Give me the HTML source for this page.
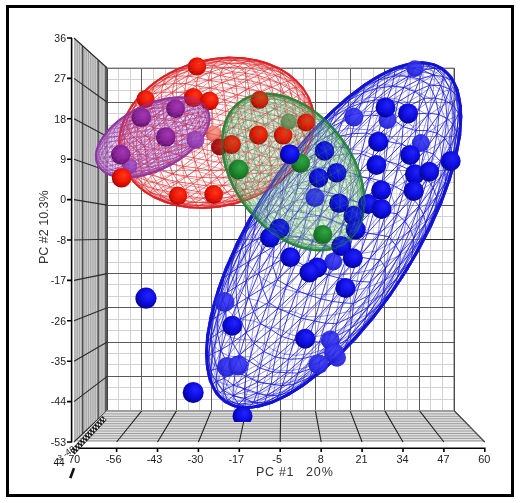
<!DOCTYPE html><html><head><meta charset="utf-8"><style>html,body{margin:0;padding:0;background:#fff}svg{display:block;filter:blur(0.35px)}text{font-family:"Liberation Sans",sans-serif}</style></head><body><svg width="520" height="503" viewBox="0 0 520 503"><defs><radialGradient id="sb" cx="0.56" cy="0.42" r="0.62" fx="0.62" fy="0.35"><stop offset="0" stop-color="#2424fa"/><stop offset="0.5" stop-color="#0e0ee8"/><stop offset="0.85" stop-color="#0505aa"/><stop offset="1" stop-color="#000070"/></radialGradient><radialGradient id="sr" cx="0.56" cy="0.42" r="0.62" fx="0.62" fy="0.35"><stop offset="0" stop-color="#ff3a1a"/><stop offset="0.5" stop-color="#f41800"/><stop offset="0.85" stop-color="#c00800"/><stop offset="1" stop-color="#780000"/></radialGradient><radialGradient id="sp" cx="0.56" cy="0.42" r="0.62" fx="0.62" fy="0.35"><stop offset="0" stop-color="#a838b8"/><stop offset="0.5" stop-color="#8c2499"/><stop offset="0.85" stop-color="#661270"/><stop offset="1" stop-color="#440848"/></radialGradient><radialGradient id="sg" cx="0.56" cy="0.42" r="0.62" fx="0.62" fy="0.35"><stop offset="0" stop-color="#38a848"/><stop offset="0.5" stop-color="#1e8c2e"/><stop offset="0.85" stop-color="#146a20"/><stop offset="1" stop-color="#0a4010"/></radialGradient><radialGradient id="sB" cx="0.56" cy="0.42" r="0.62" fx="0.62" fy="0.35"><stop offset="0" stop-color="#4848f4"/><stop offset="0.5" stop-color="#3a3aee"/><stop offset="0.85" stop-color="#2c2cd8"/><stop offset="1" stop-color="#2020c0"/></radialGradient><radialGradient id="sR" cx="0.56" cy="0.42" r="0.62" fx="0.62" fy="0.35"><stop offset="0" stop-color="#f8a090"/><stop offset="0.5" stop-color="#f08878"/><stop offset="0.85" stop-color="#e07060"/><stop offset="1" stop-color="#c85848"/></radialGradient><radialGradient id="sD" cx="0.56" cy="0.42" r="0.62" fx="0.62" fy="0.35"><stop offset="0" stop-color="#c02020"/><stop offset="0.5" stop-color="#a81818"/><stop offset="0.85" stop-color="#901010"/><stop offset="1" stop-color="#700808"/></radialGradient><radialGradient id="sP" cx="0.56" cy="0.42" r="0.62" fx="0.62" fy="0.35"><stop offset="0" stop-color="#b060c8"/><stop offset="0.5" stop-color="#a050c0"/><stop offset="0.85" stop-color="#8838a8"/><stop offset="1" stop-color="#702890"/></radialGradient><radialGradient id="sG" cx="0.56" cy="0.42" r="0.62" fx="0.62" fy="0.35"><stop offset="0" stop-color="#8aa070"/><stop offset="0.5" stop-color="#7a9464"/><stop offset="0.85" stop-color="#688456"/><stop offset="1" stop-color="#587448"/></radialGradient></defs><rect width="520" height="503" fill="#fff"/><path d="M118.5 68V410.6M130.5 68V410.6M153.5 68V410.6M165.5 68V410.6M188.5 68V410.6M199.5 68V410.6M222.5 68V410.6M234.5 68V410.6M257.5 68V410.6M269.5 68V410.6M292.5 68V410.6M303.5 68V410.6M326.5 68V410.6M338.5 68V410.6M361.5 68V410.6M373.5 68V410.6M396.5 68V410.6M407.5 68V410.6M430.5 68V410.6M442.5 68V410.6M107.2 79.5H454.1M107.2 90.5H454.1M107.2 113.5H454.1M107.2 125.5H454.1M107.2 147.5H454.1M107.2 159.5H454.1M107.2 182.5H454.1M107.2 193.5H454.1M107.2 216.5H454.1M107.2 227.5H454.1M107.2 250.5H454.1M107.2 262.5H454.1M107.2 284.5H454.1M107.2 296.5H454.1M107.2 319.5H454.1M107.2 330.5H454.1M107.2 353.5H454.1M107.2 364.5H454.1M107.2 387.5H454.1M107.2 399.5H454.1" stroke="#d2d2d2" stroke-width="1" fill="none"/><path d="M107.5 68V410.6M141.5 68V410.6M176.5 68V410.6M211.5 68V410.6M245.5 68V410.6M280.5 68V410.6M315.5 68V410.6M350.5 68V410.6M384.5 68V410.6M419.5 68V410.6M454.5 68V410.6M107.2 68.5H454.1M107.2 102.5H454.1M107.2 136.5H454.1M107.2 170.5H454.1M107.2 205.5H454.1M107.2 239.5H454.1M107.2 273.5H454.1M107.2 307.5H454.1M107.2 342.5H454.1M107.2 376.5H454.1M107.2 410.5H454.1" stroke="#5a5a5a" stroke-width="1" fill="none"/><path d="M107.2 239.5H454.1" stroke="#303030" stroke-width="1" fill="none"/><polygon points="74,38 107.2,68 107.2,410.6 74,442" fill="#9c9c9c"/><path d="M75 38.9L75 441.1M76.8 40.5L76.8 439.4M78.6 42.2L78.6 437.7M80.4 43.8L80.4 436M82.2 45.4L82.2 434.2M84 47L84 432.5M85.8 48.7L85.8 430.8M87.6 50.3L87.6 429.1M89.4 51.9L89.4 427.4M91.2 53.5L91.2 425.7M93 55.2L93 424M94.8 56.8L94.8 422.3M96.6 58.4L96.6 420.6M98.4 60.1L98.4 418.9M100.2 61.7L100.2 417.2M102 63.3L102 415.5M103.8 64.9L103.8 413.8M105.6 66.6L105.6 412.1" stroke="#d8d8d8" stroke-width="0.9" fill="none"/><path d="M82.7 45.9L82.7 433.8M98.2 59.9L98.2 419.1M105.8 66.7L105.8 411.9M107.2 68L107.2 410.6" stroke="#3a3a3a" stroke-width="1.1" fill="none"/><path d="M74 38L107.2 68M74 78.4L107.2 102.3M74 118.8L107.2 136.5M74 159.2L107.2 170.8M74 199.6L107.2 205.1M74 240L107.2 239.3M74 280.4L107.2 273.6M74 320.8L107.2 307.8M74 361.2L107.2 342.1M74 401.6L107.2 376.4M74 442L107.2 410.6" stroke="#2a2a2a" stroke-width="1.1" fill="none"/><polygon points="76,442 484.8,442 454.1,410.6 107.2,410.6" fill="#e2e2e2"/><path d="M106.7 411.4H454.9M104.2 413.9H457.3M101.8 416.3H459.7M99.3 418.8H462.1M96.8 421.2H464.5M94.4 423.7H466.9M91.9 426.1H469.3M89.5 428.6H471.7M87 431H474.1M84.6 433.5H476.5M82.1 435.9H478.9M79.6 438.4H481.2M77.2 440.8H483.6" stroke="#9a9a9a" stroke-width="1" fill="none"/><path d="M116.6 442L141.9 410.6M157.5 442L176.6 410.6M198.4 442L211.3 410.6M239.3 442L246 410.6M280.2 442L280.7 410.6M321.2 442L315.4 410.6M362.1 442L350.1 410.6M403 442L384.7 410.6M443.9 442L419.4 410.6M484.8 442L454.1 410.6" stroke="#222" stroke-width="1.1" fill="none"/><path d="M454.1 410.6L484.8 442" stroke="#555" stroke-width="1" fill="none"/><path d="M454.1 68V410.6" stroke="#444" stroke-width="1" fill="none"/><path d="M107.2 410.6H454.1" stroke="#9a9a9a" stroke-width="1" fill="none"/><path d="M107.2 68H454.1" stroke="#8a8a8a" stroke-width="1" fill="none"/><ellipse cx="216.5" cy="132.8" rx="99.8" ry="73.8" transform="rotate(-15 216.5 132.8)" fill="#fff" fill-opacity="0.55"/><ellipse cx="152.7" cy="137.4" rx="62" ry="33.3" transform="rotate(-26.5 152.7 137.4)" fill="#fff" fill-opacity="0.5"/><ellipse cx="333.7" cy="235.2" rx="200" ry="81.3" transform="rotate(-57.1 333.7 235.2)" fill="#fff" fill-opacity="0.35"/><path d="M271.2 187.3L264.5 192.4M271.2 187.3L277.7 184.1M271.2 187.3L259.8 192.8M271.2 187.3L281.2 179.5M271.2 187.3L270.1 184.9M232.3 71.8L245.3 73.1M232.3 71.8L238.1 66.7M232.3 71.8L222.6 68.2M232.3 71.8L220.2 75.4M232.3 71.8L234.3 78.5M146.5 125.4L137.7 129.5M146.5 125.4L144.9 135.8M146.5 125.4L154.4 116.5M146.5 125.4L143.6 117.5M146.5 125.4L155.2 127.8M170.5 196.7L171.7 201.1M170.5 196.7L182.6 200.1M170.5 196.7L159.8 195.2M170.5 196.7L163.4 190.6M170.5 196.7L177.4 193.6M237.6 145L228.9 153.9M237.6 145L244.4 152.4M237.6 145L238.4 134.6M237.6 145L225.2 142.9M237.6 145L250.3 140.5M309.3 110L310.5 120.2M309.3 110L312.8 113M309.3 110L309.1 102M309.3 110L304.5 102.4M309.3 110L305.3 113.7M221.6 202.4L226.5 204.6M221.6 202.4L234.8 200.5M221.6 202.4L208.4 203M221.6 202.4L210.8 206.1M221.6 202.4L216.6 198.5M221.6 202.4L232.3 197M134.9 183.8L143.8 191.7M134.9 183.8L141.9 188.7M134.9 183.8L129.6 177.9M134.9 183.8L128 174.6M134.9 183.8L135.4 181M303.2 151.4L297.4 161.4M303.2 151.4L303 156.9M303.2 151.4L308.9 144.8M303.2 151.4L307.4 141.1M303.2 151.4L301.3 145.5M303.2 151.4L295.3 157.6M148.3 166L142.1 172M148.3 166L152.1 175.1M148.3 166L145.8 156.3M148.3 166L138.4 160.8M148.3 166L156.2 159.2M148.3 166L160 170.4M120.8 141.8L118.7 145.7M120.8 141.8L120.9 153.3M120.8 141.8L124.4 148.6M120.8 141.8L124.7 137.8M120.8 141.8L123.1 130.1M120.8 141.8L119.5 134.8M261.1 172L252.3 181.6M261.1 172L265 177.1M261.1 172L256.2 166M261.1 172L247 175M261.1 172L268.8 161.4M261.1 172L274 168M201.9 177.5L193.2 183.9M201.9 177.5L206.6 185.9M201.9 177.5L217.1 177.8M201.9 177.5L210.9 170.3M201.9 177.5L197.6 168.1M201.9 177.5L187.1 176.2M280.3 83.6L275.5 75.2M280.3 83.6L269.6 79M280.3 83.6L289.8 89.1M280.3 83.6L287.5 81.2M280.3 83.6L271.6 87.1M280.3 83.6L283.6 93.1M298.1 81.8L296.5 80.3M252.8 59.4L248.5 60.4M252.8 59.4L261.5 63M252.8 59.4L266.2 62.5M252.8 59.4L256.4 59.7M252.8 59.4L238.4 58M252.8 59.4L243.2 57.6M193.6 64.9L203.1 64.7M193.6 64.9L208.5 60.8M193.6 64.9L197.5 61.9M193.6 64.9L184.6 66.4M193.6 64.9L190.3 69.7M193.6 64.9L179.3 70.7M143.2 96.4L153.8 86.6M143.2 96.4L145.9 90.6M143.2 96.4L141.9 102.9M143.2 96.4L151.4 94M143.2 96.4L134.4 107.1M143.2 96.4L136.8 99.7M184.6 92.6L196.2 85.9M184.6 92.6L185.8 83.7M184.6 92.6L172.4 92M184.6 92.6L173.7 100M184.6 92.6L197.6 94.1M184.6 92.6L184.2 102.5M187.8 135.6L185.8 124.2M187.8 135.6L176.1 133M187.8 135.6L200 138.1M187.8 135.6L200.1 127.3M187.8 135.6L190.4 146.8M187.8 135.6L176.2 143.8M238.2 104.1L237.3 94.8M238.2 104.1L224.8 99.9M238.2 104.1L225.6 111.4M238.2 104.1L238.7 114M238.2 104.1L250.2 97.5M238.2 104.1L251.1 109M283.5 126.6L274 120.3M283.5 126.6L273.4 131.2M283.5 126.6L292.3 122M283.5 126.6L285.2 114.9M283.5 126.6L291.3 132.9M283.5 126.6L280.1 138.4M256.8 196.4L264.5 192.4M256.8 196.4L252.7 197.7M283 180L277.7 184.1M283 180L287.4 176M247.6 197.3L259.8 192.8M247.6 197.3L252.7 197.7M247.6 197.3L239.6 201.9M247.6 197.3L234.8 200.5M247.6 197.3L258.4 190.1M247.6 197.3L245.4 194.3M231.2 205.1L226.5 204.6M231.2 205.1L239.6 201.9M231.2 205.1L244.3 201.4M231.2 205.1L215.7 207.5M173.8 204.2L171.7 201.1M173.8 204.2L184.1 204.1M173.8 204.2L186.6 206.9M173.8 204.2L176.6 205.9M173.8 204.2L161.3 199.2M173.8 204.2L163.6 201.9M200.1 208L189.8 208M200.1 208L186.6 206.9M200.1 208L197.5 205.8M200.1 208L210.8 206.1M200.1 208L215.7 207.5M200.1 208L204.6 208.6M195.3 202.2L184.1 204.1M195.3 202.2L182.6 200.1M195.3 202.2L208.4 203M195.3 202.2L197.5 205.8M195.3 202.2L189.8 196.6M195.3 202.2L203.3 198.2M150.2 192.5L159.8 195.2M150.2 192.5L161.3 199.2M150.2 192.5L151.7 196M150.2 192.5L141.9 188.7M150.2 192.5L152.9 188.6M150.2 192.5L143.2 185.3M154.5 198.2L143.8 191.7M154.5 198.2L151.7 196M154.5 198.2L163.6 201.9M300.6 161.7L296.1 166.6M300.6 161.7L303 156.9M290 170.8L287.4 176M290 170.8L281.2 179.5M290 170.8L297.4 161.4M290 170.8L296.1 166.6M290 170.8L279.9 176.7M290 170.8L288.5 167.3M309.8 130.7L310.5 120.2M309.8 130.7L313.4 123.4M309.8 130.7L312.1 134.3M309.8 130.7L307.4 141.1M309.8 130.7L305.8 124.1M309.8 130.7L304.5 135M312.4 137.9L308.9 144.8M312.4 137.9L312.1 134.3M312.4 137.9L314.5 127M312.4 137.9L307.7 150M314.5 116.3L313.4 123.4M314.5 116.3L312.8 113M314.5 116.3L314.5 127M314.5 116.3L312.1 105M123.3 164.3L128 174.6M123.3 164.3L123.6 168.1M123.3 164.3L119.9 157.1M123.3 164.3L120.9 153.3M123.3 164.3L129.4 171.2M123.3 164.3L125.6 160M118.5 149.3L118.7 145.7M118.5 149.3L119.9 157.1M157.2 183.3L163.4 190.6M157.2 183.3L152.9 188.6M157.2 183.3L146.8 180.7M157.2 183.3L152.1 175.1M157.2 183.3L170.5 187M157.2 183.3L164.6 179M137.8 177L142.1 172M137.8 177L146.8 180.7M137.8 177L143.2 185.3M137.8 177L135.4 181M137.8 177L129.4 171.2M137.8 177L132.9 166.5M130.4 133.6L137.7 129.5M130.4 133.6L136.5 140M130.4 133.6L129.5 144.4M130.4 133.6L124.7 137.8M130.4 133.6L135.1 121.7M130.4 133.6L128.1 125.9M130.3 155L124.4 148.6M130.3 155L129.5 144.4M130.3 155L136.7 150.8M130.3 155L138.4 160.8M130.3 155L132.9 166.5M130.3 155L125.6 160M144.7 146.2L136.5 140M144.7 146.2L144.9 135.8M144.7 146.2L145.8 156.3M144.7 146.2L136.7 150.8M144.7 146.2L154.1 138.4M144.7 146.2L154.5 149.1M211.5 192.9L216.6 198.5M211.5 192.9L203.3 198.2M211.5 192.9L198.1 191.7M211.5 192.9L206.6 185.9M211.5 192.9L227.2 192.2M211.5 192.9L222 185.6M185 189.3L189.8 196.6M185 189.3L177.4 193.6M185 189.3L193.2 183.9M185 189.3L198.1 191.7M185 189.3L170.5 187M185 189.3L178.6 182M268.1 181.5L270.1 184.9M268.1 181.5L258.4 190.1M268.1 181.5L255.8 186.3M268.1 181.5L265 177.1M268.1 181.5L279.9 176.7M268.1 181.5L277.4 172.7M242.6 190L252.3 181.6M242.6 190L255.8 186.3M242.6 190L245.4 194.3M242.6 190L232.3 197M242.6 190L227.2 192.2M242.6 190L237.7 184.1M219.9 162.4L228.9 153.9M219.9 162.4L235.5 161.3M219.9 162.4L226.2 170M219.9 162.4L210.9 170.3M219.9 162.4L216.2 151.7M219.9 162.4L206.7 160.4M232.3 176.9L217.1 177.8M232.3 176.9L226.2 170M232.3 176.9L241.7 168.6M232.3 176.9L247 175M232.3 176.9L237.7 184.1M232.3 176.9L222 185.6M250.7 159.5L235.5 161.3M250.7 159.5L244.4 152.4M250.7 159.5L256.2 166M250.7 159.5L241.7 168.6M250.7 159.5L257 147.9M250.7 159.5L263.4 155M257.9 75.5L245.3 73.1M257.9 75.5L251.2 68.4M257.9 75.5L264 71.3M257.9 75.5L269.6 79M257.9 75.5L247.3 80.1M257.9 75.5L260.1 83.1M269.1 68.3L275.5 75.2M269.1 68.3L264 71.3M269.1 68.3L256.8 64.9M269.1 68.3L261.5 63M269.1 68.3L281.9 73.4M269.1 68.3L274.6 67M243.5 62.9L251.2 68.4M243.5 62.9L238.1 66.7M243.5 62.9L248.5 60.4M243.5 62.9L256.8 64.9M243.5 62.9L228.3 63.5M243.5 62.9L233.7 60M307.1 94.5L309.1 102M307.1 94.5L303.7 94.4M307.1 94.5L300.9 86.8M307.1 94.5L303.4 87.7M307.1 94.5L312.1 105M307.1 94.5L309.4 97.5M292.9 80.1L296.5 80.3M292.9 80.1L300.9 86.8M292.9 80.1L296.2 87.3M292.9 80.1L287.5 81.2M292.9 80.1L281.9 73.4M292.9 80.1L286.6 73M297.9 95.4L303.7 94.4M297.9 95.4L304.5 102.4M297.9 95.4L289.8 89.1M297.9 95.4L296.2 87.3M297.9 95.4L299.8 106.2M297.9 95.4L292.4 99.2M278.5 67.4L266.2 62.5M278.5 67.4L286.6 73M278.5 67.4L274.6 67M223.5 58.5L238.4 58M223.5 58.5L233.7 60M223.5 58.5L218.2 61.4M223.5 58.5L208.5 60.8M223.5 58.5L228.4 57M223.5 58.5L212.6 58.5M212.8 65.8L228.3 63.5M212.8 65.8L222.6 68.2M212.8 65.8L203.1 64.7M212.8 65.8L218.2 61.4M212.8 65.8L210.4 72.2M212.8 65.8L200.1 70.2M176.2 69.2L188.7 64.2M176.2 69.2L184.6 66.4M176.2 69.2L162.4 76.7M176.2 69.2L170.6 73M201.8 60.5L197.5 61.9M201.8 60.5L212.6 58.5M187.7 76L190.3 69.7M187.7 76L200.1 70.2M187.7 76L197.7 77.5M187.7 76L185.8 83.7M187.7 76L176.3 76.2M187.7 76L173.9 83.6M208.1 80.2L210.4 72.2M208.1 80.2L220.2 75.4M208.1 80.2L196.2 85.9M208.1 80.2L197.7 77.5M208.1 80.2L222.1 82.5M208.1 80.2L209.6 87.9M150 85.6L162.4 76.7M150 85.6L157.4 81.3M150 85.6L145.9 90.6M150 85.6L140.4 94.3M165.9 78L153.8 86.6M165.9 78L157.4 81.3M165.9 78L170.6 73M165.9 78L179.3 70.7M165.9 78L176.3 76.2M165.9 78L162.9 84.6M163.5 108L154.4 116.5M163.5 108L151.9 108.7M163.5 108L161.8 99.9M163.5 108L173.7 100M163.5 108L163.7 119M163.5 108L173.6 110.3M161.2 92.5L172.4 92M161.2 92.5L161.8 99.9M161.2 92.5L150.9 100.9M161.2 92.5L151.4 94M161.2 92.5L162.9 84.6M161.2 92.5L173.9 83.6M142 110L151.9 108.7M142 110L143.6 117.5M142 110L141.9 102.9M142 110L150.9 100.9M142 110L135.1 121.7M142 110L134 114M211.1 96.6L197.6 94.1M211.1 96.6L209.6 87.9M211.1 96.6L223.6 90.9M211.1 96.6L224.8 99.9M211.1 96.6L197.6 104.5M211.1 96.6L211.9 107.5M236 86.2L222.1 82.5M236 86.2L234.3 78.5M236 86.2L237.3 94.8M236 86.2L223.6 90.9M236 86.2L247.3 80.1M236 86.2L249 88.5M165.2 130.4L155.2 127.8M165.2 130.4L163.7 119M165.2 130.4L174.5 121.6M165.2 130.4L176.1 133M165.2 130.4L154.1 138.4M165.2 130.4L164.8 141.1M184.6 113.1L185.8 124.2M184.6 113.1L174.5 121.6M184.6 113.1L173.6 110.3M184.6 113.1L184.2 102.5M184.6 113.1L197.6 104.5M184.6 113.1L198.5 115.9M238.8 124.2L238.4 134.6M238.8 124.2L225.8 132.4M238.8 124.2L225.9 121.6M238.8 124.2L238.7 114M238.8 124.2L251 130M238.8 124.2L251.3 119.2M212.8 119.2L225.6 111.4M212.8 119.2L225.9 121.6M212.8 119.2L212.6 129.8M212.8 119.2L200.1 127.3M212.8 119.2L198.5 115.9M212.8 119.2L211.9 107.5M212.6 140.6L225.8 132.4M212.6 140.6L225.2 142.9M212.6 140.6L200 138.1M212.6 140.6L212.6 129.8M212.6 140.6L216.2 151.7M212.6 140.6L203 149.3M261.5 91.8L250.2 97.5M261.5 91.8L249 88.5M261.5 91.8L260.1 83.1M261.5 91.8L271.6 87.1M261.5 91.8L262.9 102.7M261.5 91.8L274.1 97.3M262.3 135.9L250.3 140.5M262.3 135.9L251 130M262.3 135.9L263.2 125.1M262.3 135.9L273.4 131.2M262.3 135.9L257 147.9M262.3 135.9L269.3 143.1M263.1 114.4L274 120.3M263.1 114.4L263.2 125.1M263.1 114.4L251.3 119.2M263.1 114.4L251.1 109M263.1 114.4L262.9 102.7M263.1 114.4L275 108.7M285.3 103.6L283.6 93.1M285.3 103.6L292.4 99.2M285.3 103.6L293.2 110.5M285.3 103.6L285.2 114.9M285.3 103.6L275 108.7M285.3 103.6L274.1 97.3M299.6 117.7L299.8 106.2M299.6 117.7L305.3 113.7M299.6 117.7L292.3 122M299.6 117.7L293.2 110.5M299.6 117.7L305.8 124.1M299.6 117.7L299.3 128.5M127.6 118.4L134.4 107.1M127.6 118.4L134 114M127.6 118.4L128.1 125.9M127.6 118.4L123.1 130.1M127.6 118.4L128.9 110.8M127.6 118.4L122.9 122.9M132.4 103.9L140.4 94.3M132.4 103.9L136.8 99.7M132.4 103.9L128.9 110.8M132.4 103.9L125.3 115.6M120.6 127.7L119.5 134.8M120.6 127.7L122.9 122.9M193.7 157.8L190.4 146.8M193.7 157.8L203 149.3M193.7 157.8L206.7 160.4M193.7 157.8L197.6 168.1M193.7 157.8L179.2 155M193.7 157.8L182.9 166.2M165.6 151.7L156.2 159.2M165.6 151.7L154.5 149.1M165.6 151.7L164.8 141.1M165.6 151.7L176.2 143.8M165.6 151.7L179.2 155M165.6 151.7L168.6 163.1M173 173.8L187.1 176.2M173 173.8L178.6 182M173 173.8L164.6 179M173 173.8L160 170.4M173 173.8L168.6 163.1M173 173.8L182.9 166.2M297.3 139.3L291.3 132.9M297.3 139.3L299.3 128.5M297.3 139.3L304.5 135M297.3 139.3L301.3 145.5M297.3 139.3L287.2 144.9M297.3 139.3L292.4 151.5M275.1 150.1L268.8 161.4M275.1 150.1L263.4 155M275.1 150.1L269.3 143.1M275.1 150.1L280.1 138.4M275.1 150.1L287.2 144.9M275.1 150.1L281.2 157M285.5 163.2L295.3 157.6M285.5 163.2L288.5 167.3M285.5 163.2L277.4 172.7M285.5 163.2L274 168M285.5 163.2L281.2 157M285.5 163.2L292.4 151.5M264.5 192.4L270.6 188.9M264.5 192.4L277.7 184.1M264.5 192.4L259.8 192.8M264.5 192.4L252.7 197.7M270.6 188.9L277.7 184.1M277.7 184.1L287.4 176M277.7 184.1L281.2 179.5M259.8 192.8L252.7 197.7M259.8 192.8L270.1 184.9M259.8 192.8L258.4 190.1M252.7 197.7L239.6 201.9M252.7 197.7L244.3 201.4M226.5 204.6L239.6 201.9M226.5 204.6L234.8 200.5M226.5 204.6L210.8 206.1M226.5 204.6L215.7 207.5M239.6 201.9L234.8 200.5M239.6 201.9L244.3 201.4M234.8 200.5L245.4 194.3M234.8 200.5L232.3 197M171.7 201.1L184.1 204.1M171.7 201.1L182.6 200.1M171.7 201.1L159.8 195.2M171.7 201.1L161.3 199.2M184.1 204.1L182.6 200.1M184.1 204.1L186.6 206.9M184.1 204.1L197.5 205.8M182.6 200.1L189.8 196.6M182.6 200.1L177.4 193.6M189.8 208L186.6 206.9M189.8 208L176.6 205.9M186.6 206.9L176.6 205.9M186.6 206.9L197.5 205.8M176.6 205.9L163.6 201.9M208.4 203L197.5 205.8M208.4 203L210.8 206.1M208.4 203L216.6 198.5M208.4 203L203.3 198.2M197.5 205.8L210.8 206.1M210.8 206.1L215.7 207.5M220.4 207.1L215.7 207.5M215.7 207.5L204.6 208.6M159.8 195.2L161.3 199.2M159.8 195.2L163.4 190.6M159.8 195.2L152.9 188.6M161.3 199.2L151.7 196M161.3 199.2L163.6 201.9M143.8 191.7L151.7 196M143.8 191.7L141.9 188.7M151.7 196L141.9 188.7M151.7 196L163.6 201.9M141.9 188.7L143.2 185.3M141.9 188.7L135.4 181M163.6 201.9L166.8 203.1M129.6 177.9L128 174.6M129.6 177.9L123.6 168.1M287.4 176L281.2 179.5M287.4 176L292.6 171.3M287.4 176L296.1 166.6M281.2 179.5L270.1 184.9M281.2 179.5L279.9 176.7M292.6 171.3L296.1 166.6M297.4 161.4L296.1 166.6M297.4 161.4L303 156.9M297.4 161.4L295.3 157.6M297.4 161.4L288.5 167.3M296.1 166.6L303 156.9M303 156.9L308.9 144.8M303 156.9L307.7 150M310.5 120.2L313.4 123.4M310.5 120.2L312.8 113M310.5 120.2L305.3 113.7M310.5 120.2L305.8 124.1M313.4 123.4L312.8 113M313.4 123.4L312.1 134.3M313.4 123.4L314.5 127M312.8 113L309.1 102M312.8 113L312.1 105M308.9 144.8L312.1 134.3M308.9 144.8L307.4 141.1M308.9 144.8L307.7 150M312.1 134.3L307.4 141.1M312.1 134.3L314.5 127M307.4 141.1L304.5 135M307.4 141.1L301.3 145.5M128 174.6L123.6 168.1M128 174.6L135.4 181M128 174.6L129.4 171.2M123.6 168.1L119.9 157.1M118.7 145.7L119.9 157.1M118.7 145.7L120.9 153.3M118.7 145.7L119.5 134.8M118.7 145.7L118.5 138.6M119.9 157.1L120.9 153.3M120.9 153.3L124.4 148.6M120.9 153.3L125.6 160M163.4 190.6L152.9 188.6M163.4 190.6L177.4 193.6M163.4 190.6L170.5 187M152.9 188.6L146.8 180.7M152.9 188.6L143.2 185.3M142.1 172L146.8 180.7M142.1 172L152.1 175.1M142.1 172L138.4 160.8M142.1 172L132.9 166.5M146.8 180.7L152.1 175.1M146.8 180.7L143.2 185.3M152.1 175.1L164.6 179M152.1 175.1L160 170.4M143.2 185.3L135.4 181M135.4 181L129.4 171.2M137.7 129.5L136.5 140M137.7 129.5L144.9 135.8M137.7 129.5L143.6 117.5M137.7 129.5L135.1 121.7M136.5 140L144.9 135.8M136.5 140L129.5 144.4M136.5 140L136.7 150.8M144.9 135.8L155.2 127.8M144.9 135.8L154.1 138.4M124.4 148.6L129.5 144.4M124.4 148.6L124.7 137.8M124.4 148.6L125.6 160M129.5 144.4L124.7 137.8M129.5 144.4L136.7 150.8M124.7 137.8L128.1 125.9M124.7 137.8L123.1 130.1M145.8 156.3L136.7 150.8M145.8 156.3L138.4 160.8M145.8 156.3L156.2 159.2M145.8 156.3L154.5 149.1M136.7 150.8L138.4 160.8M138.4 160.8L132.9 166.5M129.4 171.2L132.9 166.5M129.4 171.2L125.6 160M132.9 166.5L125.6 160M189.8 196.6L177.4 193.6M189.8 196.6L203.3 198.2M189.8 196.6L198.1 191.7M177.4 193.6L170.5 187M216.6 198.5L203.3 198.2M216.6 198.5L232.3 197M216.6 198.5L227.2 192.2M203.3 198.2L198.1 191.7M193.2 183.9L198.1 191.7M193.2 183.9L206.6 185.9M193.2 183.9L187.1 176.2M193.2 183.9L178.6 182M198.1 191.7L206.6 185.9M206.6 185.9L217.1 177.8M206.6 185.9L222 185.6M270.1 184.9L258.4 190.1M270.1 184.9L279.9 176.7M258.4 190.1L255.8 186.3M258.4 190.1L245.4 194.3M252.3 181.6L255.8 186.3M252.3 181.6L265 177.1M252.3 181.6L247 175M252.3 181.6L237.7 184.1M255.8 186.3L265 177.1M255.8 186.3L245.4 194.3M265 177.1L277.4 172.7M265 177.1L274 168M245.4 194.3L232.3 197M232.3 197L227.2 192.2M228.9 153.9L235.5 161.3M228.9 153.9L244.4 152.4M228.9 153.9L225.2 142.9M228.9 153.9L216.2 151.7M235.5 161.3L244.4 152.4M235.5 161.3L226.2 170M235.5 161.3L241.7 168.6M244.4 152.4L250.3 140.5M244.4 152.4L257 147.9M217.1 177.8L226.2 170M217.1 177.8L210.9 170.3M217.1 177.8L222 185.6M226.2 170L210.9 170.3M226.2 170L241.7 168.6M210.9 170.3L206.7 160.4M210.9 170.3L197.6 168.1M256.2 166L241.7 168.6M256.2 166L247 175M256.2 166L268.8 161.4M256.2 166L263.4 155M241.7 168.6L247 175M247 175L237.7 184.1M227.2 192.2L237.7 184.1M227.2 192.2L222 185.6M237.7 184.1L222 185.6M245.3 73.1L251.2 68.4M245.3 73.1L238.1 66.7M245.3 73.1L234.3 78.5M245.3 73.1L247.3 80.1M251.2 68.4L238.1 66.7M251.2 68.4L264 71.3M251.2 68.4L256.8 64.9M238.1 66.7L228.3 63.5M238.1 66.7L222.6 68.2M275.5 75.2L264 71.3M275.5 75.2L269.6 79M275.5 75.2L287.5 81.2M275.5 75.2L281.9 73.4M264 71.3L269.6 79M264 71.3L256.8 64.9M269.6 79L260.1 83.1M269.6 79L271.6 87.1M248.5 60.4L256.8 64.9M248.5 60.4L261.5 63M248.5 60.4L238.4 58M248.5 60.4L233.7 60M256.8 64.9L261.5 63M261.5 63L266.2 62.5M261.5 63L274.6 67M309.1 102L303.7 94.4M309.1 102L304.5 102.4M309.1 102L312.1 105M303.7 94.4L304.5 102.4M303.7 94.4L300.9 86.8M303.7 94.4L296.2 87.3M304.5 102.4L299.8 106.2M304.5 102.4L305.3 113.7M296.5 80.3L300.9 86.8M296.5 80.3L303.4 87.7M296.5 80.3L289.2 73.9M296.5 80.3L286.6 73M300.9 86.8L303.4 87.7M300.9 86.8L296.2 87.3M289.8 89.1L296.2 87.3M289.8 89.1L287.5 81.2M289.8 89.1L283.6 93.1M289.8 89.1L292.4 99.2M296.2 87.3L287.5 81.2M287.5 81.2L281.9 73.4M266.2 62.5L256.4 59.7M266.2 62.5L274.6 67M289.2 73.9L286.6 73M281.9 73.4L286.6 73M281.9 73.4L274.6 67M286.6 73L274.6 67M228.3 63.5L222.6 68.2M228.3 63.5L233.7 60M228.3 63.5L218.2 61.4M222.6 68.2L210.4 72.2M222.6 68.2L220.2 75.4M238.4 58L233.7 60M238.4 58L243.2 57.6M238.4 58L228.4 57M233.7 60L218.2 61.4M203.1 64.7L218.2 61.4M203.1 64.7L208.5 60.8M203.1 64.7L190.3 69.7M203.1 64.7L200.1 70.2M218.2 61.4L208.5 60.8M208.5 60.8L197.5 61.9M208.5 60.8L212.6 58.5M243.2 57.6L228.4 57M197.5 61.9L188.7 64.2M197.5 61.9L184.6 66.4M197.5 61.9L212.6 58.5M188.7 64.2L184.6 66.4M184.6 66.4L170.6 73M184.6 66.4L179.3 70.7M228.4 57L212.6 58.5M210.4 72.2L220.2 75.4M210.4 72.2L200.1 70.2M210.4 72.2L197.7 77.5M220.2 75.4L222.1 82.5M220.2 75.4L234.3 78.5M190.3 69.7L200.1 70.2M190.3 69.7L179.3 70.7M190.3 69.7L176.3 76.2M200.1 70.2L197.7 77.5M196.2 85.9L197.7 77.5M196.2 85.9L185.8 83.7M196.2 85.9L197.6 94.1M196.2 85.9L209.6 87.9M197.7 77.5L185.8 83.7M185.8 83.7L172.4 92M185.8 83.7L173.9 83.6M162.4 76.7L157.4 81.3M162.4 76.7L170.6 73M153.8 86.6L157.4 81.3M153.8 86.6L145.9 90.6M153.8 86.6L151.4 94M153.8 86.6L162.9 84.6M157.4 81.3L145.9 90.6M157.4 81.3L170.6 73M145.9 90.6L140.4 94.3M145.9 90.6L136.8 99.7M170.6 73L179.3 70.7M179.3 70.7L176.3 76.2M154.4 116.5L151.9 108.7M154.4 116.5L143.6 117.5M154.4 116.5L155.2 127.8M154.4 116.5L163.7 119M151.9 108.7L143.6 117.5M151.9 108.7L161.8 99.9M151.9 108.7L150.9 100.9M143.6 117.5L135.1 121.7M172.4 92L161.8 99.9M172.4 92L173.7 100M172.4 92L173.9 83.6M161.8 99.9L173.7 100M161.8 99.9L150.9 100.9M173.7 100L173.6 110.3M173.7 100L184.2 102.5M141.9 102.9L150.9 100.9M141.9 102.9L151.4 94M141.9 102.9L134.4 107.1M141.9 102.9L134 114M150.9 100.9L151.4 94M151.4 94L162.9 84.6M176.3 76.2L162.9 84.6M176.3 76.2L173.9 83.6M162.9 84.6L173.9 83.6M222.1 82.5L234.3 78.5M222.1 82.5L209.6 87.9M222.1 82.5L223.6 90.9M234.3 78.5L247.3 80.1M197.6 94.1L209.6 87.9M197.6 94.1L184.2 102.5M197.6 94.1L197.6 104.5M209.6 87.9L223.6 90.9M237.3 94.8L223.6 90.9M237.3 94.8L224.8 99.9M237.3 94.8L250.2 97.5M237.3 94.8L249 88.5M223.6 90.9L224.8 99.9M224.8 99.9L225.6 111.4M224.8 99.9L211.9 107.5M155.2 127.8L163.7 119M155.2 127.8L154.1 138.4M163.7 119L174.5 121.6M163.7 119L173.6 110.3M185.8 124.2L174.5 121.6M185.8 124.2L176.1 133M185.8 124.2L200.1 127.3M185.8 124.2L198.5 115.9M174.5 121.6L176.1 133M174.5 121.6L173.6 110.3M176.1 133L164.8 141.1M176.1 133L176.2 143.8M173.6 110.3L184.2 102.5M184.2 102.5L197.6 104.5M238.4 134.6L225.8 132.4M238.4 134.6L225.2 142.9M238.4 134.6L250.3 140.5M238.4 134.6L251 130M225.8 132.4L225.2 142.9M225.8 132.4L225.9 121.6M225.8 132.4L212.6 129.8M225.2 142.9L216.2 151.7M225.6 111.4L225.9 121.6M225.6 111.4L238.7 114M225.6 111.4L211.9 107.5M225.9 121.6L238.7 114M225.9 121.6L212.6 129.8M238.7 114L251.3 119.2M238.7 114L251.1 109M200 138.1L212.6 129.8M200 138.1L200.1 127.3M200 138.1L190.4 146.8M200 138.1L203 149.3M212.6 129.8L200.1 127.3M200.1 127.3L198.5 115.9M197.6 104.5L198.5 115.9M197.6 104.5L211.9 107.5M198.5 115.9L211.9 107.5M247.3 80.1L249 88.5M247.3 80.1L260.1 83.1M250.2 97.5L249 88.5M250.2 97.5L251.1 109M250.2 97.5L262.9 102.7M249 88.5L260.1 83.1M260.1 83.1L271.6 87.1M271.6 87.1L283.6 93.1M271.6 87.1L274.1 97.3M250.3 140.5L251 130M250.3 140.5L257 147.9M251 130L263.2 125.1M251 130L251.3 119.2M274 120.3L263.2 125.1M274 120.3L273.4 131.2M274 120.3L285.2 114.9M274 120.3L275 108.7M263.2 125.1L273.4 131.2M263.2 125.1L251.3 119.2M273.4 131.2L269.3 143.1M273.4 131.2L280.1 138.4M251.3 119.2L251.1 109M251.1 109L262.9 102.7M299.8 106.2L305.3 113.7M299.8 106.2L292.4 99.2M299.8 106.2L293.2 110.5M305.3 113.7L305.8 124.1M283.6 93.1L292.4 99.2M283.6 93.1L274.1 97.3M292.4 99.2L293.2 110.5M292.3 122L293.2 110.5M292.3 122L285.2 114.9M292.3 122L291.3 132.9M292.3 122L299.3 128.5M293.2 110.5L285.2 114.9M285.2 114.9L275 108.7M262.9 102.7L275 108.7M262.9 102.7L274.1 97.3M275 108.7L274.1 97.3M312.1 105L313.1 108.5M312.1 105L309.4 97.5M135.1 121.7L134 114M135.1 121.7L128.1 125.9M134.4 107.1L134 114M134.4 107.1L136.8 99.7M134.4 107.1L128.9 110.8M134 114L128.1 125.9M128.1 125.9L123.1 130.1M123.1 130.1L119.5 134.8M123.1 130.1L122.9 122.9M140.4 94.3L136.8 99.7M136.8 99.7L128.9 110.8M119.5 134.8L118.5 138.6M119.5 134.8L122.9 122.9M128.9 110.8L125.3 115.6M128.9 110.8L122.9 122.9M125.3 115.6L122.9 122.9M216.2 151.7L203 149.3M216.2 151.7L206.7 160.4M190.4 146.8L203 149.3M190.4 146.8L176.2 143.8M190.4 146.8L179.2 155M203 149.3L206.7 160.4M206.7 160.4L197.6 168.1M197.6 168.1L187.1 176.2M197.6 168.1L182.9 166.2M154.1 138.4L154.5 149.1M154.1 138.4L164.8 141.1M156.2 159.2L154.5 149.1M156.2 159.2L160 170.4M156.2 159.2L168.6 163.1M154.5 149.1L164.8 141.1M164.8 141.1L176.2 143.8M176.2 143.8L179.2 155M170.5 187L178.6 182M170.5 187L164.6 179M187.1 176.2L178.6 182M187.1 176.2L182.9 166.2M178.6 182L164.6 179M164.6 179L160 170.4M160 170.4L168.6 163.1M179.2 155L168.6 163.1M179.2 155L182.9 166.2M168.6 163.1L182.9 166.2M305.8 124.1L299.3 128.5M305.8 124.1L304.5 135M291.3 132.9L299.3 128.5M291.3 132.9L280.1 138.4M291.3 132.9L287.2 144.9M299.3 128.5L304.5 135M304.5 135L301.3 145.5M301.3 145.5L295.3 157.6M301.3 145.5L292.4 151.5M257 147.9L263.4 155M257 147.9L269.3 143.1M268.8 161.4L263.4 155M268.8 161.4L274 168M268.8 161.4L281.2 157M263.4 155L269.3 143.1M269.3 143.1L280.1 138.4M280.1 138.4L287.2 144.9M279.9 176.7L288.5 167.3M279.9 176.7L277.4 172.7M295.3 157.6L288.5 167.3M295.3 157.6L292.4 151.5M288.5 167.3L277.4 172.7M277.4 172.7L274 168M274 168L281.2 157M287.2 144.9L281.2 157M287.2 144.9L292.4 151.5M281.2 157L292.4 151.5" stroke="#e0262a" stroke-width="0.85" stroke-opacity="0.8" fill="none"/><ellipse cx="216.5" cy="132.8" rx="98.9" ry="72.9" transform="rotate(-15 216.5 132.8)" fill="none" stroke="#d82020" stroke-width="1.8"/><ellipse cx="216.5" cy="132.8" rx="96.3" ry="70.3" transform="rotate(-15 216.5 132.8)" fill="none" stroke="#d82020" stroke-width="0.8" stroke-opacity="0.6"/><ellipse cx="216.5" cy="132.8" rx="93.8" ry="67.8" transform="rotate(-15 216.5 132.8)" fill="none" stroke="#d82020" stroke-width="0.7" stroke-opacity="0.4"/><path d="M120.7 124L117.9 123.6M120.7 124L114.6 129M120.7 124L127 121.5M120.7 124L125.6 119M120.7 124L120.1 127.7M176.8 114.2L183.6 112.1M176.8 114.2L177.2 109.9M176.8 114.2L169.9 114M176.8 114.2L171.8 118.7M176.8 114.2L180.2 117.5M132.5 154.4L125.4 157M132.5 154.4L131.7 159.2M132.5 154.4L137.8 149.5M132.5 154.4L129.1 151M132.5 154.4L139.4 154.5M137.4 177L134.8 177.4M137.4 177L143.5 175.9M137.4 177L129.9 177.8M137.4 177L135.4 176.5M137.4 177L143.9 175.3M187 146.9L182 152.3M187 146.9L189.3 148.3M187 146.9L188.1 142.6M187 146.9L181.2 148.8M187 146.9L193 142.3M209 112L208.3 110.4M96.4 162.8L98.4 166.9M96.4 162.8L95.5 159.3M96.4 162.8L95.9 158.7M96.4 162.8L97.7 163.4M110.6 175.6L114 176.7M110.6 175.6L116.3 177.1M110.6 175.6L105.6 173.4M110.6 175.6L107.6 174.5M110.6 175.6L108.2 173.5M110.6 175.6L114.6 175.7M100.8 144.5L98.4 145.3M100.8 144.5L98.1 149.5M100.8 144.5L104.5 139.3M100.8 144.5L102.2 139.3M100.8 144.5L104.4 143.4M100.8 144.5L100.6 149.5M113.7 123.9L108.8 128.9M113.7 123.9L114.4 123.6M113.7 123.9L120 118.7M131.8 170.6L125.3 173.2M131.8 170.6L132.6 173.3M131.8 170.6L131.3 167.4M131.8 170.6L124.6 169.7M131.8 170.6L138.8 167.2M131.8 170.6L139.5 170.8M107.7 162.3L103.4 163.2M107.7 162.3L106.7 166.8M107.7 162.3L112.4 165.5M107.7 162.3L112.9 161M107.7 162.3L109.8 157.2M107.7 162.3L104.1 158.5M191.7 150.9L191.6 150.2M191.7 150.9L185.8 155.5M191.7 150.9L197 145.3M163.9 166.3L157.2 169.9M163.9 166.3L163.9 168M163.9 166.3L171.7 163.3M163.9 166.3L170.3 162.1M163.9 166.3L163.5 163.8M163.9 166.3L155.8 168.5M200 108.8L195.4 105.5M200 108.8L195.3 109.4M200 108.8L203.7 108.8M200 108.8L200.4 105.2M200 108.8L198.3 113.2M200 108.8L203.4 112.9M175.9 100.5L176.8 103M175.9 100.5L183.2 101.3M175.9 100.5L181.8 98.7M175.9 100.5L174.5 98.7M175.9 100.5L169.4 103.2M175.9 100.5L168 100.6M142.9 106.3L151.3 103.5M142.9 106.3L149.2 103.1M142.9 106.3L136.8 110M142.9 106.3L143.9 107.6M142.9 106.3L134.8 109.8M142.9 106.3L142.2 105.7M148.1 115.9L155.5 114.8M148.1 115.9L155.3 111M148.1 115.9L146.5 112.5M148.1 115.9L140.7 117.4M148.1 115.9L149.7 119.8M148.1 115.9L140.9 121.4M122 139.5L127.8 133.3M122 139.5L120.8 135.5M122 139.5L123.9 143.5M122 139.5L129.6 138.1M122 139.5L117 145.7M122 139.5L115.2 140.9M155 133.8L160.7 128.5M155 133.8L153.2 128.9M155 133.8L146.3 135.2M155 133.8L149.1 139.1M155 133.8L163.6 132.5M155 133.8L156.7 138.7M161 153L159.7 148.5M161 153L153.8 153.8M161 153L168.1 151.9M161 153L168.2 147.3M161 153L162.1 157.1M161 153L153.5 158.3M187 129.4L185.4 125.2M187 129.4L179.8 130.2M187 129.4L181.4 135.4M187 129.4L188.1 133.8M187 129.4L191.8 123.6M187 129.4L193.4 128.7M206 128.1L203 128.1M206 128.1L202.6 132.8M206 128.1L208.4 123.6M206 128.1L206.4 122.6M206 128.1L207.7 128.3M206 128.1L204.2 133.8M149.8 174.1L150.1 174M122.8 177.8L129.9 177.8M122.8 177.8L127.4 178M122.8 177.8L120.3 177.8M122.8 177.8L116.3 177.1M122.8 177.8L128 177M122.8 177.8L120.9 176.8M101.5 170.5L99.5 168.4M101.5 170.5L98.4 166.9M101.5 170.5L105.6 173.4M101.5 170.5L103.1 171.8M101.5 170.5L100.1 167.4M101.5 170.5L103.7 170.9M96.4 154.3L95.9 158.7M96.4 154.3L95.3 155.1M96.4 154.3L96.3 150.3M96.4 154.3L98.1 149.5M96.4 154.3L97.5 159.2M96.4 154.3L98.5 154.4M97.4 146L98.4 145.3M97.4 146L96.3 150.3M97.4 146L100.5 140.1M115.8 123.4L117.9 123.6M115.8 123.4L111.9 128.7M115.8 123.4L109.9 128.7M115.8 123.4L114.4 123.6M115.8 123.4L123 118.6M115.8 123.4L121.1 118.5M104.9 134L108.8 128.9M104.9 134L109.9 128.7M104.9 134L106.5 134M104.9 134L102.2 139.3M104.9 134L100.5 140.1M104.9 134L103.9 134.6M109.1 134.1L111.9 128.7M109.1 134.1L114.6 129M109.1 134.1L104.5 139.3M109.1 134.1L106.5 134M109.1 134.1L114.1 132.8M109.1 134.1L108.7 138.2M106.9 170.6L108.2 173.5M106.9 170.6L103.7 170.9M106.9 170.6L103 167.4M106.9 170.6L106.7 166.8M106.9 170.6L112.7 173.2M106.9 170.6L111.9 169.7M100 163.6L100.1 167.4M100 163.6L97.7 163.4M100 163.6L103.4 163.2M100 163.6L103 167.4M100 163.6L97.5 159.2M100 163.6L100.4 159.1M133.9 175.2L135.4 176.5M133.9 175.2L128 177M133.9 175.2L126.4 175.5M133.9 175.2L132.6 173.3M133.9 175.2L142.1 174.6M133.9 175.2L140.6 173M119.6 175L125.3 173.2M119.6 175L126.4 175.5M119.6 175L120.9 176.8M119.6 175L114.6 175.7M119.6 175L112.7 173.2M119.6 175L118.3 171.9M118.8 159.2L125.4 157M118.8 159.2L124.7 161.7M118.8 159.2L118.1 163.8M118.8 159.2L112.9 161M118.8 159.2L122.1 153.5M118.8 159.2L115.5 155.6M118 168L112.4 165.5M118 168L118.1 163.8M118 168L124.4 166M118 168L124.6 169.7M118 168L118.3 171.9M118 168L111.9 169.7M131.3 163.5L124.7 161.7M131.3 163.5L131.7 159.2M131.3 163.5L131.3 167.4M131.3 163.5L124.4 166M131.3 163.5L138.7 159.2M131.3 163.5L138.5 163.6M163.7 168.9L156.8 171.9M163.7 168.9L157.2 171.3M163.7 168.9L163.9 168M163.7 168.9L171.3 165.3M163.7 168.9L171.6 164.7M150.5 173L150.1 174M150.5 173L143.9 175.3M150.5 173L157.2 169.9M150.5 173L157.2 171.3M150.5 173L142.1 174.6M150.5 173L149 171.9M176.4 157.4L182 152.3M176.4 157.4L184 153.6M176.4 157.4L178 158.7M176.4 157.4L170.3 162.1M176.4 157.4L175.9 154.1M176.4 157.4L169.8 159.3M179.1 159.7L171.7 163.3M179.1 159.7L178 158.7M179.1 159.7L185.3 154.7M179.1 159.7L185.8 155.5M179.1 159.7L179 160.6M179.1 159.7L171.6 164.7M190.8 149.4L184 153.6M190.8 149.4L189.3 148.3M190.8 149.4L191.6 150.2M190.8 149.4L185.3 154.7M190.8 149.4L195.1 143.5M190.8 149.4L196.5 144.5M189.8 110.5L183.6 112.1M189.8 110.5L183.9 108M189.8 110.5L190.1 106.4M189.8 110.5L195.3 109.4M189.8 110.5L186.9 115.6M189.8 110.5L193.1 114.1M189.7 103L195.4 105.5M189.7 103L190.1 106.4M189.7 103L183.8 104.3M189.7 103L183.2 101.3M189.7 103L195.3 102.2M189.7 103L188.9 100M177.3 106.2L183.9 108M177.3 106.2L177.2 109.9M177.3 106.2L176.8 103M177.3 106.2L183.8 104.3M177.3 106.2L170.3 109.8M177.3 106.2L170 106.1M199.7 102.3L197.8 100.3M199.7 102.3L202.3 103M199.7 102.3L203.6 105.5M199.7 102.3L200.4 105.2M199.7 102.3L195.3 102.2M199.7 102.3L193.9 99.6M206.5 109.4L205.9 106.4M206.5 109.4L208.3 110.4M206.5 109.4L203.7 108.8M206.5 109.4L203.6 105.5M206.5 109.4L208.8 114M206.5 109.4L206.6 113.2M172.7 97.7L170.6 97.4M172.7 97.7L178 96.8M172.7 97.7L180.2 97.4M172.7 97.7L174.5 98.7M172.7 97.7L164.3 98.7M172.7 97.7L166.4 99.3M187 97.9L181.8 98.7M187 97.9L180.2 97.4M187 97.9L185.1 97M187 97.9L191.4 98.1M187 97.9L193.9 99.6M187 97.9L188.9 100M162.4 106.7L169.4 103.2M162.4 106.7L170 106.1M162.4 106.7L162.7 110.2M162.4 106.7L155.3 111M162.4 106.7L161.2 103.7M162.4 106.7L153.8 107.8M162.8 114.2L170.3 109.8M162.8 114.2L169.9 114M162.8 114.2L155.5 114.8M162.8 114.2L162.7 110.2M162.8 114.2L164.7 118.6M162.8 114.2L157.2 119M155.6 100.7L161.9 98.9M155.6 100.7L164.3 98.7M155.6 100.7L157.7 100.8M155.6 100.7L149.2 103.1M155.6 100.7L148.6 102.9M159.7 101.6L151.3 103.5M159.7 101.6L157.7 100.8M159.7 101.6L166.4 99.3M159.7 101.6L168 100.6M159.7 101.6L161.2 103.7M159.7 101.6L152.4 105.3M133.7 119.3L127 121.5M133.7 119.3L132.1 116.5M133.7 119.3L139.3 114.3M133.7 119.3L140.7 117.4M133.7 119.3L126.6 125.3M133.7 119.3L133.7 123.1M145.1 109.7L146.5 112.5M145.1 109.7L139.3 114.3M145.1 109.7L137.9 111.7M145.1 109.7L143.9 107.6M145.1 109.7L152.4 105.3M145.1 109.7L153.8 107.8M131 114.3L132.1 116.5M131 114.3L125.6 119M131 114.3L136.8 110M131 114.3L137.9 111.7M131 114.3L123 118.6M131 114.3L128.8 113.9M151.4 124.2L149.7 119.8M151.4 124.2L157.2 119M151.4 124.2L159 123.7M151.4 124.2L153.2 128.9M151.4 124.2L142.7 125.6M151.4 124.2L144.5 130.3M166.4 123.5L164.7 118.6M166.4 123.5L171.8 118.7M166.4 123.5L160.7 128.5M166.4 123.5L159 123.7M166.4 123.5L175 122.1M166.4 123.5L169.3 127.3M120.1 131.6L120.1 127.7M120.1 131.6L126.6 125.3M120.1 131.6L126.9 129.3M120.1 131.6L120.8 135.5M120.1 131.6L114.1 132.8M120.1 131.6L114.3 136.9M134.1 127.2L127.8 133.3M134.1 127.2L126.9 129.3M134.1 127.2L133.7 123.1M134.1 127.2L140.9 121.4M134.1 127.2L142.7 125.6M134.1 127.2L135.7 131.8M143.4 144.3L137.8 149.5M143.4 144.3L134.6 145.9M143.4 144.3L140.4 140.5M143.4 144.3L149.1 139.1M143.4 144.3L144.8 149.5M143.4 144.3L150.8 144.1M137.8 136.6L146.3 135.2M137.8 136.6L140.4 140.5M137.8 136.6L131.8 142M137.8 136.6L129.6 138.1M137.8 136.6L135.7 131.8M137.8 136.6L144.5 130.3M126.2 147.3L134.6 145.9M126.2 147.3L129.1 151M126.2 147.3L123.9 143.5M126.2 147.3L131.8 142M126.2 147.3L122.1 153.5M126.2 147.3L119.2 149.6M171.9 131.3L163.6 132.5M171.9 131.3L169.3 127.3M171.9 131.3L177.8 126.1M171.9 131.3L179.8 130.2M171.9 131.3L165.3 137.5M171.9 131.3L173.8 136.3M183.1 121.2L175 122.1M183.1 121.2L180.2 117.5M183.1 121.2L185.4 125.2M183.1 121.2L177.8 126.1M183.1 121.2L186.9 115.6M183.1 121.2L189.7 119.5M146.5 154.3L139.4 154.5M146.5 154.3L144.8 149.5M146.5 154.3L152.4 149.1M146.5 154.3L153.8 153.8M146.5 154.3L138.7 159.2M146.5 154.3L146.2 158.9M158.2 143.7L159.7 148.5M158.2 143.7L152.4 149.1M158.2 143.7L150.8 144.1M158.2 143.7L156.7 138.7M158.2 143.7L165.3 137.5M158.2 143.7L166.9 142.6M188.4 138.2L188.1 142.6M188.4 138.2L182 144.4M188.4 138.2L182.1 139.8M188.4 138.2L188.1 133.8M188.4 138.2L193.9 137.9M188.4 138.2L194 133.2M175.1 141.4L181.4 135.4M175.1 141.4L182.1 139.8M175.1 141.4L175.2 146M175.1 141.4L168.2 147.3M175.1 141.4L166.9 142.6M175.1 141.4L173.8 136.3M174.9 150.5L182 144.4M174.9 150.5L181.2 148.8M174.9 150.5L168.1 151.9M174.9 150.5L175.2 146M174.9 150.5L175.9 154.1M174.9 150.5L169.1 155.8M195.6 118.2L191.8 123.6M195.6 118.2L189.7 119.5M195.6 118.2L193.1 114.1M195.6 118.2L198.3 113.2M195.6 118.2L197.8 123M195.6 118.2L201.2 117.6M198.3 137.5L193 142.3M198.3 137.5L193.9 137.9M198.3 137.5L199 132.9M198.3 137.5L202.6 132.8M198.3 137.5L195.1 143.5M198.3 137.5L200.2 138.6M198.8 128.3L203 128.1M198.8 128.3L199 132.9M198.8 128.3L194 133.2M198.8 128.3L193.4 128.7M198.8 128.3L197.8 123M198.8 128.3L202.8 122.7M205.6 117.5L203.4 112.9M205.6 117.5L206.6 113.2M205.6 117.5L208.2 118.2M205.6 117.5L206.4 122.6M205.6 117.5L202.8 122.7M205.6 117.5L201.2 117.6M209.7 119.3L208.8 114M209.7 119.3L209.9 115.5M209.7 119.3L208.4 123.6M209.7 119.3L208.2 118.2M209.7 119.3L210.1 119.7M209.7 119.3L209.4 123.9M127.1 114L134.8 109.8M127.1 114L128.8 113.9M127.1 114L121.1 118.5M127.1 114L120 118.7M127.1 114L134.1 109.5M127.1 114L126.4 114.2M141.7 105.9L142.2 105.7M112.9 151.6L117 145.7M112.9 151.6L119.2 149.6M112.9 151.6L115.5 155.6M112.9 151.6L109.8 157.2M112.9 151.6L110.5 147.1M112.9 151.6L106.7 153.1M109.3 142.2L104.4 143.4M109.3 142.2L108.7 138.2M109.3 142.2L114.3 136.9M109.3 142.2L115.2 140.9M109.3 142.2L110.5 147.1M109.3 142.2L104.9 148.4M101.8 154.2L104.1 158.5M101.8 154.2L100.4 159.1M101.8 154.2L98.5 154.4M101.8 154.2L100.6 149.5M101.8 154.2L104.9 148.4M101.8 154.2L106.7 153.1M162.9 160.8L162.1 157.1M162.9 160.8L169.1 155.8M162.9 160.8L169.8 159.3M162.9 160.8L163.5 163.8M162.9 160.8L154.5 162.3M162.9 160.8L155.3 165.8M146.1 163.1L138.8 167.2M146.1 163.1L138.5 163.6M146.1 163.1L146.2 158.9M146.1 163.1L153.5 158.3M146.1 163.1L154.5 162.3M146.1 163.1L146.7 167M147.6 170.1L155.8 168.5M147.6 170.1L149 171.9M147.6 170.1L140.6 173M147.6 170.1L139.5 170.8M147.6 170.1L146.7 167M147.6 170.1L155.3 165.8M208 128.8L207.7 128.3M208 128.8L209.4 123.9M208 128.8L205.3 134.1M201.2 139.6L197 145.3M201.2 139.6L196.5 144.5M201.2 139.6L200.2 138.6M201.2 139.6L204.2 133.8M201.2 139.6L205.3 134.1M201.2 139.6L201.5 140.2M134.8 177.4L129.9 177.8M143.5 175.9L150.1 174M143.5 175.9L143.9 175.3M129.9 177.8L127.4 178M129.9 177.8L135.4 176.5M129.9 177.8L128 177M114 176.7L116.3 177.1M120.3 177.8L116.3 177.1M116.3 177.1L120.9 176.8M116.3 177.1L114.6 175.7M98.4 166.9L100.1 167.4M98.4 166.9L97.7 163.4M105.6 173.4L103.1 171.8M105.6 173.4L107.6 174.5M105.6 173.4L108.2 173.5M105.6 173.4L103.7 170.9M95.5 159.3L95.9 158.7M95.5 159.3L95.3 155.1M95.9 158.7L95.3 155.1M95.9 158.7L97.7 163.4M95.9 158.7L97.5 159.2M95.3 155.1L96.3 150.3M98.4 145.3L96.3 150.3M98.4 145.3L98.1 149.5M98.4 145.3L102.2 139.3M98.4 145.3L100.5 140.1M96.3 150.3L98.1 149.5M96.3 150.3L96 150.9M98.1 149.5L98.5 154.4M98.1 149.5L100.6 149.5M117.9 123.6L111.9 128.7M117.9 123.6L114.6 129M117.9 123.6L125.6 119M117.9 123.6L123 118.6M111.9 128.7L114.6 129M111.9 128.7L109.9 128.7M111.9 128.7L106.5 134M114.6 129L120.1 127.7M114.6 129L114.1 132.8M108.8 128.9L109.9 128.7M108.8 128.9L114.4 123.6M108.8 128.9L103.9 134.6M109.9 128.7L114.4 123.6M109.9 128.7L106.5 134M114.4 123.6L121.1 118.5M114.4 123.6L120 118.7M104.5 139.3L106.5 134M104.5 139.3L102.2 139.3M104.5 139.3L104.4 143.4M104.5 139.3L108.7 138.2M106.5 134L102.2 139.3M102.2 139.3L100.5 140.1M100.1 140.7L100.5 140.1M100.5 140.1L103.9 134.6M100.1 167.4L97.7 163.4M100.1 167.4L103.7 170.9M100.1 167.4L103 167.4M97.7 163.4L97.5 159.2M108.2 173.5L103.7 170.9M108.2 173.5L114.6 175.7M108.2 173.5L112.7 173.2M103.7 170.9L103 167.4M103.4 163.2L103 167.4M103.4 163.2L106.7 166.8M103.4 163.2L104.1 158.5M103.4 163.2L100.4 159.1M103 167.4L106.7 166.8M106.7 166.8L112.4 165.5M106.7 166.8L111.9 169.7M135.4 176.5L128 177M135.4 176.5L143.9 175.3M135.4 176.5L142.1 174.6M128 177L126.4 175.5M128 177L120.9 176.8M125.3 173.2L126.4 175.5M125.3 173.2L132.6 173.3M125.3 173.2L124.6 169.7M125.3 173.2L118.3 171.9M126.4 175.5L132.6 173.3M126.4 175.5L120.9 176.8M132.6 173.3L140.6 173M132.6 173.3L139.5 170.8M120.9 176.8L114.6 175.7M114.6 175.7L112.7 173.2M125.4 157L124.7 161.7M125.4 157L131.7 159.2M125.4 157L129.1 151M125.4 157L122.1 153.5M124.7 161.7L131.7 159.2M124.7 161.7L118.1 163.8M124.7 161.7L124.4 166M131.7 159.2L139.4 154.5M131.7 159.2L138.7 159.2M112.4 165.5L118.1 163.8M112.4 165.5L112.9 161M112.4 165.5L111.9 169.7M118.1 163.8L112.9 161M118.1 163.8L124.4 166M112.9 161L115.5 155.6M112.9 161L109.8 157.2M131.3 167.4L124.4 166M131.3 167.4L124.6 169.7M131.3 167.4L138.8 167.2M131.3 167.4L138.5 163.6M124.4 166L124.6 169.7M124.6 169.7L118.3 171.9M112.7 173.2L118.3 171.9M112.7 173.2L111.9 169.7M118.3 171.9L111.9 169.7M150.1 174L143.9 175.3M150.1 174L156.8 171.9M150.1 174L157.2 171.3M143.9 175.3L142.1 174.6M156.8 171.9L157.2 171.3M157.2 169.9L157.2 171.3M157.2 169.9L163.9 168M157.2 169.9L155.8 168.5M157.2 169.9L149 171.9M157.2 171.3L163.9 168M163.9 168L171.7 163.3M163.9 168L171.6 164.7M185.4 156.1L185.8 155.5M185.4 156.1L179 160.6M182 152.3L184 153.6M182 152.3L189.3 148.3M182 152.3L181.2 148.8M182 152.3L175.9 154.1M184 153.6L189.3 148.3M184 153.6L178 158.7M184 153.6L185.3 154.7M189.3 148.3L193 142.3M189.3 148.3L195.1 143.5M171.7 163.3L178 158.7M171.7 163.3L170.3 162.1M171.7 163.3L171.6 164.7M178 158.7L170.3 162.1M178 158.7L185.3 154.7M170.3 162.1L169.8 159.3M170.3 162.1L163.5 163.8M191.6 150.2L185.3 154.7M191.6 150.2L185.8 155.5M191.6 150.2L197 145.3M191.6 150.2L196.5 144.5M185.3 154.7L185.8 155.5M185.8 155.5L179 160.6M171.3 165.3L179 160.6M171.3 165.3L171.6 164.7M179 160.6L171.6 164.7M183.6 112.1L183.9 108M183.6 112.1L177.2 109.9M183.6 112.1L180.2 117.5M183.6 112.1L186.9 115.6M183.9 108L177.2 109.9M183.9 108L190.1 106.4M183.9 108L183.8 104.3M177.2 109.9L170.3 109.8M177.2 109.9L169.9 114M195.4 105.5L190.1 106.4M195.4 105.5L195.3 109.4M195.4 105.5L200.4 105.2M195.4 105.5L195.3 102.2M190.1 106.4L195.3 109.4M190.1 106.4L183.8 104.3M195.3 109.4L193.1 114.1M195.3 109.4L198.3 113.2M176.8 103L183.8 104.3M176.8 103L183.2 101.3M176.8 103L169.4 103.2M176.8 103L170 106.1M183.8 104.3L183.2 101.3M183.2 101.3L181.8 98.7M183.2 101.3L188.9 100M207 107.9L205.9 106.4M207 107.9L208.3 110.4M205.9 106.4L208.3 110.4M205.9 106.4L202.3 103M205.9 106.4L203.6 105.5M208.3 110.4L208.8 114M208.3 110.4L209.9 115.5M197.8 100.3L202.3 103M197.8 100.3L191.4 98.1M197.8 100.3L193.9 99.6M202.3 103L203.6 105.5M203.7 108.8L203.6 105.5M203.7 108.8L200.4 105.2M203.7 108.8L203.4 112.9M203.7 108.8L206.6 113.2M203.6 105.5L200.4 105.2M200.4 105.2L195.3 102.2M170.6 97.4L178 96.8M170.6 97.4L161.9 98.9M170.6 97.4L164.3 98.7M178 96.8L180.2 97.4M178 96.8L185.1 97M181.8 98.7L180.2 97.4M181.8 98.7L174.5 98.7M181.8 98.7L188.9 100M180.2 97.4L174.5 98.7M180.2 97.4L185.1 97M174.5 98.7L166.4 99.3M174.5 98.7L168 100.6M185.1 97L191.4 98.1M191.4 98.1L193.9 99.6M195.3 102.2L193.9 99.6M195.3 102.2L188.9 100M193.9 99.6L188.9 100M170.3 109.8L169.9 114M170.3 109.8L170 106.1M170.3 109.8L162.7 110.2M169.9 114L164.7 118.6M169.9 114L171.8 118.7M169.4 103.2L170 106.1M169.4 103.2L168 100.6M169.4 103.2L161.2 103.7M170 106.1L162.7 110.2M155.5 114.8L162.7 110.2M155.5 114.8L155.3 111M155.5 114.8L149.7 119.8M155.5 114.8L157.2 119M162.7 110.2L155.3 111M155.3 111L146.5 112.5M155.3 111L153.8 107.8M161.9 98.9L164.3 98.7M164.3 98.7L157.7 100.8M164.3 98.7L166.4 99.3M151.3 103.5L157.7 100.8M151.3 103.5L149.2 103.1M151.3 103.5L143.9 107.6M151.3 103.5L152.4 105.3M157.7 100.8L149.2 103.1M157.7 100.8L166.4 99.3M149.2 103.1L148.6 102.9M149.2 103.1L142.2 105.7M166.4 99.3L168 100.6M168 100.6L161.2 103.7M127 121.5L132.1 116.5M127 121.5L125.6 119M127 121.5L120.1 127.7M127 121.5L126.6 125.3M132.1 116.5L125.6 119M132.1 116.5L139.3 114.3M132.1 116.5L137.9 111.7M125.6 119L123 118.6M146.5 112.5L139.3 114.3M146.5 112.5L140.7 117.4M146.5 112.5L153.8 107.8M139.3 114.3L140.7 117.4M139.3 114.3L137.9 111.7M140.7 117.4L133.7 123.1M140.7 117.4L140.9 121.4M136.8 110L137.9 111.7M136.8 110L143.9 107.6M136.8 110L134.8 109.8M136.8 110L128.8 113.9M137.9 111.7L143.9 107.6M143.9 107.6L152.4 105.3M161.2 103.7L152.4 105.3M161.2 103.7L153.8 107.8M152.4 105.3L153.8 107.8M164.7 118.6L171.8 118.7M164.7 118.6L157.2 119M164.7 118.6L159 123.7M171.8 118.7L175 122.1M171.8 118.7L180.2 117.5M149.7 119.8L157.2 119M149.7 119.8L140.9 121.4M149.7 119.8L142.7 125.6M157.2 119L159 123.7M160.7 128.5L159 123.7M160.7 128.5L153.2 128.9M160.7 128.5L163.6 132.5M160.7 128.5L169.3 127.3M159 123.7L153.2 128.9M153.2 128.9L146.3 135.2M153.2 128.9L144.5 130.3M120.1 127.7L126.6 125.3M120.1 127.7L114.1 132.8M126.6 125.3L126.9 129.3M126.6 125.3L133.7 123.1M127.8 133.3L126.9 129.3M127.8 133.3L120.8 135.5M127.8 133.3L129.6 138.1M127.8 133.3L135.7 131.8M126.9 129.3L120.8 135.5M126.9 129.3L133.7 123.1M120.8 135.5L114.3 136.9M120.8 135.5L115.2 140.9M133.7 123.1L140.9 121.4M140.9 121.4L142.7 125.6M137.8 149.5L134.6 145.9M137.8 149.5L129.1 151M137.8 149.5L139.4 154.5M137.8 149.5L144.8 149.5M134.6 145.9L129.1 151M134.6 145.9L140.4 140.5M134.6 145.9L131.8 142M129.1 151L122.1 153.5M146.3 135.2L140.4 140.5M146.3 135.2L149.1 139.1M146.3 135.2L144.5 130.3M140.4 140.5L149.1 139.1M140.4 140.5L131.8 142M149.1 139.1L150.8 144.1M149.1 139.1L156.7 138.7M123.9 143.5L131.8 142M123.9 143.5L129.6 138.1M123.9 143.5L117 145.7M123.9 143.5L119.2 149.6M131.8 142L129.6 138.1M129.6 138.1L135.7 131.8M142.7 125.6L135.7 131.8M142.7 125.6L144.5 130.3M135.7 131.8L144.5 130.3M175 122.1L180.2 117.5M175 122.1L169.3 127.3M175 122.1L177.8 126.1M180.2 117.5L186.9 115.6M163.6 132.5L169.3 127.3M163.6 132.5L156.7 138.7M163.6 132.5L165.3 137.5M169.3 127.3L177.8 126.1M185.4 125.2L177.8 126.1M185.4 125.2L179.8 130.2M185.4 125.2L191.8 123.6M185.4 125.2L189.7 119.5M177.8 126.1L179.8 130.2M179.8 130.2L181.4 135.4M179.8 130.2L173.8 136.3M139.4 154.5L144.8 149.5M139.4 154.5L138.7 159.2M144.8 149.5L152.4 149.1M144.8 149.5L150.8 144.1M159.7 148.5L152.4 149.1M159.7 148.5L153.8 153.8M159.7 148.5L168.2 147.3M159.7 148.5L166.9 142.6M152.4 149.1L153.8 153.8M152.4 149.1L150.8 144.1M153.8 153.8L146.2 158.9M153.8 153.8L153.5 158.3M150.8 144.1L156.7 138.7M156.7 138.7L165.3 137.5M188.1 142.6L182 144.4M188.1 142.6L181.2 148.8M188.1 142.6L193 142.3M188.1 142.6L193.9 137.9M182 144.4L181.2 148.8M182 144.4L182.1 139.8M182 144.4L175.2 146M181.2 148.8L175.9 154.1M181.4 135.4L182.1 139.8M181.4 135.4L188.1 133.8M181.4 135.4L173.8 136.3M182.1 139.8L188.1 133.8M182.1 139.8L175.2 146M188.1 133.8L194 133.2M188.1 133.8L193.4 128.7M168.1 151.9L175.2 146M168.1 151.9L168.2 147.3M168.1 151.9L162.1 157.1M168.1 151.9L169.1 155.8M175.2 146L168.2 147.3M168.2 147.3L166.9 142.6M165.3 137.5L166.9 142.6M165.3 137.5L173.8 136.3M166.9 142.6L173.8 136.3M186.9 115.6L189.7 119.5M186.9 115.6L193.1 114.1M191.8 123.6L189.7 119.5M191.8 123.6L193.4 128.7M191.8 123.6L197.8 123M189.7 119.5L193.1 114.1M193.1 114.1L198.3 113.2M198.3 113.2L203.4 112.9M198.3 113.2L201.2 117.6M193 142.3L193.9 137.9M193 142.3L195.1 143.5M193.9 137.9L199 132.9M193.9 137.9L194 133.2M203 128.1L199 132.9M203 128.1L202.6 132.8M203 128.1L206.4 122.6M203 128.1L202.8 122.7M199 132.9L202.6 132.8M199 132.9L194 133.2M202.6 132.8L200.2 138.6M202.6 132.8L204.2 133.8M194 133.2L193.4 128.7M193.4 128.7L197.8 123M208.8 114L209.9 115.5M208.8 114L206.6 113.2M208.8 114L208.2 118.2M203.4 112.9L206.6 113.2M203.4 112.9L201.2 117.6M206.6 113.2L208.2 118.2M208.4 123.6L208.2 118.2M208.4 123.6L206.4 122.6M208.4 123.6L207.7 128.3M208.4 123.6L209.4 123.9M208.2 118.2L206.4 122.6M206.4 122.6L202.8 122.7M197.8 123L202.8 122.7M197.8 123L201.2 117.6M202.8 122.7L201.2 117.6M123 118.6L128.8 113.9M123 118.6L121.1 118.5M134.8 109.8L128.8 113.9M134.8 109.8L142.2 105.7M134.8 109.8L134.1 109.5M128.8 113.9L121.1 118.5M121.1 118.5L120 118.7M148.6 102.9L142.2 105.7M142.2 105.7L134.1 109.5M122.1 153.5L119.2 149.6M122.1 153.5L115.5 155.6M117 145.7L119.2 149.6M117 145.7L115.2 140.9M117 145.7L110.5 147.1M119.2 149.6L115.5 155.6M115.5 155.6L109.8 157.2M109.8 157.2L104.1 158.5M109.8 157.2L106.7 153.1M114.1 132.8L108.7 138.2M114.1 132.8L114.3 136.9M104.4 143.4L108.7 138.2M104.4 143.4L100.6 149.5M104.4 143.4L104.9 148.4M108.7 138.2L114.3 136.9M114.3 136.9L115.2 140.9M115.2 140.9L110.5 147.1M97.5 159.2L100.4 159.1M97.5 159.2L98.5 154.4M104.1 158.5L100.4 159.1M104.1 158.5L106.7 153.1M100.4 159.1L98.5 154.4M98.5 154.4L100.6 149.5M100.6 149.5L104.9 148.4M110.5 147.1L104.9 148.4M110.5 147.1L106.7 153.1M104.9 148.4L106.7 153.1M175.9 154.1L169.1 155.8M175.9 154.1L169.8 159.3M162.1 157.1L169.1 155.8M162.1 157.1L153.5 158.3M162.1 157.1L154.5 162.3M169.1 155.8L169.8 159.3M169.8 159.3L163.5 163.8M163.5 163.8L155.8 168.5M163.5 163.8L155.3 165.8M138.7 159.2L138.5 163.6M138.7 159.2L146.2 158.9M138.8 167.2L138.5 163.6M138.8 167.2L139.5 170.8M138.8 167.2L146.7 167M138.5 163.6L146.2 158.9M146.2 158.9L153.5 158.3M153.5 158.3L154.5 162.3M142.1 174.6L149 171.9M142.1 174.6L140.6 173M155.8 168.5L149 171.9M155.8 168.5L155.3 165.8M149 171.9L140.6 173M140.6 173L139.5 170.8M139.5 170.8L146.7 167M154.5 162.3L146.7 167M154.5 162.3L155.3 165.8M146.7 167L155.3 165.8M210.1 119.7L209.4 123.9M207.7 128.3L209.4 123.9M207.7 128.3L204.2 133.8M207.7 128.3L205.3 134.1M195.1 143.5L196.5 144.5M195.1 143.5L200.2 138.6M197 145.3L196.5 144.5M197 145.3L196.6 145.9M197 145.3L201.5 140.2M196.5 144.5L200.2 138.6M200.2 138.6L204.2 133.8M204.2 133.8L205.3 134.1M205.3 134.1L201.5 140.2" stroke="#9236a6" stroke-width="0.65" stroke-opacity="0.9" fill="none"/><ellipse cx="152.7" cy="137.4" rx="61.1" ry="32.4" transform="rotate(-26.5 152.7 137.4)" fill="#b878c8" fill-opacity="0.22" stroke="#8a3aa0" stroke-width="1.7"/><path d="M320 126.4L315.5 127.7M320 126.4L302.6 145.3M320 126.4L333.9 116.2M320 126.4L334.9 109.8M320 126.4L314 138.2M416.7 113.9L428.7 113.1M416.7 113.9L424 98.3M416.7 113.9L408.1 106.6M416.7 113.9L403.1 126.7M416.7 113.9L415.8 130.6M287.4 256.2L272.5 264.9M287.4 256.2L277.3 279.7M287.4 256.2L303.9 235.8M287.4 256.2L288.9 237.7M287.4 256.2L296.7 261.7M244.5 398.4L238.7 404.3M244.5 398.4L253.6 402.3M244.5 398.4L233 395.9M244.5 398.4L244.4 388.8M244.5 398.4L257.1 392.8M370.1 282L353.5 303.5M370.1 282L369.3 295.1M370.1 282L380 259.6M370.1 282L360.1 281.5M370.1 282L385.7 268M453.8 168.2L457.2 154.7M453.8 168.2L450 180.7M213.6 302.2L209.3 322.1M213.6 302.2L220.9 280.2M213.6 302.2L215.9 300.2M289.3 395.1L303.2 386.4M289.3 395.1L276.2 400.7M289.3 395.1L272.5 403.2M289.3 395.1L291.2 391.5M289.3 395.1L307.2 383M210.7 370.5L211.8 384.2M210.7 370.5L215.9 381.8M210.7 370.5L207.8 356.6M210.7 370.5L206.9 369.2M210.7 370.5L212.7 353.5M210.7 370.5L217.5 368.5M255.1 210.6L248.5 219.4M255.1 210.6L241.9 233.9M255.1 210.6L269.8 187.8M255.1 210.6L265.2 191.9M255.1 210.6L263.6 202.5M255.1 210.6L247 230M254.1 343.4L239.5 354.8M254.1 343.4L249.2 361.1M254.1 343.4L260.5 323.7M254.1 343.4L246.2 332.6M254.1 343.4L270.7 329.4M254.1 343.4L263.9 351.6M235.9 286.9L227.2 292.5M235.9 286.9L225.4 311.2M235.9 286.9L237 304M235.9 286.9L246.5 280.4M235.9 286.9L248.8 261.4M235.9 286.9L237.2 268.6M363.1 326.7L344.6 348.4M363.1 326.7L359.8 333.9M363.1 326.7L365.8 317.6M363.1 326.7L348.2 338.7M363.1 326.7L380.9 302.7M363.1 326.7L377.3 312.4M302.7 358.6L286.5 372.7M302.7 358.6L297.9 373.1M302.7 358.6L317.6 354.9M302.7 358.6L319.4 342.2M302.7 358.6L308.2 341.1M302.7 358.6L288.5 359.3M453.1 124.5L452.9 105.2M453.1 124.5L447.1 118.4M453.1 124.5L456.8 132.7M453.1 124.5L458.7 113.7M453.1 124.5L444.6 138M453.1 124.5L450.4 146.5M434.9 68L433.2 75.1M434.9 68L443.7 76.6M434.9 68L444.6 70M434.9 68L434.8 64.1M434.9 68L422.7 70.1M434.9 68L423.7 63.5M378.1 75.3L378.8 75.7M374.5 100L386.8 99.6M374.5 100L392.1 86.2M374.5 100L377 88.2M374.5 100L361.4 102.9M374.5 100L371 115M374.5 100L355.8 117M298.5 183.6L317.3 159.3M298.5 183.6L303.1 167M298.5 183.6L294.5 201.1M298.5 183.6L312.2 179.6M298.5 183.6L280.5 209.1M298.5 183.6L285.6 188.8M355.3 176.2L372.1 158.1M355.3 176.2L361.2 153.7M355.3 176.2L341 175.9M355.3 176.2L338.1 195.5M355.3 176.2L369.1 178M355.3 176.2L348.8 200.2M327.9 275L335 250.3M327.9 275L317.1 271.3M327.9 275L338.8 278M327.9 275L347.9 254.3M327.9 275L320.9 298.8M327.9 275L308 294.8M403.9 191.4L409.3 169.8M403.9 191.4L393.7 185.7M403.9 191.4L386.4 212M403.9 191.4L397.1 213.9M403.9 191.4L419.7 171.9M403.9 191.4L412.4 198.2M425.7 223.3L423.4 214.4M425.7 223.3L413.8 238.4M425.7 223.3L435.8 208.5M425.7 223.3L436.5 196.6M425.7 223.3L425.7 232.6M425.7 223.3L412.6 250.4M234.7 406.9L238.7 404.3M234.7 406.9L248.4 407.3M234.7 406.9L245 408.8M234.7 406.9L232.6 406.3M234.7 406.9L227.7 400.8M234.7 406.9L224.2 402.3M264.3 403.1L248.4 407.3M264.3 403.1L253.6 402.3M264.3 403.1L276.2 400.7M264.3 403.1L260 406.9M264.3 403.1L266.9 395.7M264.3 403.1L278.6 395.3M223.4 390.3L233 395.9M223.4 390.3L227.7 400.8M223.4 390.3L218.4 393.9M223.4 390.3L215.9 381.8M223.4 390.3L233.4 385.3M223.4 390.3L224.2 378.3M215.8 394.2L211.8 384.2M215.8 394.2L218.4 393.9M215.8 394.2L224.2 402.3M206.3 364.5L206.9 369.2M207.3 340.4L206.6 335.3M207.3 340.4L209.3 322.1M207.3 340.4L207.8 356.6M207.3 340.4L205.5 353.7M207.3 340.4L212.3 319.7M207.3 340.4L211.2 338M230.4 257.3L220.9 280.2M230.4 257.3L225.5 267.2M230.4 257.3L236.2 243M230.4 257.3L241.9 233.9M230.4 257.3L224 277.6M230.4 257.3L234.7 253.6M311.3 131.1L315.5 127.7M311.3 131.1L298.1 147.4M311.3 131.1L330.5 111.7M276.9 174.2L280.8 169.4M276.9 174.2L265.2 191.9M285.7 165.9L298.1 147.4M285.7 165.9L302.6 145.3M285.7 165.9L269.8 187.8M285.7 165.9L280.8 169.4M285.7 165.9L296.5 157.8M285.7 165.9L279.2 179.9M217.6 333.5L212.7 353.5M217.6 333.5L211.2 338M217.6 333.5L217.8 316M217.6 333.5L225.4 311.2M217.6 333.5L220.9 349.9M217.6 333.5L227.6 327.6M220.4 296.9L212.3 319.7M220.4 296.9L215.9 300.2M220.4 296.9L227.2 292.5M220.4 296.9L217.8 316M220.4 296.9L224 277.6M220.4 296.9L229.6 273.6M246 376.3L244.4 388.8M246 376.3L233.4 385.3M246 376.3L235.6 371.1M246 376.3L249.2 361.1M246 376.3L257.6 382.1M246 376.3L260 368M227.2 363.2L239.5 354.8M227.2 363.2L235.6 371.1M227.2 363.2L224.2 378.3M227.2 363.2L217.5 368.5M227.2 363.2L220.9 349.9M227.2 363.2L232.5 342.7M258.8 273L272.5 264.9M258.8 273L262.6 288.4M258.8 273L248.8 296.8M258.8 273L246.5 280.4M258.8 273L274.3 246.3M258.8 273L260.5 254.3M240.4 319.3L237 304M240.4 319.3L248.8 296.8M240.4 319.3L253.5 311.6M240.4 319.3L246.2 332.6M240.4 319.3L232.5 342.7M240.4 319.3L227.6 327.6M268.3 302.4L262.6 288.4M268.3 302.4L277.3 279.7M268.3 302.4L260.5 323.7M268.3 302.4L253.5 311.6M268.3 302.4L286.8 285.2M268.3 302.4L277.9 308.4M294 384.1L291.2 391.5M294 384.1L278.6 395.3M294 384.1L282.1 385.7M294 384.1L297.9 373.1M294 384.1L309.6 377.6M294 384.1L313.2 367.9M271.2 384.2L266.9 395.7M271.2 384.2L257.1 392.8M271.2 384.2L286.5 372.7M271.2 384.2L282.1 385.7M271.2 384.2L257.6 382.1M271.2 384.2L272.7 372M356.1 339.3L341 354.5M356.1 339.3L359.8 333.9M356.1 339.3L373.7 318.6M325.8 367.3L344.6 348.4M325.8 367.3L341 354.5M325.8 367.3L321.6 372.5M325.8 367.3L307.2 383M325.8 367.3L309.6 377.6M325.8 367.3L329.3 359.4M336.5 323.7L353.5 303.5M336.5 323.7L352.4 316.4M336.5 323.7L334.7 337M336.5 323.7L319.4 342.2M336.5 323.7L343.2 302.8M336.5 323.7L325.3 323.2M332.8 348.2L317.6 354.9M332.8 348.2L334.7 337M332.8 348.2L350.5 328.6M332.8 348.2L348.2 338.7M332.8 348.2L329.3 359.4M332.8 348.2L313.2 367.9M367.9 307.1L352.4 316.4M367.9 307.1L369.3 295.1M367.9 307.1L365.8 317.6M367.9 307.1L350.5 328.6M367.9 307.1L384.8 280.8M367.9 307.1L383.2 292.6M438.9 114.6L428.7 113.1M438.9 114.6L435.5 98.1M438.9 114.6L445.5 100.5M438.9 114.6L447.1 118.4M438.9 114.6L427.4 130.6M438.9 114.6L437.2 133.3M449.7 89.1L452.9 105.2M449.7 89.1L445.5 100.5M449.7 89.1L440.7 85.6M449.7 89.1L443.7 76.6M449.7 89.1L457.1 95.6M449.7 89.1L452.2 80.6M429.5 85.2L435.5 98.1M429.5 85.2L424 98.3M429.5 85.2L433.2 75.1M429.5 85.2L440.7 85.6M429.5 85.2L414.8 91.7M429.5 85.2L419.8 79.1M461.1 105.9L461.9 116.7M461.1 105.9L461 123.2M461.1 105.9L458.7 113.7M461.1 105.9L457.1 95.6M461.1 105.9L458 89.1M458.2 142.8L460.8 135.1M458.2 142.8L457.2 154.7M458.2 142.8L456.8 132.7M458.2 142.8L461 123.2M458.2 142.8L452.6 167.6M458.2 142.8L452.7 156M451.6 76.2L444.6 70M451.6 76.2L458 89.1M451.6 76.2L452.2 80.6M408.4 76.2L422.7 70.1M408.4 76.2L419.8 79.1M408.4 76.2L403.9 87.5M408.4 76.2L392.1 86.2M408.4 76.2L410.3 67.5M408.4 76.2L394.2 76M398.1 101.9L414.8 91.7M398.1 101.9L408.1 106.6M398.1 101.9L386.8 99.6M398.1 101.9L403.9 87.5M398.1 101.9L393.9 120.2M398.1 101.9L382.8 116.3M410.3 63.2L394.9 67.2M410.3 63.2L407.4 63.5M410.3 63.2L422.4 61.6M410.3 63.2L423.7 63.5M410.3 63.2L410.3 67.5M410.3 63.2L395.2 69.4M347.8 108.3L333.9 116.2M347.8 108.3L348.9 100.2M347.8 108.3L363.4 92.7M347.8 108.3L361.4 102.9M347.8 108.3L328 128.7M347.8 108.3L342.3 121.5M378.5 80.1L377 88.2M378.5 80.1L363.4 92.7M378.5 80.1L364.4 86.3M378.5 80.1L378.8 75.7M378.5 80.1L395.2 69.4M378.5 80.1L394.2 76M349.7 95.6L348.9 100.2M349.7 95.6L334.9 109.8M349.7 95.6L364.2 84M349.7 95.6L364.4 86.3M349.7 95.6L330.5 111.7M349.7 95.6L345.8 97.9M366.5 133.1L371 115M366.5 133.1L382.8 116.3M366.5 133.1L377.8 136.3M366.5 133.1L361.2 153.7M366.5 133.1L351.8 133.7M366.5 133.1L346.7 154M388.1 141.5L393.9 120.2M388.1 141.5L403.1 126.7M388.1 141.5L372.1 158.1M388.1 141.5L377.8 136.3M388.1 141.5L401.6 144.3M388.1 141.5L385.6 160.6M308.3 151.8L314 138.2M308.3 151.8L328 128.7M308.3 151.8L322.3 143.4M308.3 151.8L303.1 167M308.3 151.8L296.5 157.8M308.3 151.8L290.6 172.8M336.6 137L317.3 159.3M336.6 137L322.3 143.4M336.6 137L342.3 121.5M336.6 137L355.8 117M336.6 137L351.8 133.7M336.6 137L331.6 156M320.9 215.4L303.9 235.8M320.9 215.4L305.7 217.1M320.9 215.4L323.6 195.8M320.9 215.4L338.1 195.5M320.9 215.4L313.5 241.2M320.9 215.4L331.4 220.1M326.5 177.1L341 175.9M326.5 177.1L323.6 195.8M326.5 177.1L308.7 197.8M326.5 177.1L312.2 179.6M326.5 177.1L331.6 156M326.5 177.1L346.7 154M291.3 219.3L305.7 217.1M291.3 219.3L288.9 237.7M291.3 219.3L294.5 201.1M291.3 219.3L308.7 197.8M291.3 219.3L274.3 246.3M291.3 219.3L277 227.2M382 181.2L369.1 178M382 181.2L385.6 160.6M382 181.2L398.3 164.6M382 181.2L393.7 185.7M382 181.2L362.4 202.7M382 181.2L375.3 206.8M413.4 149.4L401.6 144.3M413.4 149.4L415.8 130.6M413.4 149.4L409.3 169.8M413.4 149.4L398.3 164.6M413.4 149.4L427.4 130.6M413.4 149.4L424.3 150.8M306.6 266.8L296.7 261.7M306.6 266.8L313.5 241.2M306.6 266.8L324.2 246.1M306.6 266.8L317.1 271.3M306.6 266.8L286.8 285.2M306.6 266.8L297.3 290.5M342 225.1L335 250.3M342 225.1L324.2 246.1M342 225.1L331.4 220.1M342 225.1L348.8 200.2M342 225.1L362.4 202.7M342 225.1L355.1 229M389.1 236.8L380 259.6M389.1 236.8L369.8 258.8M389.1 236.8L378.8 234.9M389.1 236.8L397.1 213.9M389.1 236.8L395.6 245.2M389.1 236.8L404.8 221.2M367.5 233.1L386.4 212M367.5 233.1L378.8 234.9M367.5 233.1L358.8 256.9M367.5 233.1L347.9 254.3M367.5 233.1L355.1 229M367.5 233.1L375.3 206.8M349.6 280.2L369.8 258.8M349.6 280.2L360.1 281.5M349.6 280.2L338.8 278M349.6 280.2L358.8 256.9M349.6 280.2L343.2 302.8M349.6 280.2L331.9 301.3M433.4 154L419.7 171.9M433.4 154L424.3 150.8M433.4 154L437.2 133.3M433.4 154L444.6 138M433.4 154L427.4 179.2M433.4 154L440.5 161.4M400.4 253.3L385.7 268M400.4 253.3L395.6 245.2M400.4 253.3L410.5 229.6M400.4 253.3L413.8 238.4M400.4 253.3L384.8 280.8M400.4 253.3L399.6 265.5M419 205.9L423.4 214.4M419 205.9L410.5 229.6M419 205.9L404.8 221.2M419 205.9L412.4 198.2M419 205.9L427.4 179.2M419 205.9L433.2 187.7M444.8 170.8L450.4 146.5M444.8 170.8L452.7 156M444.8 170.8L445.5 181.9M444.8 170.8L436.5 196.6M444.8 170.8L433.2 187.7M444.8 170.8L440.5 161.4M443.9 194.2L452.6 167.6M443.9 194.2L450 180.7M443.9 194.2L435.8 208.5M443.9 194.2L445.5 181.9M443.9 194.2L441.9 203.2M443.9 194.2L434.7 217.8M263.8 235.2L280.5 209.1M263.8 235.2L277 227.2M263.8 235.2L260.5 254.3M263.8 235.2L248.8 261.4M263.8 235.2L267.9 214.9M263.8 235.2L251.3 242.5M273.9 195.1L263.6 202.5M273.9 195.1L279.2 179.9M273.9 195.1L290.6 172.8M273.9 195.1L285.6 188.8M273.9 195.1L267.9 214.9M273.9 195.1L256.4 222.1M241 249.5L237.2 268.6M241 249.5L229.6 273.6M241 249.5L234.7 253.6M241 249.5L247 230M241 249.5L256.4 222.1M241 249.5L251.3 242.5M314.3 321L320.9 298.8M314.3 321L331.9 301.3M314.3 321L325.3 323.2M314.3 321L308.2 341.1M314.3 321L301.1 318.1M314.3 321L294.4 340.4M288.8 313L270.7 329.4M288.8 313L277.9 308.4M288.8 313L297.3 290.5M288.8 313L308 294.8M288.8 313L301.1 318.1M288.8 313L281.5 336.4M275.5 357L288.5 359.3M275.5 357L272.7 372M275.5 357L260 368M275.5 357L263.9 351.6M275.5 357L281.5 336.4M275.5 357L294.4 340.4M423.4 241.9L425.7 232.6M423.4 241.9L434.7 217.8M423.4 241.9L431.2 227.4M423.4 241.9L418.9 251M423.4 241.9L411.5 259.8M423.4 241.9L407.9 269.5M397.5 277L380.9 302.7M397.5 277L383.2 292.6M397.5 277L399.6 265.5M397.5 277L412.6 250.4M397.5 277L411.5 259.8M397.5 277L394.8 287.3M390.5 296.2L373.7 318.6M390.5 296.2L377.3 312.4M390.5 296.2L394.8 287.3M390.5 296.2L407.9 269.5M303.2 386.4L307.2 383M238.7 404.3L248.4 407.3M238.7 404.3L253.6 402.3M238.7 404.3L233 395.9M238.7 404.3L227.7 400.8M248.4 407.3L253.6 402.3M248.4 407.3L245 408.8M248.4 407.3L260 406.9M253.6 402.3L266.9 395.7M253.6 402.3L257.1 392.8M245 408.8L260 406.9M276.2 400.7L260 406.9M276.2 400.7L272.5 403.2M276.2 400.7L291.2 391.5M276.2 400.7L278.6 395.3M260 406.9L272.5 403.2M233 395.9L227.7 400.8M233 395.9L244.4 388.8M233 395.9L233.4 385.3M227.7 400.8L218.4 393.9M227.7 400.8L224.2 402.3M211.8 384.2L218.4 393.9M211.8 384.2L215.9 381.8M211.8 384.2L206.9 369.2M211.8 384.2L209.4 381.3M218.4 393.9L215.9 381.8M218.4 393.9L224.2 402.3M215.9 381.8L224.2 378.3M215.9 381.8L217.5 368.5M210.2 315.7L209.3 322.1M206.6 335.3L209.3 322.1M206.6 335.3L205.5 353.7M209.3 322.1L212.3 319.7M209.3 322.1L215.9 300.2M207.8 356.6L205.5 353.7M207.8 356.6L206.9 369.2M207.8 356.6L212.7 353.5M207.8 356.6L211.2 338M205.5 353.7L206.9 369.2M206.9 369.2L209.4 381.3M217.4 289.7L220.9 280.2M220.9 280.2L225.5 267.2M220.9 280.2L215.9 300.2M220.9 280.2L224 277.6M248.5 219.4L236.2 243M248.5 219.4L241.9 233.9M248.5 219.4L265.2 191.9M236.2 243L241.9 233.9M241.9 233.9L234.7 253.6M241.9 233.9L247 230M315.5 127.7L298.1 147.4M315.5 127.7L302.6 145.3M315.5 127.7L334.9 109.8M315.5 127.7L330.5 111.7M298.1 147.4L302.6 145.3M298.1 147.4L293.7 151.8M298.1 147.4L280.8 169.4M302.6 145.3L314 138.2M302.6 145.3L296.5 157.8M293.7 151.8L280.8 169.4M269.8 187.8L280.8 169.4M269.8 187.8L265.2 191.9M269.8 187.8L263.6 202.5M269.8 187.8L279.2 179.9M280.8 169.4L265.2 191.9M212.3 319.7L215.9 300.2M212.3 319.7L211.2 338M212.3 319.7L217.8 316M215.9 300.2L224 277.6M212.7 353.5L211.2 338M212.7 353.5L217.5 368.5M212.7 353.5L220.9 349.9M211.2 338L217.8 316M227.2 292.5L217.8 316M227.2 292.5L225.4 311.2M227.2 292.5L237.2 268.6M227.2 292.5L229.6 273.6M217.8 316L225.4 311.2M225.4 311.2L237 304M225.4 311.2L227.6 327.6M244.4 388.8L233.4 385.3M244.4 388.8L257.1 392.8M244.4 388.8L257.6 382.1M233.4 385.3L235.6 371.1M233.4 385.3L224.2 378.3M239.5 354.8L235.6 371.1M239.5 354.8L249.2 361.1M239.5 354.8L246.2 332.6M239.5 354.8L232.5 342.7M235.6 371.1L249.2 361.1M235.6 371.1L224.2 378.3M249.2 361.1L260 368M249.2 361.1L263.9 351.6M224.2 378.3L217.5 368.5M217.5 368.5L220.9 349.9M272.5 264.9L262.6 288.4M272.5 264.9L277.3 279.7M272.5 264.9L288.9 237.7M272.5 264.9L274.3 246.3M262.6 288.4L277.3 279.7M262.6 288.4L248.8 296.8M262.6 288.4L253.5 311.6M277.3 279.7L296.7 261.7M277.3 279.7L286.8 285.2M237 304L248.8 296.8M237 304L246.5 280.4M237 304L227.6 327.6M248.8 296.8L246.5 280.4M248.8 296.8L253.5 311.6M246.5 280.4L260.5 254.3M246.5 280.4L248.8 261.4M260.5 323.7L253.5 311.6M260.5 323.7L246.2 332.6M260.5 323.7L270.7 329.4M260.5 323.7L277.9 308.4M253.5 311.6L246.2 332.6M246.2 332.6L232.5 342.7M220.9 349.9L232.5 342.7M220.9 349.9L227.6 327.6M232.5 342.7L227.6 327.6M266.9 395.7L257.1 392.8M266.9 395.7L278.6 395.3M266.9 395.7L282.1 385.7M257.1 392.8L257.6 382.1M291.2 391.5L278.6 395.3M291.2 391.5L307.2 383M291.2 391.5L309.6 377.6M278.6 395.3L282.1 385.7M286.5 372.7L282.1 385.7M286.5 372.7L297.9 373.1M286.5 372.7L288.5 359.3M286.5 372.7L272.7 372M282.1 385.7L297.9 373.1M297.9 373.1L317.6 354.9M297.9 373.1L313.2 367.9M336.9 358.7L341 354.5M344.6 348.4L341 354.5M344.6 348.4L359.8 333.9M344.6 348.4L348.2 338.7M344.6 348.4L329.3 359.4M341 354.5L359.8 333.9M341 354.5L321.6 372.5M359.8 333.9L373.7 318.6M359.8 333.9L377.3 312.4M321.6 372.5L307.2 383M307.2 383L309.6 377.6M353.5 303.5L352.4 316.4M353.5 303.5L369.3 295.1M353.5 303.5L360.1 281.5M353.5 303.5L343.2 302.8M352.4 316.4L369.3 295.1M352.4 316.4L334.7 337M352.4 316.4L350.5 328.6M369.3 295.1L385.7 268M369.3 295.1L384.8 280.8M317.6 354.9L334.7 337M317.6 354.9L319.4 342.2M317.6 354.9L313.2 367.9M334.7 337L319.4 342.2M334.7 337L350.5 328.6M319.4 342.2L325.3 323.2M319.4 342.2L308.2 341.1M365.8 317.6L350.5 328.6M365.8 317.6L348.2 338.7M365.8 317.6L380.9 302.7M365.8 317.6L383.2 292.6M350.5 328.6L348.2 338.7M348.2 338.7L329.3 359.4M309.6 377.6L329.3 359.4M309.6 377.6L313.2 367.9M329.3 359.4L313.2 367.9M428.7 113.1L435.5 98.1M428.7 113.1L424 98.3M428.7 113.1L415.8 130.6M428.7 113.1L427.4 130.6M435.5 98.1L424 98.3M435.5 98.1L445.5 100.5M435.5 98.1L440.7 85.6M424 98.3L414.8 91.7M424 98.3L408.1 106.6M452.9 105.2L445.5 100.5M452.9 105.2L447.1 118.4M452.9 105.2L458.7 113.7M452.9 105.2L457.1 95.6M445.5 100.5L447.1 118.4M445.5 100.5L440.7 85.6M447.1 118.4L437.2 133.3M447.1 118.4L444.6 138M433.2 75.1L440.7 85.6M433.2 75.1L443.7 76.6M433.2 75.1L422.7 70.1M433.2 75.1L419.8 79.1M440.7 85.6L443.7 76.6M443.7 76.6L444.6 70M443.7 76.6L452.2 80.6M460.8 135.1L457.2 154.7M460.8 135.1L461 123.2M457.2 154.7L452.6 167.6M457.2 154.7L450 180.7M461.9 116.7L461 123.2M456.8 132.7L461 123.2M456.8 132.7L458.7 113.7M456.8 132.7L450.4 146.5M456.8 132.7L452.7 156M461 123.2L458.7 113.7M458.7 113.7L457.1 95.6M444.6 70L443.2 68.1M444.6 70L434.8 64.1M444.6 70L452.2 80.6M443.2 68.1L434.8 64.1M434.8 64.1L422.4 61.6M434.8 64.1L423.7 63.5M457.1 95.6L458 89.1M457.1 95.6L452.2 80.6M458 89.1L452.2 80.6M414.8 91.7L408.1 106.6M414.8 91.7L419.8 79.1M414.8 91.7L403.9 87.5M408.1 106.6L393.9 120.2M408.1 106.6L403.1 126.7M422.7 70.1L419.8 79.1M422.7 70.1L423.7 63.5M422.7 70.1L410.3 67.5M419.8 79.1L403.9 87.5M386.8 99.6L403.9 87.5M386.8 99.6L392.1 86.2M386.8 99.6L371 115M386.8 99.6L382.8 116.3M403.9 87.5L392.1 86.2M392.1 86.2L377 88.2M392.1 86.2L394.2 76M394.9 67.2L378.8 75.7M394.9 67.2L395.2 69.4M422.4 61.6L423.7 63.5M423.7 63.5L410.3 67.5M333.9 116.2L348.9 100.2M333.9 116.2L334.9 109.8M333.9 116.2L314 138.2M333.9 116.2L328 128.7M348.9 100.2L334.9 109.8M348.9 100.2L363.4 92.7M348.9 100.2L364.4 86.3M334.9 109.8L330.5 111.7M377 88.2L363.4 92.7M377 88.2L361.4 102.9M377 88.2L394.2 76M363.4 92.7L361.4 102.9M363.4 92.7L364.4 86.3M361.4 102.9L342.3 121.5M361.4 102.9L355.8 117M364.2 84L364.4 86.3M364.2 84L378.8 75.7M364.2 84L345.8 97.9M364.4 86.3L378.8 75.7M378.8 75.7L395.2 69.4M410.3 67.5L395.2 69.4M410.3 67.5L394.2 76M395.2 69.4L394.2 76M393.9 120.2L403.1 126.7M393.9 120.2L382.8 116.3M393.9 120.2L377.8 136.3M403.1 126.7L401.6 144.3M403.1 126.7L415.8 130.6M371 115L382.8 116.3M371 115L355.8 117M371 115L351.8 133.7M382.8 116.3L377.8 136.3M372.1 158.1L377.8 136.3M372.1 158.1L361.2 153.7M372.1 158.1L369.1 178M372.1 158.1L385.6 160.6M377.8 136.3L361.2 153.7M361.2 153.7L341 175.9M361.2 153.7L346.7 154M314 138.2L328 128.7M314 138.2L296.5 157.8M328 128.7L322.3 143.4M328 128.7L342.3 121.5M317.3 159.3L322.3 143.4M317.3 159.3L303.1 167M317.3 159.3L312.2 179.6M317.3 159.3L331.6 156M322.3 143.4L303.1 167M322.3 143.4L342.3 121.5M303.1 167L290.6 172.8M303.1 167L285.6 188.8M342.3 121.5L355.8 117M355.8 117L351.8 133.7M303.9 235.8L305.7 217.1M303.9 235.8L288.9 237.7M303.9 235.8L296.7 261.7M303.9 235.8L313.5 241.2M305.7 217.1L288.9 237.7M305.7 217.1L323.6 195.8M305.7 217.1L308.7 197.8M288.9 237.7L274.3 246.3M341 175.9L323.6 195.8M341 175.9L338.1 195.5M341 175.9L346.7 154M323.6 195.8L338.1 195.5M323.6 195.8L308.7 197.8M338.1 195.5L331.4 220.1M338.1 195.5L348.8 200.2M294.5 201.1L308.7 197.8M294.5 201.1L312.2 179.6M294.5 201.1L280.5 209.1M294.5 201.1L277 227.2M308.7 197.8L312.2 179.6M312.2 179.6L331.6 156M351.8 133.7L331.6 156M351.8 133.7L346.7 154M331.6 156L346.7 154M401.6 144.3L415.8 130.6M401.6 144.3L385.6 160.6M401.6 144.3L398.3 164.6M415.8 130.6L427.4 130.6M369.1 178L385.6 160.6M369.1 178L348.8 200.2M369.1 178L362.4 202.7M385.6 160.6L398.3 164.6M409.3 169.8L398.3 164.6M409.3 169.8L393.7 185.7M409.3 169.8L419.7 171.9M409.3 169.8L424.3 150.8M398.3 164.6L393.7 185.7M393.7 185.7L386.4 212M393.7 185.7L375.3 206.8M296.7 261.7L313.5 241.2M296.7 261.7L286.8 285.2M313.5 241.2L324.2 246.1M313.5 241.2L331.4 220.1M335 250.3L324.2 246.1M335 250.3L317.1 271.3M335 250.3L347.9 254.3M335 250.3L355.1 229M324.2 246.1L317.1 271.3M324.2 246.1L331.4 220.1M317.1 271.3L297.3 290.5M317.1 271.3L308 294.8M331.4 220.1L348.8 200.2M348.8 200.2L362.4 202.7M380 259.6L369.8 258.8M380 259.6L360.1 281.5M380 259.6L385.7 268M380 259.6L395.6 245.2M369.8 258.8L360.1 281.5M369.8 258.8L378.8 234.9M369.8 258.8L358.8 256.9M360.1 281.5L343.2 302.8M386.4 212L378.8 234.9M386.4 212L397.1 213.9M386.4 212L375.3 206.8M378.8 234.9L397.1 213.9M378.8 234.9L358.8 256.9M397.1 213.9L404.8 221.2M397.1 213.9L412.4 198.2M338.8 278L358.8 256.9M338.8 278L347.9 254.3M338.8 278L320.9 298.8M338.8 278L331.9 301.3M358.8 256.9L347.9 254.3M347.9 254.3L355.1 229M362.4 202.7L355.1 229M362.4 202.7L375.3 206.8M355.1 229L375.3 206.8M427.4 130.6L424.3 150.8M427.4 130.6L437.2 133.3M419.7 171.9L424.3 150.8M419.7 171.9L412.4 198.2M419.7 171.9L427.4 179.2M424.3 150.8L437.2 133.3M437.2 133.3L444.6 138M444.6 138L450.4 146.5M444.6 138L440.5 161.4M385.7 268L395.6 245.2M385.7 268L384.8 280.8M395.6 245.2L410.5 229.6M395.6 245.2L404.8 221.2M423.4 214.4L410.5 229.6M423.4 214.4L413.8 238.4M423.4 214.4L436.5 196.6M423.4 214.4L433.2 187.7M410.5 229.6L413.8 238.4M410.5 229.6L404.8 221.2M413.8 238.4L399.6 265.5M413.8 238.4L412.6 250.4M404.8 221.2L412.4 198.2M412.4 198.2L427.4 179.2M452.6 167.6L450 180.7M452.6 167.6L452.7 156M452.6 167.6L445.5 181.9M450 180.7L441.9 203.2M450.4 146.5L452.7 156M450.4 146.5L440.5 161.4M452.7 156L445.5 181.9M435.8 208.5L445.5 181.9M435.8 208.5L436.5 196.6M435.8 208.5L425.7 232.6M435.8 208.5L434.7 217.8M445.5 181.9L436.5 196.6M436.5 196.6L433.2 187.7M427.4 179.2L433.2 187.7M427.4 179.2L440.5 161.4M433.2 187.7L440.5 161.4M330.5 111.7L345.8 97.9M274.3 246.3L277 227.2M274.3 246.3L260.5 254.3M280.5 209.1L277 227.2M280.5 209.1L285.6 188.8M280.5 209.1L267.9 214.9M277 227.2L260.5 254.3M260.5 254.3L248.8 261.4M248.8 261.4L237.2 268.6M248.8 261.4L251.3 242.5M296.5 157.8L279.2 179.9M296.5 157.8L290.6 172.8M263.6 202.5L279.2 179.9M263.6 202.5L247 230M263.6 202.5L256.4 222.1M279.2 179.9L290.6 172.8M290.6 172.8L285.6 188.8M285.6 188.8L267.9 214.9M224 277.6L229.6 273.6M224 277.6L234.7 253.6M237.2 268.6L229.6 273.6M237.2 268.6L251.3 242.5M229.6 273.6L234.7 253.6M234.7 253.6L247 230M247 230L256.4 222.1M267.9 214.9L256.4 222.1M267.9 214.9L251.3 242.5M256.4 222.1L251.3 242.5M343.2 302.8L331.9 301.3M343.2 302.8L325.3 323.2M320.9 298.8L331.9 301.3M320.9 298.8L308 294.8M320.9 298.8L301.1 318.1M331.9 301.3L325.3 323.2M325.3 323.2L308.2 341.1M308.2 341.1L288.5 359.3M308.2 341.1L294.4 340.4M286.8 285.2L277.9 308.4M286.8 285.2L297.3 290.5M270.7 329.4L277.9 308.4M270.7 329.4L263.9 351.6M270.7 329.4L281.5 336.4M277.9 308.4L297.3 290.5M297.3 290.5L308 294.8M308 294.8L301.1 318.1M257.6 382.1L272.7 372M257.6 382.1L260 368M288.5 359.3L272.7 372M288.5 359.3L294.4 340.4M272.7 372L260 368M260 368L263.9 351.6M263.9 351.6L281.5 336.4M301.1 318.1L281.5 336.4M301.1 318.1L294.4 340.4M281.5 336.4L294.4 340.4M441.9 203.2L434.7 217.8M441.9 203.2L431.2 227.4M425.7 232.6L434.7 217.8M425.7 232.6L412.6 250.4M425.7 232.6L411.5 259.8M434.7 217.8L431.2 227.4M418.9 251L407.9 269.5M384.8 280.8L383.2 292.6M384.8 280.8L399.6 265.5M380.9 302.7L383.2 292.6M380.9 302.7L377.3 312.4M380.9 302.7L394.8 287.3M383.2 292.6L399.6 265.5M399.6 265.5L412.6 250.4M412.6 250.4L411.5 259.8M402.2 278.5L407.9 269.5M373.7 318.6L377.3 312.4M377.3 312.4L394.8 287.3M411.5 259.8L394.8 287.3M411.5 259.8L407.9 269.5M394.8 287.3L407.9 269.5" stroke="#1a1ad8" stroke-width="0.95" stroke-opacity="0.9" fill="none"/><ellipse cx="333.7" cy="235.2" rx="198.5" ry="79.8" transform="rotate(-57.1 333.7 235.2)" fill="none" stroke="#1010d0" stroke-width="3.0"/><ellipse cx="333.7" cy="235.2" rx="195.5" ry="76.8" transform="rotate(-57.1 333.7 235.2)" fill="none" stroke="#1010d0" stroke-width="0.8" stroke-opacity="0.7"/><ellipse cx="333.7" cy="235.2" rx="192.5" ry="73.8" transform="rotate(-57.1 333.7 235.2)" fill="none" stroke="#1010d0" stroke-width="0.7" stroke-opacity="0.55"/><ellipse cx="333.7" cy="235.2" rx="189" ry="70.3" transform="rotate(-57.1 333.7 235.2)" fill="none" stroke="#1010d0" stroke-width="0.7" stroke-opacity="0.45"/><ellipse cx="333.7" cy="235.2" rx="185" ry="66.3" transform="rotate(-57.1 333.7 235.2)" fill="none" stroke="#1010d0" stroke-width="0.6" stroke-opacity="0.35"/><path d="M240.5 192L235.3 187.3M240.5 192L242.7 199.5M240.5 192L235.8 181.3M240.5 192L247.8 201M240.5 192L243.5 189.7M353.7 191.8L352.1 200.9M353.7 191.8L357.8 199.4M353.7 191.8L357.1 187.2M353.7 191.8L350.9 181.1M353.7 191.8L347.8 189.6M305.6 112.8L301.5 106.8M305.6 112.8L295.8 108.3M305.6 112.8L314 120.5M305.6 112.8L312.8 114.3M305.6 112.8L303.4 116.7M235.6 112.9L230.8 114.4M235.6 112.9L232 120.6M235.6 112.9L237 106.9M235.6 112.9L242.1 108.4M235.6 112.9L239 116.8M285.5 167.6L277.3 158.9M285.5 167.6L278 171.1M285.5 167.6L295.5 171M285.5 167.6L288.1 158.8M285.5 167.6L289.3 178.6M313.5 240.8L303.7 238.5M313.5 240.8L309.9 244.5M313.5 240.8L320.7 244.5M313.5 240.8L321.2 238.5M313.5 240.8L310.7 234.7M254.9 218.6L250 213M254.9 218.6L258.6 221.8M228.4 149L225.4 154.2M228.4 149L229.6 159.6M228.4 149L228.4 138.8M228.4 149L224.7 141.9M228.4 149L232.9 144.3M228.4 149L233.7 156.7M297.8 247.3L286.6 242.5M297.8 247.3L302.1 247.8M297.8 247.3L291.7 244M297.8 247.3L308.9 250.1M274.1 224.2L264.7 217.3M274.1 224.2L268.3 224.7M274.1 224.2L279.7 232.3M274.1 224.2L283.9 230.1M274.1 224.2L280.4 222.4M274.1 224.2L269 214.7M266.7 102.4L260.5 98.2M266.7 102.4L257.7 103.1M266.7 102.4L276.1 103.1M266.7 102.4L271.5 98.2M266.7 102.4L273.4 108.3M266.7 102.4L262.5 108.3M288.6 96.7L282.6 95.4M288.6 96.7L292.9 98.7M257.7 181.2L248.5 173M257.7 181.2L252.2 184.3M257.7 181.2L264 177.9M257.7 181.2L255.6 169.2M257.7 181.2L267.8 189.2M257.7 181.2L260.7 193M254.9 134.7L248.7 127.8M254.9 134.7L246.3 137M254.9 134.7L254.2 145.6M254.9 134.7L261.8 142.2M254.9 134.7L264.3 133.2M254.9 134.7L256.5 124.6M340.7 224.1L348.3 224.6M340.7 224.1L345.5 217.2M340.7 224.1L334.9 230M340.7 224.1L342 232.3M340.7 224.1L338.1 214.7M340.7 224.1L331.8 222.3M338.9 247.2L341.2 243.9M338.9 247.2L333.6 247.7M338.9 247.2L343.4 245.2M338.9 247.2L347 242.4M338.9 247.2L335.6 248.6M338.9 247.2L329.7 250.1M362.6 218.4L362.3 212.8M362.6 218.4L359.4 221.7M362.6 218.4L359 227.9M362.6 218.4L361.5 223.1M362.6 218.4L364.5 207.8M362.6 218.4L364 214M359.7 171.9L360.1 177.1M359.7 171.9L363.1 184.3M359.7 171.9L361.8 178.1M359.7 171.9L358.1 166.7M359.7 171.9L356 165.8M359.7 171.9L354.8 159.5M331.5 125.4L340.5 136M331.5 125.4L325.8 120.7M331.5 125.4L334.2 129.9M331.5 125.4L321.5 116M336 148.8L341.9 159.4M336 148.8L344 154.1M336 148.8L336.5 141.7M336 148.8L329.3 138.7M336 148.8L334.6 156.5M336 148.8L327 144.2M296 134.6L306.8 137M296 134.6L298.6 127.8M296 134.6L293.3 142.2M296 134.6L303.6 145.5M296 134.6L285.2 133.2M296 134.6L288.3 124.6M324.3 181.1L332.9 184.2M324.3 181.1L328.6 172.9M324.3 181.1L317.9 169.1M324.3 181.1L315 177.8M324.3 181.1L329.8 192.9M324.3 181.1L319.2 189.1M300.6 209.9L307.2 203.7M300.6 209.9L296.9 199.9M300.6 209.9L304.2 219.1M300.6 209.9L311.5 215.1M300.6 209.9L293.8 215.1M300.6 209.9L289.5 203.7M231.2 182.4L235.3 187.3M231.2 182.4L237.8 194.8M231.2 182.4L234.1 189.7M231.2 182.4L228.3 177.3M231.2 182.4L230.9 176.5M231.2 182.4L227 171.2M245.9 206.6L237.8 194.8M245.9 206.6L242.7 199.5M245.9 206.6L250 213M245.9 206.6L241.5 201.9M245.9 206.6L250.3 208.5M245.9 206.6L254.1 215.7M232.1 170.4L235.8 181.3M232.1 170.4L230.9 176.5M232.1 170.4L227.5 165.1M232.1 170.4L229.6 159.6M232.1 170.4L239 178.9M232.1 170.4L235.7 167.5M224.1 159.9L225.4 154.2M224.1 159.9L227.5 165.1M224.1 159.9L227 171.2M224.1 159.9L224.6 165.9M224.1 159.9L222 153.5M224.1 159.9L222.5 147.4M227.2 117.1L230.8 114.4M227.2 117.1L227.6 122.6M227.2 117.1L224.2 125.8M227.2 117.1L224.9 120.9M227.2 117.1L232.6 108.8M227.2 117.1L229.3 112M222.7 135.5L222.4 130M222.7 135.5L224.2 125.8M222.7 135.5L225.4 132M222.7 135.5L224.7 141.9M222.7 135.5L222.5 147.4M222.7 135.5L221.2 141.2M229.6 129.3L227.6 122.6M229.6 129.3L232 120.6M229.6 129.3L228.4 138.8M229.6 129.3L225.4 132M229.6 129.3L235.7 125M229.6 129.3L233.7 134.4M239.5 102.2L237 106.9M239.5 102.2L232.6 108.8M239.5 102.2L235.5 104.4M239.5 102.2L243 98.8M239.5 102.2L243.9 102.7M239.5 102.2L246.9 98.3M263.1 223.9L258.6 221.8M263.1 223.9L254.1 215.7M263.1 223.9L259.1 217.2M263.1 223.9L268.3 224.7M263.1 223.9L269 230.8M263.1 223.9L274.1 232.3M255.9 209.5L250.3 208.5M255.9 209.5L247.8 201M255.9 209.5L264.7 217.3M255.9 209.5L259.1 217.2M255.9 209.5L251.1 198.7M255.9 209.5L259.9 207.2M275.5 236L269 230.8M275.5 236L280.4 238.4M293.8 234.9L303.7 238.5M293.8 234.9L300.1 241.8M293.8 234.9L289.7 237.6M293.8 234.9L283.9 230.1M293.8 234.9L300.8 231.9M293.8 234.9L290.4 227.7M285.6 239L279.7 232.3M285.6 239L289.7 237.6M285.6 239L295.9 243.7M285.6 239L291.7 244M285.6 239L280.4 238.4M285.6 239L274.1 232.3M306.1 246.9L300.1 241.8M306.1 246.9L309.9 244.5M306.1 246.9L302.1 247.8M306.1 246.9L295.9 243.7M306.1 246.9L317.1 247.8M306.1 246.9L313.1 249.8M266.7 92.9L260.5 93.3M266.7 92.9L271.5 93.3M249.5 105.1L242.1 108.4M249.5 105.1L243.9 102.7M249.5 105.1L251.9 99.7M249.5 105.1L257.7 103.1M249.5 105.1L245.8 112.7M249.5 105.1L253.9 109.8M255.2 95.9L260.5 98.2M255.2 95.9L251.9 99.7M255.2 95.9L246.9 98.3M255.2 95.9L250.8 95.4M255.2 95.9L260.5 93.3M255.2 95.9L265.6 94.8M297.2 102.1L301.5 106.8M297.2 102.1L291.5 102.7M297.2 102.1L287 98.2M297.2 102.1L292.9 98.7M297.2 102.1L308.6 108.7M297.2 102.1L304.2 104.3M276.8 95.9L282.6 95.4M276.8 95.9L287 98.2M276.8 95.9L281.2 99.7M276.8 95.9L271.5 98.2M276.8 95.9L265.6 94.8M276.8 95.9L271.5 93.3M285.9 105L291.5 102.7M285.9 105L295.8 108.3M285.9 105L276.1 103.1M285.9 105L281.2 99.7M285.9 105L293.5 112.6M285.9 105L283.2 109.8M239 140.3L232.9 144.3M239 140.3L233.7 134.4M239 140.3L240.6 130.6M239 140.3L246.3 137M239 140.3L239 152.2M239 140.3L246.1 148.4M243.4 121.9L235.7 125M243.4 121.9L239 116.8M243.4 121.9L248.7 127.8M243.4 121.9L240.6 130.6M243.4 121.9L245.8 112.7M243.4 121.9L250.8 118.3M247.4 187.2L243.5 189.7M247.4 187.2L239 178.9M247.4 187.2L243.4 176M247.4 187.2L252.2 184.3M247.4 187.2L251.1 198.7M247.4 187.2L255.6 195.9M240.5 164.7L248.5 173M240.5 164.7L243.4 176M240.5 164.7L235.7 167.5M240.5 164.7L233.7 156.7M240.5 164.7L239 152.2M240.5 164.7L246.8 160.8M269.3 150.3L277.3 158.9M269.3 150.3L269.7 162.3M269.3 150.3L261.5 153.6M269.3 150.3L261.8 142.2M269.3 150.3L279.8 150M269.3 150.3L271.7 141.2M254.4 157.2L254.2 145.6M254.4 157.2L261.5 153.6M254.4 157.2L262.3 165.8M254.4 157.2L255.6 169.2M254.4 157.2L246.8 160.8M254.4 157.2L246.1 148.4M270.8 174.5L269.7 162.3M270.8 174.5L278 171.1M270.8 174.5L264 177.9M270.8 174.5L262.3 165.8M270.8 174.5L281.8 182.1M270.8 174.5L274.4 185.8M349.3 209.4L352.1 200.9M349.3 209.4L355.8 208.4M349.3 209.4L352.6 217.1M349.3 209.4L345.5 217.2M349.3 209.4L345.7 198.6M349.3 209.4L342.4 207.1M354.6 223.8L348.3 224.6M354.6 223.8L352.6 217.1M354.6 223.8L358.3 215.6M354.6 223.8L359.4 221.7M354.6 223.8L349.2 232.2M354.6 223.8L355 230.6M360.7 206.4L355.8 208.4M360.7 206.4L357.8 199.4M360.7 206.4L362.3 212.8M360.7 206.4L358.3 215.6M360.7 206.4L360.8 194.7M360.7 206.4L363.4 201.7M327.5 246.8L320.7 244.5M327.5 246.8L328.4 241.7M327.5 246.8L335.3 243.6M327.5 246.8L333.6 247.7M327.5 246.8L317.1 247.8M327.5 246.8L323.9 249.8M342.2 238.9L341.2 243.9M342.2 238.9L335.3 243.6M342.2 238.9L335.7 237.6M342.2 238.9L342 232.3M342.2 238.9L349.2 232.2M342.2 238.9L348.7 238.3M328.4 234.8L328.4 241.7M328.4 234.8L321.2 238.5M328.4 234.8L334.9 230M328.4 234.8L335.7 237.6M328.4 234.8L318.3 231.9M328.4 234.8L325.5 227.6M353.7 235.9L359 227.9M353.7 235.9L357.1 232M353.7 235.9L350.9 239.6M353.7 235.9L347 242.4M353.7 235.9L348.7 238.3M353.7 235.9L355 230.6M364.7 196.4L364.5 207.8M364.7 196.4L363.4 201.7M364.7 196.4L362.7 189.5M364.7 196.4L363.1 184.3M364.7 196.4L365.2 202.8M364.7 196.4L364.4 190.5M359.2 182.3L360.8 194.7M359.2 182.3L357.1 187.2M359.2 182.3L360.1 177.1M359.2 182.3L362.7 189.5M359.2 182.3L353.9 176.3M359.2 182.3L355.6 171M350.7 159.8L356 165.8M350.7 159.8L355.6 171M350.7 159.8L349.4 165M350.7 159.8L344 154.1M350.7 159.8L350.3 153.4M350.7 159.8L343.9 147.2M346.9 170.3L353.9 176.3M346.9 170.3L350.9 181.1M346.9 170.3L341.9 159.4M346.9 170.3L349.4 165M346.9 170.3L344.5 178.7M346.9 170.3L340 167.4M348.3 147.5L340.5 136M348.3 147.5L344.9 142.1M348.3 147.5L352.3 154.3M348.3 147.5L354.8 159.5M348.3 147.5L350.3 153.4M348.3 147.5L342.7 141M321.9 129.2L314 120.5M321.9 129.2L321.1 122.5M321.9 129.2L329.3 131.9M321.9 129.2L329.3 138.7M321.9 129.2L311.7 124.9M321.9 129.2L319.8 134.3M335.8 135.4L336.5 141.7M335.8 135.4L329.3 131.9M335.8 135.4L328 125.7M335.8 135.4L334.2 129.9M335.8 135.4L342.7 141M335.8 135.4L343.9 147.2M319.5 117L321.1 122.5M319.5 117L312.8 114.3M319.5 117L325.8 120.7M319.5 117L328 125.7M319.5 117L308.6 108.7M319.5 117L315.4 111.9M332.1 164.6L334.6 156.5M332.1 164.6L340 167.4M332.1 164.6L336.9 175.9M332.1 164.6L328.6 172.9M332.1 164.6L325 152.1M332.1 164.6L321.9 160.7M340.8 187L344.5 178.7M340.8 187L347.8 189.6M340.8 187L332.9 184.2M340.8 187L336.9 175.9M340.8 187L345.7 198.6M340.8 187L338.1 195.8M301.1 121.8L303.4 116.7M301.1 121.8L311.7 124.9M301.1 121.8L309.3 130.6M301.1 121.8L298.6 127.8M301.1 121.8L293.5 112.6M301.1 121.8L290.9 118.2M317.2 140.2L306.8 137M317.2 140.2L309.3 130.6M317.2 140.2L319.8 134.3M317.2 140.2L327 144.2M317.2 140.2L325 152.1M317.2 140.2L314.4 148.3M305.4 174.5L295.5 171M305.4 174.5L298.1 162.3M305.4 174.5L308.3 165.7M305.4 174.5L315 177.8M305.4 174.5L299.3 182.1M305.4 174.5L309.6 185.7M311 157.1L317.9 169.1M311 157.1L308.3 165.7M311 157.1L300.9 153.5M311 157.1L303.6 145.5M311 157.1L314.4 148.3M311 157.1L321.9 160.7M290.7 150.3L298.1 162.3M290.7 150.3L288.1 158.8M290.7 150.3L293.3 142.2M290.7 150.3L300.9 153.5M290.7 150.3L279.8 150M290.7 150.3L282.5 141.2M334.5 204.2L329.8 192.9M334.5 204.2L338.1 195.8M334.5 204.2L342.4 207.1M334.5 204.2L338.1 214.7M334.5 204.2L324.4 200.8M334.5 204.2L328.7 212.3M293.1 189.4L289.3 178.6M293.1 189.4L299.3 182.1M293.1 189.4L303.3 193.3M293.1 189.4L296.9 199.9M293.1 189.4L281.8 182.1M293.1 189.4L285.7 193.3M313.4 196.7L307.2 203.7M313.4 196.7L303.3 193.3M313.4 196.7L309.6 185.7M313.4 196.7L319.2 189.1M313.4 196.7L324.4 200.8M313.4 196.7L318.1 208.5M322 219.3L331.8 222.3M322 219.3L325.5 227.6M322 219.3L315 223.9M322 219.3L311.5 215.1M322 219.3L318.1 208.5M322 219.3L328.7 212.3M307.6 227.4L318.3 231.9M307.6 227.4L310.7 234.7M307.6 227.4L304.2 219.1M307.6 227.4L315 223.9M307.6 227.4L300.8 231.9M307.6 227.4L297.4 223.9M319.7 251.1L308.9 250.1M319.7 251.1L313.1 249.8M319.7 251.1L323.9 249.8M319.7 251.1L329.7 250.1M310.9 108L321.5 116M310.9 108L315.4 111.9M310.9 108L304.2 104.3M310.9 108L299.8 101.5M274.5 132.7L285.2 133.2M274.5 132.7L282.5 141.2M274.5 132.7L271.7 141.2M274.5 132.7L264.3 133.2M274.5 132.7L277.4 123.6M274.5 132.7L266.5 123.6M280.7 115.8L273.4 108.3M280.7 115.8L283.2 109.8M280.7 115.8L290.9 118.2M280.7 115.8L288.3 124.6M280.7 115.8L277.4 123.6M280.7 115.8L269.6 115M259.1 115.8L256.5 124.6M259.1 115.8L250.8 118.3M259.1 115.8L253.9 109.8M259.1 115.8L262.5 108.3M259.1 115.8L269.6 115M259.1 115.8L266.5 123.6M287.1 219.3L293.8 215.1M287.1 219.3L297.4 223.9M287.1 219.3L290.4 227.7M287.1 219.3L280.4 222.4M287.1 219.3L282.6 208.5M287.1 219.3L275.6 212.3M278.4 196.7L267.8 189.2M278.4 196.7L274.4 185.8M278.4 196.7L285.7 193.3M278.4 196.7L289.5 203.7M278.4 196.7L282.6 208.5M278.4 196.7L271.2 200.9M264.5 204.3L269 214.7M264.5 204.3L259.9 207.2M264.5 204.3L255.6 195.9M264.5 204.3L260.7 193M264.5 204.3L271.2 200.9M264.5 204.3L275.6 212.3M235.3 187.3L237.8 194.8M235.3 187.3L242.7 199.5M235.3 187.3L235.8 181.3M235.3 187.3L230.9 176.5M237.8 194.8L242.7 199.5M237.8 194.8L234.1 189.7M237.8 194.8L241.5 201.9M242.7 199.5L250.3 208.5M242.7 199.5L247.8 201M234.1 189.7L228.3 177.3M234.1 189.7L241.5 201.9M228.3 177.3L227 171.2M228.3 177.3L224.6 165.9M250 213L241.5 201.9M250 213L245.9 208M250 213L258.6 221.8M250 213L254.1 215.7M235.8 181.3L230.9 176.5M235.8 181.3L243.5 189.7M235.8 181.3L239 178.9M230.9 176.5L227.5 165.1M230.9 176.5L227 171.2M225.4 154.2L227.5 165.1M225.4 154.2L229.6 159.6M225.4 154.2L224.7 141.9M225.4 154.2L222.5 147.4M227.5 165.1L229.6 159.6M227.5 165.1L227 171.2M229.6 159.6L235.7 167.5M229.6 159.6L233.7 156.7M227 171.2L224.6 165.9M224.6 165.9L222 153.5M230.8 114.4L227.6 122.6M230.8 114.4L232 120.6M230.8 114.4L237 106.9M230.8 114.4L232.6 108.8M227.6 122.6L232 120.6M227.6 122.6L224.2 125.8M227.6 122.6L225.4 132M232 120.6L235.7 125M232 120.6L239 116.8M222.4 130L224.2 125.8M222.4 130L224.9 120.9M222.4 130L221.2 141.2M224.2 125.8L224.9 120.9M224.2 125.8L225.4 132M224.9 120.9L229.3 112M228.4 138.8L225.4 132M228.4 138.8L224.7 141.9M228.4 138.8L232.9 144.3M228.4 138.8L233.7 134.4M225.4 132L224.7 141.9M224.7 141.9L222.5 147.4M222 153.5L222.5 147.4M222 153.5L221.2 141.2M222.5 147.4L221.2 141.2M237 106.9L232.6 108.8M237 106.9L242.1 108.4M237 106.9L243.9 102.7M232.6 108.8L235.5 104.4M232.6 108.8L229.3 112M235.5 104.4L243 98.8M235.5 104.4L229.3 112M243 98.8L246.9 98.3M243 98.8L250.8 95.4M250.3 208.5L247.8 201M250.3 208.5L254.1 215.7M250.3 208.5L259.1 217.2M247.8 201L243.5 189.7M247.8 201L251.1 198.7M258.6 221.8L254.1 215.7M258.6 221.8L264.9 228M258.6 221.8L269 230.8M254.1 215.7L259.1 217.2M264.7 217.3L259.1 217.2M264.7 217.3L268.3 224.7M264.7 217.3L269 214.7M264.7 217.3L259.9 207.2M259.1 217.2L268.3 224.7M268.3 224.7L279.7 232.3M268.3 224.7L274.1 232.3M286.6 242.5L291.7 244M286.6 242.5L280.4 238.4M264.9 228L269 230.8M303.7 238.5L300.1 241.8M303.7 238.5L309.9 244.5M303.7 238.5L310.7 234.7M303.7 238.5L300.8 231.9M300.1 241.8L309.9 244.5M300.1 241.8L289.7 237.6M300.1 241.8L295.9 243.7M309.9 244.5L320.7 244.5M309.9 244.5L317.1 247.8M279.7 232.3L289.7 237.6M279.7 232.3L283.9 230.1M279.7 232.3L274.1 232.3M289.7 237.6L283.9 230.1M289.7 237.6L295.9 243.7M283.9 230.1L290.4 227.7M283.9 230.1L280.4 222.4M302.1 247.8L295.9 243.7M302.1 247.8L291.7 244M302.1 247.8L308.9 250.1M302.1 247.8L313.1 249.8M295.9 243.7L291.7 244M291.7 244L280.4 238.4M269 230.8L280.4 238.4M269 230.8L274.1 232.3M280.4 238.4L274.1 232.3M256.7 93.9L260.5 93.3M277.5 93.9L282.6 95.4M277.5 93.9L271.5 93.3M242.1 108.4L243.9 102.7M242.1 108.4L239 116.8M242.1 108.4L245.8 112.7M243.9 102.7L251.9 99.7M243.9 102.7L246.9 98.3M260.5 98.2L251.9 99.7M260.5 98.2L257.7 103.1M260.5 98.2L271.5 98.2M260.5 98.2L265.6 94.8M251.9 99.7L257.7 103.1M251.9 99.7L246.9 98.3M257.7 103.1L253.9 109.8M257.7 103.1L262.5 108.3M246.9 98.3L250.8 95.4M250.8 95.4L260.5 93.3M301.5 106.8L291.5 102.7M301.5 106.8L295.8 108.3M301.5 106.8L312.8 114.3M301.5 106.8L308.6 108.7M291.5 102.7L295.8 108.3M291.5 102.7L287 98.2M291.5 102.7L281.2 99.7M295.8 108.3L303.4 116.7M295.8 108.3L293.5 112.6M282.6 95.4L287 98.2M282.6 95.4L292.9 98.7M282.6 95.4L271.5 93.3M287 98.2L292.9 98.7M287 98.2L281.2 99.7M292.9 98.7L304.2 104.3M292.9 98.7L299.8 101.5M276.1 103.1L281.2 99.7M276.1 103.1L271.5 98.2M276.1 103.1L273.4 108.3M276.1 103.1L283.2 109.8M281.2 99.7L271.5 98.2M271.5 98.2L265.6 94.8M260.5 93.3L265.6 94.8M260.5 93.3L271.5 93.3M265.6 94.8L271.5 93.3M235.7 125L239 116.8M235.7 125L233.7 134.4M235.7 125L240.6 130.6M239 116.8L245.8 112.7M232.9 144.3L233.7 134.4M232.9 144.3L233.7 156.7M232.9 144.3L239 152.2M233.7 134.4L240.6 130.6M248.7 127.8L240.6 130.6M248.7 127.8L246.3 137M248.7 127.8L256.5 124.6M248.7 127.8L250.8 118.3M240.6 130.6L246.3 137M246.3 137L254.2 145.6M246.3 137L246.1 148.4M243.5 189.7L239 178.9M243.5 189.7L251.1 198.7M239 178.9L243.4 176M239 178.9L235.7 167.5M248.5 173L243.4 176M248.5 173L252.2 184.3M248.5 173L255.6 169.2M248.5 173L246.8 160.8M243.4 176L252.2 184.3M243.4 176L235.7 167.5M252.2 184.3L255.6 195.9M252.2 184.3L260.7 193M235.7 167.5L233.7 156.7M233.7 156.7L239 152.2M277.3 158.9L269.7 162.3M277.3 158.9L278 171.1M277.3 158.9L288.1 158.8M277.3 158.9L279.8 150M269.7 162.3L278 171.1M269.7 162.3L261.5 153.6M269.7 162.3L262.3 165.8M278 171.1L289.3 178.6M278 171.1L281.8 182.1M254.2 145.6L261.5 153.6M254.2 145.6L261.8 142.2M254.2 145.6L246.1 148.4M261.5 153.6L261.8 142.2M261.5 153.6L262.3 165.8M261.8 142.2L271.7 141.2M261.8 142.2L264.3 133.2M264 177.9L262.3 165.8M264 177.9L255.6 169.2M264 177.9L267.8 189.2M264 177.9L274.4 185.8M262.3 165.8L255.6 169.2M255.6 169.2L246.8 160.8M239 152.2L246.8 160.8M239 152.2L246.1 148.4M246.8 160.8L246.1 148.4M352.1 200.9L355.8 208.4M352.1 200.9L357.8 199.4M352.1 200.9L347.8 189.6M352.1 200.9L345.7 198.6M355.8 208.4L357.8 199.4M355.8 208.4L352.6 217.1M355.8 208.4L358.3 215.6M357.8 199.4L360.8 194.7M357.8 199.4L357.1 187.2M348.3 224.6L352.6 217.1M348.3 224.6L345.5 217.2M348.3 224.6L342 232.3M348.3 224.6L349.2 232.2M352.6 217.1L345.5 217.2M352.6 217.1L358.3 215.6M345.5 217.2L342.4 207.1M345.5 217.2L338.1 214.7M362.3 212.8L358.3 215.6M362.3 212.8L359.4 221.7M362.3 212.8L364.5 207.8M362.3 212.8L363.4 201.7M358.3 215.6L359.4 221.7M359.4 221.7L359 227.9M359.4 221.7L355 230.6M320.7 244.5L328.4 241.7M320.7 244.5L321.2 238.5M320.7 244.5L317.1 247.8M328.4 241.7L321.2 238.5M328.4 241.7L335.3 243.6M328.4 241.7L335.7 237.6M321.2 238.5L318.3 231.9M321.2 238.5L310.7 234.7M341.2 243.9L335.3 243.6M341.2 243.9L333.6 247.7M341.2 243.9L347 242.4M341.2 243.9L348.7 238.3M335.3 243.6L333.6 247.7M335.3 243.6L335.7 237.6M333.6 247.7L323.9 249.8M333.6 247.7L329.7 250.1M334.9 230L335.7 237.6M334.9 230L342 232.3M334.9 230L331.8 222.3M334.9 230L325.5 227.6M335.7 237.6L342 232.3M342 232.3L349.2 232.2M359 227.9L357.1 232M359 227.9L361.5 223.1M359 227.9L355 230.6M343.4 245.2L347 242.4M350.9 239.6L347 242.4M347 242.4L348.7 238.3M349.2 232.2L348.7 238.3M349.2 232.2L355 230.6M348.7 238.3L355 230.6M360.8 194.7L357.1 187.2M360.8 194.7L363.4 201.7M360.8 194.7L362.7 189.5M357.1 187.2L353.9 176.3M357.1 187.2L350.9 181.1M364.5 207.8L363.4 201.7M364.5 207.8L364 214M364.5 207.8L365.2 202.8M363.4 201.7L362.7 189.5M360.1 177.1L362.7 189.5M360.1 177.1L363.1 184.3M360.1 177.1L356 165.8M360.1 177.1L355.6 171M362.7 189.5L363.1 184.3M363.1 184.3L361.8 178.1M363.1 184.3L364.4 190.5M358.1 166.7L354.8 159.5M353.9 176.3L350.9 181.1M353.9 176.3L355.6 171M353.9 176.3L349.4 165M350.9 181.1L344.5 178.7M350.9 181.1L347.8 189.6M356 165.8L355.6 171M356 165.8L354.8 159.5M356 165.8L350.3 153.4M355.6 171L349.4 165M341.9 159.4L349.4 165M341.9 159.4L344 154.1M341.9 159.4L334.6 156.5M341.9 159.4L340 167.4M349.4 165L344 154.1M344 154.1L336.5 141.7M344 154.1L343.9 147.2M340.5 136L344.9 142.1M340.5 136L334.2 129.9M340.5 136L342.7 141M352.3 154.3L354.8 159.5M354.8 159.5L350.3 153.4M314 120.5L321.1 122.5M314 120.5L312.8 114.3M314 120.5L303.4 116.7M314 120.5L311.7 124.9M321.1 122.5L312.8 114.3M321.1 122.5L329.3 131.9M321.1 122.5L328 125.7M312.8 114.3L308.6 108.7M336.5 141.7L329.3 131.9M336.5 141.7L329.3 138.7M336.5 141.7L343.9 147.2M329.3 131.9L329.3 138.7M329.3 131.9L328 125.7M329.3 138.7L319.8 134.3M329.3 138.7L327 144.2M325.8 120.7L328 125.7M325.8 120.7L334.2 129.9M325.8 120.7L321.5 116M325.8 120.7L315.4 111.9M328 125.7L334.2 129.9M334.2 129.9L342.7 141M350.3 153.4L342.7 141M350.3 153.4L343.9 147.2M342.7 141L343.9 147.2M344.5 178.7L347.8 189.6M344.5 178.7L340 167.4M344.5 178.7L336.9 175.9M347.8 189.6L345.7 198.6M334.6 156.5L340 167.4M334.6 156.5L327 144.2M334.6 156.5L325 152.1M340 167.4L336.9 175.9M332.9 184.2L336.9 175.9M332.9 184.2L328.6 172.9M332.9 184.2L329.8 192.9M332.9 184.2L338.1 195.8M336.9 175.9L328.6 172.9M328.6 172.9L317.9 169.1M328.6 172.9L321.9 160.7M303.4 116.7L311.7 124.9M303.4 116.7L293.5 112.6M311.7 124.9L309.3 130.6M311.7 124.9L319.8 134.3M306.8 137L309.3 130.6M306.8 137L298.6 127.8M306.8 137L303.6 145.5M306.8 137L314.4 148.3M309.3 130.6L298.6 127.8M309.3 130.6L319.8 134.3M298.6 127.8L290.9 118.2M298.6 127.8L288.3 124.6M319.8 134.3L327 144.2M327 144.2L325 152.1M295.5 171L298.1 162.3M295.5 171L288.1 158.8M295.5 171L289.3 178.6M295.5 171L299.3 182.1M298.1 162.3L288.1 158.8M298.1 162.3L308.3 165.7M298.1 162.3L300.9 153.5M288.1 158.8L279.8 150M317.9 169.1L308.3 165.7M317.9 169.1L315 177.8M317.9 169.1L321.9 160.7M308.3 165.7L315 177.8M308.3 165.7L300.9 153.5M315 177.8L309.6 185.7M315 177.8L319.2 189.1M293.3 142.2L300.9 153.5M293.3 142.2L303.6 145.5M293.3 142.2L285.2 133.2M293.3 142.2L282.5 141.2M300.9 153.5L303.6 145.5M303.6 145.5L314.4 148.3M325 152.1L314.4 148.3M325 152.1L321.9 160.7M314.4 148.3L321.9 160.7M345.7 198.6L338.1 195.8M345.7 198.6L342.4 207.1M329.8 192.9L338.1 195.8M329.8 192.9L319.2 189.1M329.8 192.9L324.4 200.8M338.1 195.8L342.4 207.1M342.4 207.1L338.1 214.7M338.1 214.7L331.8 222.3M338.1 214.7L328.7 212.3M289.3 178.6L299.3 182.1M289.3 178.6L281.8 182.1M299.3 182.1L303.3 193.3M299.3 182.1L309.6 185.7M307.2 203.7L303.3 193.3M307.2 203.7L296.9 199.9M307.2 203.7L311.5 215.1M307.2 203.7L318.1 208.5M303.3 193.3L296.9 199.9M303.3 193.3L309.6 185.7M296.9 199.9L285.7 193.3M296.9 199.9L289.5 203.7M309.6 185.7L319.2 189.1M319.2 189.1L324.4 200.8M318.3 231.9L310.7 234.7M318.3 231.9L325.5 227.6M318.3 231.9L315 223.9M310.7 234.7L300.8 231.9M331.8 222.3L325.5 227.6M331.8 222.3L328.7 212.3M325.5 227.6L315 223.9M304.2 219.1L315 223.9M304.2 219.1L311.5 215.1M304.2 219.1L293.8 215.1M304.2 219.1L297.4 223.9M315 223.9L311.5 215.1M311.5 215.1L318.1 208.5M324.4 200.8L318.1 208.5M324.4 200.8L328.7 212.3M318.1 208.5L328.7 212.3M335.6 248.6L329.7 250.1M317.1 247.8L313.1 249.8M317.1 247.8L323.9 249.8M308.9 250.1L313.1 249.8M313.1 249.8L323.9 249.8M323.9 249.8L329.7 250.1M308.6 108.7L315.4 111.9M308.6 108.7L304.2 104.3M321.5 116L315.4 111.9M315.4 111.9L304.2 104.3M304.2 104.3L299.8 101.5M279.8 150L282.5 141.2M279.8 150L271.7 141.2M285.2 133.2L282.5 141.2M285.2 133.2L288.3 124.6M285.2 133.2L277.4 123.6M282.5 141.2L271.7 141.2M271.7 141.2L264.3 133.2M264.3 133.2L256.5 124.6M264.3 133.2L266.5 123.6M293.5 112.6L283.2 109.8M293.5 112.6L290.9 118.2M273.4 108.3L283.2 109.8M273.4 108.3L262.5 108.3M273.4 108.3L269.6 115M283.2 109.8L290.9 118.2M290.9 118.2L288.3 124.6M288.3 124.6L277.4 123.6M245.8 112.7L250.8 118.3M245.8 112.7L253.9 109.8M256.5 124.6L250.8 118.3M256.5 124.6L266.5 123.6M250.8 118.3L253.9 109.8M253.9 109.8L262.5 108.3M262.5 108.3L269.6 115M277.4 123.6L269.6 115M277.4 123.6L266.5 123.6M269.6 115L266.5 123.6M300.8 231.9L297.4 223.9M300.8 231.9L290.4 227.7M293.8 215.1L297.4 223.9M293.8 215.1L289.5 203.7M293.8 215.1L282.6 208.5M297.4 223.9L290.4 227.7M290.4 227.7L280.4 222.4M280.4 222.4L269 214.7M280.4 222.4L275.6 212.3M281.8 182.1L274.4 185.8M281.8 182.1L285.7 193.3M267.8 189.2L274.4 185.8M267.8 189.2L260.7 193M267.8 189.2L271.2 200.9M274.4 185.8L285.7 193.3M285.7 193.3L289.5 203.7M289.5 203.7L282.6 208.5M251.1 198.7L259.9 207.2M251.1 198.7L255.6 195.9M269 214.7L259.9 207.2M269 214.7L275.6 212.3M259.9 207.2L255.6 195.9M255.6 195.9L260.7 193M260.7 193L271.2 200.9M282.6 208.5L271.2 200.9M282.6 208.5L275.6 212.3M271.2 200.9L275.6 212.3" stroke="#28883a" stroke-width="0.6" stroke-opacity="0.8" fill="none"/><ellipse cx="293.2" cy="172" rx="87.8" ry="58.3" transform="rotate(52.2 293.2 172)" fill="#c8e0c8" fill-opacity="0.5" stroke="#2a8a3a" stroke-width="2.4"/><ellipse cx="293.2" cy="172" rx="85.5" ry="56" transform="rotate(52.2 293.2 172)" fill="none" stroke="#2a8a3a" stroke-width="0.8" stroke-opacity="0.6"/><ellipse cx="293.2" cy="172" rx="83.5" ry="54" transform="rotate(52.2 293.2 172)" fill="none" stroke="#2a8a3a" stroke-width="0.7" stroke-opacity="0.45"/><circle cx="197" cy="66.4" r="9.2" fill="url(#sr)"/><circle cx="193.5" cy="97.5" r="9.5" fill="url(#sr)"/><circle cx="209.5" cy="100.8" r="9.3" fill="url(#sr)"/><circle cx="145.5" cy="99" r="9" fill="url(#sr)"/><circle cx="178" cy="195.8" r="9.2" fill="url(#sr)"/><circle cx="213.7" cy="194.5" r="9.4" fill="url(#sr)"/><circle cx="213.5" cy="133.5" r="8" fill="url(#sR)"/><circle cx="219.5" cy="147" r="8.5" fill="url(#sD)"/><circle cx="231.5" cy="144.5" r="9.5" fill="url(#sr)"/><circle cx="259.6" cy="99.8" r="9" fill="url(#sr)"/><circle cx="258.5" cy="135" r="9.5" fill="url(#sr)"/><circle cx="283.1" cy="135.3" r="9.3" fill="url(#sr)"/><circle cx="306" cy="122.5" r="9" fill="url(#sr)"/><path d="M200.7 193.8L198.7 187.1M200.7 193.8L212.8 190.2M200.7 193.8L210.4 197.4M200.7 193.8L194.9 198.9M200.7 193.8L187.7 192.5M161.8 78.3L162.9 80.7M161.8 78.3L151.8 86.1M161.8 78.3L168.5 73.2M161.8 78.3L173.2 72.8M161.8 78.3L155.3 81.5M262.5 68.9L269.6 75M262.5 68.9L255.6 72M262.5 68.9L261.3 64.5M262.5 68.9L273.2 70.4M262.5 68.9L250.4 65.5M286.5 140.2L278.6 149.1M286.5 140.2L277.8 137.8M286.5 140.2L289.4 148.1M286.5 140.2L295.3 136.1M286.5 140.2L288.1 129.8M123.7 155.6L128.5 163.2M123.7 155.6L123.9 163.6M123.7 155.6L127.7 151.9M123.7 155.6L122.5 145.4M123.7 155.6L120.2 152.6M195.4 120.6L207.8 122.7M195.4 120.6L194.6 131M195.4 120.6L182.7 125.1M195.4 120.6L204.1 111.7M195.4 120.6L188.6 113.2M194.8 161.5L208.2 165.7M194.8 161.5L195.7 170.8M194.8 161.5L194.3 151.6M194.8 161.5L207.4 154.2M194.8 161.5L182.8 168.1M194.8 161.5L181.9 156.6M245.2 130L232.9 138.3M245.2 130L233 127.5M245.2 130L256.9 132.6M245.2 130L247.2 141.4M245.2 130L256.8 121.8M245.2 130L242.6 118.8M248.4 173L236.8 179.7M248.4 173L235.4 171.5M248.4 173L248.8 163.1M248.4 173L259.3 165.6M248.4 173L247.2 181.9M248.4 173L260.6 173.6M289.8 169.2L281.6 171.6M289.8 169.2L291.1 162.7M289.8 169.2L287.1 175M289.8 169.2L279.2 179M289.8 169.2L296.2 165.9M289.8 169.2L298.6 158.5M239.4 200.7L229.9 200.9M239.4 200.7L242.7 195.9M239.4 200.7L253.7 194.9M239.4 200.7L248.4 199.2M239.4 200.7L224.5 204.8M239.4 200.7L235.5 203.7M180.2 206.2L184.5 205.2M180.2 206.2L194.6 207.6M180.2 206.2L189.8 208M180.2 206.2L176.6 205.9M180.2 206.2L171.5 202.6M180.2 206.2L166.8 203.1M134.9 183.8L136.5 185.3M152.7 182L163.4 186.6M152.7 182L157.5 190.4M152.7 182L145.5 184.4M152.7 182L143.2 176.5M152.7 182L161.4 178.5M152.7 182L149.4 172.5M149.5 139L147.8 150.7M149.5 139L140.7 143.6M149.5 139L159.6 134.4M149.5 139L159 145.3M149.5 139L152.9 127.2M149.5 139L141.7 132.7M312.2 123.8L309.9 135.5M312.2 123.8L308.3 127.8M312.2 123.8L314.3 119.9M312.2 123.8L313.5 130.8M312.2 123.8L312.1 112.3M312.2 123.8L308.6 117M231.1 88.1L235.4 97.5M231.1 88.1L222.1 95.3M231.1 88.1L239.8 81.7M231.1 88.1L245.9 89.4M231.1 88.1L226.4 79.7M231.1 88.1L215.9 87.8M284.7 99.6L287.2 109.3M284.7 99.6L276.8 106.4M284.7 99.6L273 95.2M284.7 99.6L280.9 90.5M284.7 99.6L290.9 93.6M284.7 99.6L294.6 104.8M129.8 114.2L131.7 120.1M129.8 114.2L125.6 124.5M129.8 114.2L135.6 104.2M129.8 114.2L137.7 108M129.8 114.2L130 108.7M129.8 114.2L124.1 120.8M171.9 93.6L176.8 99.6M171.9 93.6L164.2 104.2M171.9 93.6L159 97.6M171.9 93.6L168 88.5M171.9 93.6L180.7 84M171.9 93.6L186 90.6M298.1 81.8L303.4 87.7M298.1 81.8L291.1 76.9M298.1 81.8L289.2 73.9M298.1 81.8L297.6 84.6M298.1 81.8L305 91M211.4 63.2L222.2 59.5M211.4 63.2L224.6 62.6M211.4 63.2L198.2 65.1M211.4 63.2L206.5 61M211.4 63.2L200.7 68.6M211.4 63.2L216.4 67.1M197 179.4L198.7 187.1M197 179.4L210.9 183.1M197 179.4L209.4 174.7M197 179.4L195.7 170.8M197 179.4L185.7 185.5M197 179.4L184 177.1M221.9 169L208.2 165.7M221.9 169L209.4 174.7M221.9 169L223.4 177.7M221.9 169L235.4 171.5M221.9 169L221.1 158.1M221.9 169L235.4 161.1M224.9 185.4L210.9 183.1M224.9 185.4L212.8 190.2M224.9 185.4L236.8 179.7M224.9 185.4L223.4 177.7M224.9 185.4L222.6 193.4M224.9 185.4L235.3 188.1M220.4 125L207.8 122.7M220.4 125L207.2 133.2M220.4 125L220.4 135.8M220.4 125L233 127.5M220.4 125L216.8 113.9M220.4 125L230 116.3M220.2 146.4L232.9 138.3M220.2 146.4L220.4 135.8M220.2 146.4L207.1 144M220.2 146.4L207.4 154.2M220.2 146.4L221.1 158.1M220.2 146.4L234.5 149.7M194.2 141.4L207.2 133.2M194.2 141.4L194.6 131M194.2 141.4L194.3 151.6M194.2 141.4L207.1 144M194.2 141.4L182 135.6M194.2 141.4L181.7 146.4M269.5 157.6L278.6 149.1M269.5 157.6L269.3 146.6M269.5 157.6L259.4 155.3M269.5 157.6L259.3 165.6M269.5 157.6L281.1 156.9M269.5 157.6L271.2 165.7M248.4 152.5L248.8 163.1M248.4 152.5L259.4 155.3M248.4 152.5L258.5 144M248.4 152.5L247.2 141.4M248.4 152.5L234.5 149.7M248.4 152.5L235.4 161.1M267.8 135.2L269.3 146.6M267.8 135.2L277.8 137.8M267.8 135.2L256.9 132.6M267.8 135.2L258.5 144M267.8 135.2L278.9 127.2M267.8 135.2L268.2 124.5M245.3 189.6L247.2 181.9M245.3 189.6L235.3 188.1M245.3 189.6L232.9 195.4M245.3 189.6L242.7 195.9M245.3 189.6L259.1 182M245.3 189.6L256.7 189.4M220.2 199.8L222.6 193.4M220.2 199.8L210.4 197.4M220.2 199.8L229.9 200.9M220.2 199.8L232.9 195.4M220.2 199.8L204.7 202.1M220.2 199.8L214.8 204.2M291 155.6L289.4 148.1M291 155.6L281.1 156.9M291 155.6L282.1 164.7M291 155.6L291.1 162.7M291 155.6L297.9 143.9M291 155.6L299 151.6M271.8 173.1L281.6 171.6M271.8 173.1L282.1 164.7M271.8 173.1L271.2 165.7M271.8 173.1L260.6 173.6M271.8 173.1L259.1 182M271.8 173.1L270.1 181M256.8 196.4L270.6 188.9M256.8 196.4L262.4 192.6M256.8 196.4L248.4 199.2M256.8 196.4L244.3 201.4M267.1 187.6L253.7 194.9M267.1 187.6L262.4 192.6M267.1 187.6L275.6 184.3M267.1 187.6L279.2 179M267.1 187.6L270.1 181M267.1 187.6L256.7 189.4M283 180L270.6 188.9M283 180L287.1 175M283 180L275.6 184.3M283 180L292.6 171.3M209.5 207.1L224.5 204.8M209.5 207.1L214.8 204.2M209.5 207.1L199.3 205.6M209.5 207.1L194.6 207.6M209.5 207.1L220.4 207.1M209.5 207.1L204.6 208.6M189.5 202.7L204.7 202.1M189.5 202.7L194.9 198.9M189.5 202.7L184.5 205.2M189.5 202.7L199.3 205.6M189.5 202.7L181.8 197.2M189.5 202.7L176.2 200.7M231.2 205.1L235.5 203.7M231.2 205.1L220.4 207.1M163.9 197.3L171.5 202.6M163.9 197.3L176.2 200.7M163.9 197.3L169 194.3M163.9 197.3L157.5 190.4M163.9 197.3L158.4 198.6M163.9 197.3L151.1 192.2M175.1 190.1L181.8 197.2M175.1 190.1L187.7 192.5M175.1 190.1L163.4 186.6M175.1 190.1L169 194.3M175.1 190.1L185.7 185.5M175.1 190.1L172.9 182.5M154.5 198.2L166.8 203.1M154.5 198.2L158.4 198.6M154.5 198.2L146.4 192.6M135.1 170.2L128.5 163.2M135.1 170.2L129.3 171.2M135.1 170.2L136.8 178.3M135.1 170.2L143.2 176.5M135.1 170.2L133.2 159.4M135.1 170.2L140.6 166.4M140.1 185.5L145.5 184.4M140.1 185.5L136.8 178.3M140.1 185.5L132.1 178.8M140.1 185.5L136.5 185.3M140.1 185.5L146.4 192.6M140.1 185.5L151.1 192.2M125.9 171.1L129.3 171.2M125.9 171.1L123.9 163.6M125.9 171.1L129.6 177.9M125.9 171.1L132.1 178.8M125.9 171.1L120.9 160.6M125.9 171.1L123.6 168.1M171.5 173.8L161.4 178.5M171.5 173.8L172.9 182.5M171.5 173.8L184 177.1M171.5 173.8L182.8 168.1M171.5 173.8L158.9 168.3M171.5 173.8L170.1 162.9M133.4 147.9L127.7 151.9M133.4 147.9L133.2 159.4M133.4 147.9L139.8 155.1M133.4 147.9L140.7 143.6M133.4 147.9L127.2 141.5M133.4 147.9L133.7 137.1M147.7 162L147.8 150.7M147.7 162L139.8 155.1M147.7 162L140.6 166.4M147.7 162L149.4 172.5M147.7 162L158.9 168.3M147.7 162L158 156.9M169.9 151.2L181.9 156.6M169.9 151.2L181.7 146.4M169.9 151.2L169.8 140.5M169.9 151.2L159 145.3M169.9 151.2L158 156.9M169.9 151.2L170.1 162.9M170.7 129.7L182 135.6M170.7 129.7L182.7 125.1M170.7 129.7L159.6 134.4M170.7 129.7L169.8 140.5M170.7 129.7L176 117.7M170.7 129.7L163.7 122.5M300.6 161.7L296.2 165.9M300.6 161.7L292.6 171.3M300.6 161.7L304.1 154.8M300.6 161.7L307.7 150M302.6 132L295.3 136.1M302.6 132L297.9 143.9M302.6 132L304.9 139.7M302.6 132L308.3 127.8M302.6 132L296.5 125.6M302.6 132L303.5 121.2M305.4 147.2L309.9 135.5M305.4 147.2L304.9 139.7M305.4 147.2L299 151.6M305.4 147.2L298.6 158.5M305.4 147.2L304.1 154.8M305.4 147.2L310.1 142.7M312.4 137.9L313.5 130.8M312.4 137.9L310.1 142.7M314.5 116.3L314.3 119.9M314.5 116.3L313.1 108.5M267.4 113.9L256.8 121.8M267.4 113.9L268.2 124.5M267.4 113.9L278.5 116.5M267.4 113.9L276.8 106.4M267.4 113.9L253.8 110.6M267.4 113.9L264.4 102.5M288.3 119.4L278.9 127.2M288.3 119.4L288.1 129.8M288.3 119.4L287.2 109.3M288.3 119.4L278.5 116.5M288.3 119.4L296.5 125.6M288.3 119.4L296.3 114.8M213.1 103.2L204.1 111.7M213.1 103.2L216.8 113.9M213.1 103.2L226.3 105.2M213.1 103.2L222.1 95.3M213.1 103.2L197.5 104.3M213.1 103.2L206.8 95.6M239.3 107.8L235.4 97.5M239.3 107.8L226.3 105.2M239.3 107.8L230 116.3M239.3 107.8L242.6 118.8M239.3 107.8L253.8 110.6M239.3 107.8L250.1 99.4M275.8 82.3L269.6 75M275.8 82.3L262.5 78.6M275.8 82.3L268.4 86.6M275.8 82.3L280.9 90.5M275.8 82.3L280.1 77M275.8 82.3L286.2 84.9M260 91.8L273 95.2M260 91.8L268.4 86.6M260 91.8L254.4 83.6M260 91.8L245.9 89.4M260 91.8L250.1 99.4M260 91.8L264.4 102.5M248 76.3L262.5 78.6M248 76.3L255.6 72M248 76.3L239.8 81.7M248 76.3L254.4 83.6M248 76.3L243.2 69M248 76.3L234.9 73.9M157.9 115.5L152.9 127.2M157.9 115.5L163.7 122.5M157.9 115.5L169.6 110.6M157.9 115.5L164.2 104.2M157.9 115.5L145.8 120.7M157.9 115.5L151.8 108.6M182.3 106.1L176 117.7M182.3 106.1L188.6 113.2M182.3 106.1L176.8 99.6M182.3 106.1L169.6 110.6M182.3 106.1L197.5 104.3M182.3 106.1L191.3 97M123.2 134.9L122.5 145.4M123.2 134.9L127.2 141.5M123.2 134.9L128.5 130.6M123.2 134.9L125.6 124.5M123.2 134.9L119.6 142.2M123.2 134.9L120.9 131.3M135.7 126.3L131.7 120.1M135.7 126.3L128.5 130.6M135.7 126.3L133.7 137.1M135.7 126.3L141.7 132.7M135.7 126.3L145.8 120.7M135.7 126.3L140.6 114.1M164.9 84.1L162.9 80.7M164.9 84.1L153.1 88.9M164.9 84.1L155.6 92.9M164.9 84.1L168 88.5M164.9 84.1L174.6 75.5M164.9 84.1L177.2 79.3M147.5 102.4L159 97.6M147.5 102.4L155.6 92.9M147.5 102.4L144.5 98.3M147.5 102.4L137.7 108M147.5 102.4L140.6 114.1M147.5 102.4L151.8 108.6M143 94.8L153.1 88.9M143 94.8L151.8 86.1M143 94.8L135.6 104.2M143 94.8L144.5 98.3M143 94.8L145.6 89.6M143 94.8L136.9 99M118.5 149.3L120.9 160.6M118.5 149.3L120.2 152.6M118.5 149.3L119.6 142.2M118.5 149.3L118.5 138.6M259.2 61.4L261.3 64.5M259.2 61.4L271.7 66.4M259.2 61.4L269.4 63.7M259.2 61.4L256.4 59.7M259.2 61.4L248.9 61.5M259.2 61.4L246.4 58.7M278.5 67.4L269.4 63.7M278.5 67.4L281.3 69.6M278.5 67.4L289.2 73.9M282.8 73.1L271.7 66.4M282.8 73.1L273.2 70.4M282.8 73.1L291.1 76.9M282.8 73.1L281.3 69.6M282.8 73.1L280.1 77M282.8 73.1L289.8 80.3M237.7 63.4L250.4 65.5M237.7 63.4L248.9 61.5M237.7 63.4L235.5 59.8M237.7 63.4L224.6 62.6M237.7 63.4L243.2 69M237.7 63.4L229.7 67.4M232.9 57.6L222.2 59.5M232.9 57.6L235.5 59.8M232.9 57.6L246.4 58.7M232.9 57.6L243.2 57.6M232.9 57.6L228.4 57M232.9 57.6L217.3 58.1M176.2 69.2L168.5 73.2M176.2 69.2L180.3 67.9M201.8 60.5L188.7 64.2M201.8 60.5L193.4 63.7M201.8 60.5L206.5 61M201.8 60.5L217.3 58.1M185.4 68.3L180.3 67.9M185.4 68.3L173.2 72.8M185.4 68.3L198.2 65.1M185.4 68.3L193.4 63.7M185.4 68.3L174.6 75.5M185.4 68.3L187.6 71.3M150 85.6L155.3 81.5M150 85.6L145.6 89.6M295.2 88.6L297.6 84.6M295.2 88.6L289.8 80.3M295.2 88.6L286.2 84.9M295.2 88.6L290.9 93.6M295.2 88.6L303.6 94.4M295.2 88.6L300.1 99.1M309.7 101.3L312.1 112.3M309.7 101.3L313.1 108.5M309.7 101.3L309.4 97.5M309.7 101.3L305 91M309.7 101.3L303.6 94.4M309.7 101.3L307.4 105.6M302.7 110.6L294.6 104.8M302.7 110.6L296.3 114.8M302.7 110.6L303.5 121.2M302.7 110.6L308.6 117M302.7 110.6L307.4 105.6M302.7 110.6L300.1 99.1M190.4 75.6L200.7 68.6M190.4 75.6L187.6 71.3M190.4 75.6L177.2 79.3M190.4 75.6L180.7 84M190.4 75.6L205.8 73.4M190.4 75.6L195.3 81.5M221.5 72.7L226.4 79.7M221.5 72.7L234.9 73.9M221.5 72.7L229.7 67.4M221.5 72.7L216.4 67.1M221.5 72.7L205.8 73.4M221.5 72.7L211 80M200.7 88.7L186 90.6M200.7 88.7L191.3 97M200.7 88.7L206.8 95.6M200.7 88.7L215.9 87.8M200.7 88.7L211 80M200.7 88.7L195.3 81.5M132.4 103.9L130 108.7M132.4 103.9L136.9 99M120.6 127.7L118.5 138.6M120.6 127.7L120.9 131.3M120.6 127.7L124.1 120.8M120.6 127.7L125.3 115.6M198.7 187.1L210.9 183.1M198.7 187.1L212.8 190.2M198.7 187.1L187.7 192.5M198.7 187.1L185.7 185.5M210.9 183.1L212.8 190.2M210.9 183.1L209.4 174.7M210.9 183.1L223.4 177.7M212.8 190.2L222.6 193.4M212.8 190.2L210.4 197.4M208.2 165.7L209.4 174.7M208.2 165.7L195.7 170.8M208.2 165.7L207.4 154.2M208.2 165.7L221.1 158.1M209.4 174.7L195.7 170.8M209.4 174.7L223.4 177.7M195.7 170.8L184 177.1M195.7 170.8L182.8 168.1M236.8 179.7L223.4 177.7M236.8 179.7L235.4 171.5M236.8 179.7L247.2 181.9M236.8 179.7L235.3 188.1M223.4 177.7L235.4 171.5M235.4 171.5L248.8 163.1M235.4 171.5L235.4 161.1M207.8 122.7L207.2 133.2M207.8 122.7L194.6 131M207.8 122.7L204.1 111.7M207.8 122.7L216.8 113.9M207.2 133.2L194.6 131M207.2 133.2L220.4 135.8M207.2 133.2L207.1 144M194.6 131L182 135.6M194.6 131L182.7 125.1M232.9 138.3L220.4 135.8M232.9 138.3L233 127.5M232.9 138.3L247.2 141.4M232.9 138.3L234.5 149.7M220.4 135.8L233 127.5M220.4 135.8L207.1 144M233 127.5L230 116.3M233 127.5L242.6 118.8M194.3 151.6L207.1 144M194.3 151.6L207.4 154.2M194.3 151.6L181.9 156.6M194.3 151.6L181.7 146.4M207.1 144L207.4 154.2M207.4 154.2L221.1 158.1M278.6 149.1L269.3 146.6M278.6 149.1L277.8 137.8M278.6 149.1L289.4 148.1M278.6 149.1L281.1 156.9M269.3 146.6L277.8 137.8M269.3 146.6L259.4 155.3M269.3 146.6L258.5 144M277.8 137.8L278.9 127.2M277.8 137.8L288.1 129.8M248.8 163.1L259.4 155.3M248.8 163.1L259.3 165.6M248.8 163.1L235.4 161.1M259.4 155.3L259.3 165.6M259.4 155.3L258.5 144M259.3 165.6L271.2 165.7M259.3 165.6L260.6 173.6M256.9 132.6L258.5 144M256.9 132.6L247.2 141.4M256.9 132.6L256.8 121.8M256.9 132.6L268.2 124.5M258.5 144L247.2 141.4M247.2 141.4L234.5 149.7M221.1 158.1L234.5 149.7M221.1 158.1L235.4 161.1M234.5 149.7L235.4 161.1M222.6 193.4L210.4 197.4M222.6 193.4L235.3 188.1M222.6 193.4L232.9 195.4M210.4 197.4L204.7 202.1M210.4 197.4L194.9 198.9M247.2 181.9L235.3 188.1M247.2 181.9L260.6 173.6M247.2 181.9L259.1 182M235.3 188.1L232.9 195.4M229.9 200.9L232.9 195.4M229.9 200.9L242.7 195.9M229.9 200.9L224.5 204.8M229.9 200.9L214.8 204.2M232.9 195.4L242.7 195.9M242.7 195.9L253.7 194.9M242.7 195.9L256.7 189.4M289.4 148.1L281.1 156.9M289.4 148.1L295.3 136.1M289.4 148.1L297.9 143.9M281.1 156.9L282.1 164.7M281.1 156.9L271.2 165.7M281.6 171.6L282.1 164.7M281.6 171.6L291.1 162.7M281.6 171.6L279.2 179M281.6 171.6L270.1 181M282.1 164.7L291.1 162.7M282.1 164.7L271.2 165.7M291.1 162.7L299 151.6M291.1 162.7L298.6 158.5M271.2 165.7L260.6 173.6M260.6 173.6L259.1 182M270.6 188.9L262.4 192.6M270.6 188.9L275.6 184.3M253.7 194.9L262.4 192.6M253.7 194.9L248.4 199.2M253.7 194.9L256.7 189.4M262.4 192.6L248.4 199.2M262.4 192.6L275.6 184.3M248.4 199.2L244.3 201.4M248.4 199.2L235.5 203.7M287.1 175L275.6 184.3M287.1 175L279.2 179M287.1 175L296.2 165.9M287.1 175L292.6 171.3M275.6 184.3L279.2 179M279.2 179L270.1 181M259.1 182L270.1 181M259.1 182L256.7 189.4M270.1 181L256.7 189.4M204.7 202.1L194.9 198.9M204.7 202.1L214.8 204.2M204.7 202.1L199.3 205.6M194.9 198.9L181.8 197.2M194.9 198.9L187.7 192.5M224.5 204.8L214.8 204.2M224.5 204.8L235.5 203.7M224.5 204.8L220.4 207.1M214.8 204.2L199.3 205.6M184.5 205.2L199.3 205.6M184.5 205.2L194.6 207.6M184.5 205.2L171.5 202.6M184.5 205.2L176.2 200.7M199.3 205.6L194.6 207.6M194.6 207.6L189.8 208M194.6 207.6L204.6 208.6M244.3 201.4L235.5 203.7M235.5 203.7L220.4 207.1M189.8 208L204.6 208.6M176.6 205.9L166.8 203.1M220.4 207.1L204.6 208.6M181.8 197.2L187.7 192.5M181.8 197.2L176.2 200.7M181.8 197.2L169 194.3M187.7 192.5L185.7 185.5M171.5 202.6L176.2 200.7M171.5 202.6L166.8 203.1M171.5 202.6L158.4 198.6M176.2 200.7L169 194.3M163.4 186.6L169 194.3M163.4 186.6L157.5 190.4M163.4 186.6L161.4 178.5M163.4 186.6L172.9 182.5M169 194.3L157.5 190.4M157.5 190.4L145.5 184.4M157.5 190.4L151.1 192.2M143.8 191.7L136.5 185.3M143.8 191.7L146.4 192.6M166.8 203.1L158.4 198.6M128.5 163.2L129.3 171.2M128.5 163.2L123.9 163.6M128.5 163.2L127.7 151.9M128.5 163.2L133.2 159.4M129.3 171.2L123.9 163.6M129.3 171.2L136.8 178.3M129.3 171.2L132.1 178.8M123.9 163.6L120.9 160.6M123.9 163.6L120.2 152.6M145.5 184.4L136.8 178.3M145.5 184.4L143.2 176.5M145.5 184.4L151.1 192.2M136.8 178.3L143.2 176.5M136.8 178.3L132.1 178.8M143.2 176.5L140.6 166.4M143.2 176.5L149.4 172.5M129.6 177.9L132.1 178.8M129.6 177.9L136.5 185.3M132.1 178.8L136.5 185.3M136.5 185.3L146.4 192.6M158.4 198.6L146.4 192.6M158.4 198.6L151.1 192.2M146.4 192.6L151.1 192.2M185.7 185.5L172.9 182.5M185.7 185.5L184 177.1M161.4 178.5L172.9 182.5M161.4 178.5L149.4 172.5M161.4 178.5L158.9 168.3M172.9 182.5L184 177.1M184 177.1L182.8 168.1M182.8 168.1L181.9 156.6M182.8 168.1L170.1 162.9M127.7 151.9L133.2 159.4M127.7 151.9L122.5 145.4M127.7 151.9L127.2 141.5M133.2 159.4L139.8 155.1M133.2 159.4L140.6 166.4M147.8 150.7L139.8 155.1M147.8 150.7L140.7 143.6M147.8 150.7L159 145.3M147.8 150.7L158 156.9M139.8 155.1L140.7 143.6M139.8 155.1L140.6 166.4M140.7 143.6L133.7 137.1M140.7 143.6L141.7 132.7M140.6 166.4L149.4 172.5M149.4 172.5L158.9 168.3M182 135.6L182.7 125.1M182 135.6L181.7 146.4M182 135.6L169.8 140.5M182.7 125.1L176 117.7M182.7 125.1L188.6 113.2M181.9 156.6L181.7 146.4M181.9 156.6L170.1 162.9M181.7 146.4L169.8 140.5M159.6 134.4L169.8 140.5M159.6 134.4L159 145.3M159.6 134.4L152.9 127.2M159.6 134.4L163.7 122.5M169.8 140.5L159 145.3M159 145.3L158 156.9M158.9 168.3L158 156.9M158.9 168.3L170.1 162.9M158 156.9L170.1 162.9M296.2 165.9L292.6 171.3M296.2 165.9L298.6 158.5M296.2 165.9L304.1 154.8M295.3 136.1L297.9 143.9M295.3 136.1L288.1 129.8M295.3 136.1L296.5 125.6M297.9 143.9L304.9 139.7M297.9 143.9L299 151.6M309.9 135.5L304.9 139.7M309.9 135.5L308.3 127.8M309.9 135.5L313.5 130.8M309.9 135.5L310.1 142.7M304.9 139.7L308.3 127.8M304.9 139.7L299 151.6M308.3 127.8L303.5 121.2M308.3 127.8L308.6 117M299 151.6L298.6 158.5M298.6 158.5L304.1 154.8M314.3 119.9L314.5 127M314.3 119.9L313.5 130.8M314.3 119.9L312.1 112.3M314.3 119.9L313.1 108.5M314.5 127L313.5 130.8M313.5 130.8L310.1 142.7M304.1 154.8L310.1 142.7M304.1 154.8L307.7 150M310.1 142.7L307.7 150M278.9 127.2L288.1 129.8M278.9 127.2L268.2 124.5M278.9 127.2L278.5 116.5M288.1 129.8L296.5 125.6M256.8 121.8L268.2 124.5M256.8 121.8L242.6 118.8M256.8 121.8L253.8 110.6M268.2 124.5L278.5 116.5M287.2 109.3L278.5 116.5M287.2 109.3L276.8 106.4M287.2 109.3L294.6 104.8M287.2 109.3L296.3 114.8M278.5 116.5L276.8 106.4M276.8 106.4L273 95.2M276.8 106.4L264.4 102.5M204.1 111.7L216.8 113.9M204.1 111.7L188.6 113.2M204.1 111.7L197.5 104.3M216.8 113.9L226.3 105.2M216.8 113.9L230 116.3M235.4 97.5L226.3 105.2M235.4 97.5L222.1 95.3M235.4 97.5L245.9 89.4M235.4 97.5L250.1 99.4M226.3 105.2L222.1 95.3M226.3 105.2L230 116.3M222.1 95.3L206.8 95.6M222.1 95.3L215.9 87.8M230 116.3L242.6 118.8M242.6 118.8L253.8 110.6M269.6 75L262.5 78.6M269.6 75L255.6 72M269.6 75L273.2 70.4M269.6 75L280.1 77M262.5 78.6L255.6 72M262.5 78.6L268.4 86.6M262.5 78.6L254.4 83.6M255.6 72L250.4 65.5M255.6 72L243.2 69M273 95.2L268.4 86.6M273 95.2L280.9 90.5M273 95.2L264.4 102.5M268.4 86.6L280.9 90.5M268.4 86.6L254.4 83.6M280.9 90.5L286.2 84.9M280.9 90.5L290.9 93.6M239.8 81.7L254.4 83.6M239.8 81.7L245.9 89.4M239.8 81.7L226.4 79.7M239.8 81.7L234.9 73.9M254.4 83.6L245.9 89.4M245.9 89.4L250.1 99.4M253.8 110.6L250.1 99.4M253.8 110.6L264.4 102.5M250.1 99.4L264.4 102.5M176 117.7L188.6 113.2M176 117.7L163.7 122.5M176 117.7L169.6 110.6M188.6 113.2L197.5 104.3M152.9 127.2L163.7 122.5M152.9 127.2L141.7 132.7M152.9 127.2L145.8 120.7M163.7 122.5L169.6 110.6M176.8 99.6L169.6 110.6M176.8 99.6L164.2 104.2M176.8 99.6L186 90.6M176.8 99.6L191.3 97M169.6 110.6L164.2 104.2M164.2 104.2L159 97.6M164.2 104.2L151.8 108.6M122.5 145.4L127.2 141.5M122.5 145.4L120.2 152.6M122.5 145.4L119.6 142.2M127.2 141.5L128.5 130.6M127.2 141.5L133.7 137.1M131.7 120.1L128.5 130.6M131.7 120.1L125.6 124.5M131.7 120.1L137.7 108M131.7 120.1L140.6 114.1M128.5 130.6L125.6 124.5M128.5 130.6L133.7 137.1M125.6 124.5L120.9 131.3M125.6 124.5L124.1 120.8M133.7 137.1L141.7 132.7M141.7 132.7L145.8 120.7M162.9 80.7L153.1 88.9M162.9 80.7L151.8 86.1M162.9 80.7L173.2 72.8M162.9 80.7L174.6 75.5M153.1 88.9L151.8 86.1M153.1 88.9L155.6 92.9M153.1 88.9L144.5 98.3M151.8 86.1L155.3 81.5M151.8 86.1L145.6 89.6M159 97.6L155.6 92.9M159 97.6L168 88.5M159 97.6L151.8 108.6M155.6 92.9L168 88.5M155.6 92.9L144.5 98.3M168 88.5L177.2 79.3M168 88.5L180.7 84M135.6 104.2L144.5 98.3M135.6 104.2L137.7 108M135.6 104.2L130 108.7M135.6 104.2L136.9 99M144.5 98.3L137.7 108M137.7 108L140.6 114.1M145.8 120.7L140.6 114.1M145.8 120.7L151.8 108.6M140.6 114.1L151.8 108.6M120.9 160.6L120.2 152.6M120.9 160.6L123.6 168.1M120.9 160.6L119.9 157.1M120.2 152.6L119.6 142.2M303.4 87.7L309.4 97.5M303.4 87.7L305 91M261.3 64.5L271.7 66.4M261.3 64.5L273.2 70.4M261.3 64.5L250.4 65.5M261.3 64.5L248.9 61.5M271.7 66.4L273.2 70.4M271.7 66.4L269.4 63.7M271.7 66.4L281.3 69.6M273.2 70.4L280.1 77M266.2 62.5L269.4 63.7M269.4 63.7L256.4 59.7M269.4 63.7L281.3 69.6M256.4 59.7L246.4 58.7M256.4 59.7L243.2 57.6M291.1 76.9L281.3 69.6M291.1 76.9L289.2 73.9M291.1 76.9L297.6 84.6M291.1 76.9L289.8 80.3M281.3 69.6L289.2 73.9M250.4 65.5L248.9 61.5M250.4 65.5L243.2 69M248.9 61.5L235.5 59.8M248.9 61.5L246.4 58.7M222.2 59.5L235.5 59.8M222.2 59.5L224.6 62.6M222.2 59.5L206.5 61M222.2 59.5L217.3 58.1M235.5 59.8L224.6 62.6M235.5 59.8L246.4 58.7M224.6 62.6L229.7 67.4M224.6 62.6L216.4 67.1M246.4 58.7L243.2 57.6M168.5 73.2L180.3 67.9M168.5 73.2L173.2 72.8M168.5 73.2L155.3 81.5M168.5 73.2L162.4 76.7M180.3 67.9L173.2 72.8M180.3 67.9L188.7 64.2M180.3 67.9L193.4 63.7M173.2 72.8L174.6 75.5M188.7 64.2L193.4 63.7M198.2 65.1L193.4 63.7M198.2 65.1L206.5 61M198.2 65.1L200.7 68.6M198.2 65.1L187.6 71.3M193.4 63.7L206.5 61M206.5 61L217.3 58.1M228.4 57L217.3 58.1M217.3 58.1L212.6 58.5M155.3 81.5L162.4 76.7M155.3 81.5L145.6 89.6M280.1 77L289.8 80.3M280.1 77L286.2 84.9M297.6 84.6L289.8 80.3M297.6 84.6L305 91M297.6 84.6L303.6 94.4M289.8 80.3L286.2 84.9M286.2 84.9L290.9 93.6M290.9 93.6L294.6 104.8M290.9 93.6L300.1 99.1M312.1 112.3L313.1 108.5M312.1 112.3L308.6 117M312.1 112.3L307.4 105.6M313.1 108.5L309.4 97.5M309.4 97.5L305 91M305 91L303.6 94.4M296.5 125.6L296.3 114.8M296.5 125.6L303.5 121.2M294.6 104.8L296.3 114.8M294.6 104.8L300.1 99.1M296.3 114.8L303.5 121.2M303.5 121.2L308.6 117M308.6 117L307.4 105.6M303.6 94.4L307.4 105.6M303.6 94.4L300.1 99.1M307.4 105.6L300.1 99.1M174.6 75.5L187.6 71.3M174.6 75.5L177.2 79.3M200.7 68.6L187.6 71.3M200.7 68.6L216.4 67.1M200.7 68.6L205.8 73.4M187.6 71.3L177.2 79.3M177.2 79.3L180.7 84M180.7 84L186 90.6M180.7 84L195.3 81.5M243.2 69L234.9 73.9M243.2 69L229.7 67.4M226.4 79.7L234.9 73.9M226.4 79.7L215.9 87.8M226.4 79.7L211 80M234.9 73.9L229.7 67.4M229.7 67.4L216.4 67.1M216.4 67.1L205.8 73.4M197.5 104.3L191.3 97M197.5 104.3L206.8 95.6M186 90.6L191.3 97M186 90.6L195.3 81.5M191.3 97L206.8 95.6M206.8 95.6L215.9 87.8M215.9 87.8L211 80M205.8 73.4L211 80M205.8 73.4L195.3 81.5M211 80L195.3 81.5M145.6 89.6L136.9 99M145.6 89.6L140.4 94.3M130 108.7L136.9 99M130 108.7L124.1 120.8M130 108.7L125.3 115.6M136.9 99L140.4 94.3M119.6 142.2L118.5 138.6M119.6 142.2L120.9 131.3M118.5 138.6L120.9 131.3M120.9 131.3L124.1 120.8M124.1 120.8L125.3 115.6" stroke="#e0262a" stroke-width="0.85" stroke-opacity="0.5" fill="none"/><circle cx="141.3" cy="117.3" r="9.8" fill="url(#sp)"/><circle cx="175.5" cy="108.6" r="9.4" fill="url(#sp)"/><circle cx="165.8" cy="137" r="9.8" fill="url(#sp)"/><circle cx="195.5" cy="139.8" r="9" fill="url(#sP)"/><circle cx="130" cy="166" r="7.5" fill="url(#sP)"/><circle cx="120.7" cy="154.6" r="9.8" fill="url(#sp)"/><path d="M128.6 160.6L125.2 157.3M128.6 160.6L133.6 156.1M128.6 160.6L135.5 160.8M128.6 160.6L128.2 164.9M128.6 160.6L121.8 162.7M184.7 150.8L178.4 153.3M184.7 150.8L185.3 147.1M184.7 150.8L179.8 155.8M184.7 150.8L190.8 145.8M184.7 150.8L187.5 151.2M168 97.8L170 98.3M168 97.8L161.5 99.5M168 97.8L170.6 97.4M168 97.8L175.5 97M168 97.8L161.9 98.9M172.9 120.4L167.6 125.3M172.9 120.4L166 120.3M172.9 120.4L176.3 123.8M172.9 120.4L180 117.8M172.9 120.4L173.7 115.6M209 112L209.5 116.1M209 112L207.7 111.4M209 112L207 107.9M209 112L209.9 115.5M96.4 162.8L97.1 164.4M118.4 127.9L124.2 126M118.4 127.9L117.3 132.2M118.4 127.9L112.4 132.5M118.4 127.9L123.4 122.5M118.4 127.9L116.1 126.5M118.4 145.4L125.6 144.6M118.4 145.4L120 149.6M118.4 145.4L117.3 141M118.4 145.4L124 139.4M118.4 145.4L113.6 151.2M118.4 145.4L112 146.1M144.4 121.8L137.2 127.5M144.4 121.8L137.3 122.9M144.4 121.8L151.6 121M144.4 121.8L145.7 126.3M144.4 121.8L151.9 116.5M144.4 121.8L143.3 117.7M150.4 141L144.7 146.3M150.4 141L141.8 142.3M150.4 141L148.7 136.1M150.4 141L156.3 135.7M150.4 141L152.2 145.9M150.4 141L159.1 139.6M183.4 135.3L175.8 136.7M183.4 135.3L181.5 131.3M183.4 135.3L184.6 139.3M183.4 135.3L177.6 141.5M183.4 135.3L190.2 133.9M183.4 135.3L188.4 129.1M157.3 158.9L149.9 160M157.3 158.9L155.7 155M157.3 158.9L164.5 153.4M157.3 158.9L164.7 157.4M157.3 158.9L150.1 163.8M157.3 158.9L158.9 162.3M162.5 168.5L161.5 167.2M162.5 168.5L168.6 164.8M162.5 168.5L156.2 171.7M162.5 168.5L154.1 171.3M162.5 168.5L163.2 169.1M162.5 168.5L170.6 165M129.5 174.3L128.6 171.8M129.5 174.3L136 171.6M129.5 174.3L137.4 174.2M129.5 174.3L130.9 176.1M129.5 174.3L122.2 173.5M129.5 174.3L123.6 176.1M105.4 166L110.1 165.4M105.4 166L110 169.3M105.4 166L105 169.6M105.4 166L101.7 166M105.4 166L107.1 161.6M105.4 166L102 161.9M99.4 146.7L99 152.2M99.4 146.7L97 151.2M99.4 146.7L102.8 142M99.4 146.7L102.4 146.7M99.4 146.7L101.2 141M99.4 146.7L97.7 146.5M197.7 112.5L195.6 117.6M197.7 112.5L192.5 113.8M197.7 112.5L202 111.6M197.7 112.5L201.3 116.3M197.7 112.5L198.7 108M197.7 112.5L193 109.3M204.6 130.3L200.9 135.5M204.6 130.3L201 131.4M204.6 130.3L204.8 125.3M204.6 130.3L207.3 125.3M204.6 130.3L207 129.5M204.6 130.3L203.2 135.5M141.5 108.5L141.9 111M141.5 108.5L135.1 112.7M141.5 108.5L148.2 104.9M141.5 108.5L149.6 106.3M141.5 108.5L141.5 106.8M141.5 108.5L133.7 111.5M173.6 104.2L174.1 107.4M173.6 104.2L166.6 107.6M173.6 104.2L165.9 104M173.6 104.2L172.8 101.5M173.6 104.2L180.1 101.6M173.6 104.2L180.8 105.1M113.7 123.9L113.8 124.6M113.7 123.9L108.4 129.5M113.7 123.9L119.6 119.3M191.7 150.9L185.4 156.1M191.7 150.9L191 151.2M191.7 150.9L196.6 145.9M194.8 99.2L197.8 100.3M194.8 99.2L199.8 101.4M194.8 99.2L189.1 97.7M194.8 99.2L191.4 98.1M194.8 99.2L190.8 99.1M194.8 99.2L197.2 101.3M122.3 153.6L125.2 157.3M122.3 153.6L130.4 152.7M122.3 153.6L127.6 148.7M122.3 153.6L120 149.6M122.3 153.6L118.5 159.2M122.3 153.6L115.7 155.3M133.5 143.5L125.6 144.6M133.5 143.5L127.6 148.7M133.5 143.5L136.1 147.5M133.5 143.5L141.8 142.3M133.5 143.5L131.6 138.5M133.5 143.5L140.1 137.3M139 151.3L130.4 152.7M139 151.3L133.6 156.1M139 151.3L144.7 146.3M139 151.3L136.1 147.5M139 151.3L140.7 156.2M139 151.3L146.4 151.1M130.5 124.3L124.2 126M130.5 124.3L123.4 130.4M130.5 124.3L130.2 128.8M130.5 124.3L137.3 122.9M130.5 124.3L129.5 120.7M130.5 124.3L136.3 119M130.3 133.4L137.2 127.5M130.3 133.4L130.2 128.8M130.3 133.4L123.3 135M130.3 133.4L124 139.4M130.3 133.4L131.6 138.5M130.3 133.4L138.5 132.2M117 136.6L123.4 130.4M117 136.6L117.3 132.2M117 136.6L117.3 141M117 136.6L123.3 135M117 136.6L111.5 136.9M117 136.6L111.4 141.6M162 130.5L167.6 125.3M162 130.5L160.6 125.3M162 130.5L154.6 130.7M162 130.5L156.3 135.7M162 130.5L170.8 128.9M162 130.5L165 134.3M147.2 131.1L148.7 136.1M147.2 131.1L154.6 130.7M147.2 131.1L153 125.7M147.2 131.1L145.7 126.3M147.2 131.1L138.5 132.2M147.2 131.1L140.1 137.3M158.9 120.5L160.6 125.3M158.9 120.5L166 120.3M158.9 120.5L151.6 121M158.9 120.5L153 125.7M158.9 120.5L166.7 115.6M158.9 120.5L159.2 115.9M154 150.6L152.2 145.9M154 150.6L146.4 151.1M154 150.6L148.2 155.8M154 150.6L155.7 155M154 150.6L160.9 144.5M154 150.6L162.7 149.2M142.6 160.6L140.7 156.2M142.6 160.6L135.5 160.8M142.6 160.6L149.9 160M142.6 160.6L148.2 155.8M142.6 160.6L135.1 165M142.6 160.6L142.7 164.6M179.2 127.5L176.3 123.8M179.2 127.5L170.8 128.9M179.2 127.5L173.6 132.8M179.2 127.5L181.5 131.3M179.2 127.5L183.3 121.3M179.2 127.5L186.2 125.2M167.6 138.2L175.8 136.7M167.6 138.2L173.6 132.8M167.6 138.2L165 134.3M167.6 138.2L159.1 139.6M167.6 138.2L160.9 144.5M167.6 138.2L169.7 143M171.7 155.5L178.4 153.3M171.7 155.5L178.8 149.5M171.7 155.5L171.7 151.7M171.7 155.5L164.7 157.4M171.7 155.5L173.3 158.3M171.7 155.5L166.1 160.5M171.3 147.6L164.5 153.4M171.3 147.6L171.7 151.7M171.3 147.6L178.5 145.5M171.3 147.6L177.6 141.5M171.3 147.6L169.7 143M171.3 147.6L162.7 149.2M185.3 143.2L178.8 149.5M185.3 143.2L185.3 147.1M185.3 143.2L184.6 139.3M185.3 143.2L178.5 145.5M185.3 143.2L191.3 142M185.3 143.2L191.1 137.9M143 168.1L150.1 163.8M143 168.1L142.7 164.6M143 168.1L135.4 168.7M143 168.1L136 171.6M143 168.1L151.6 167M143 168.1L144.2 171.1M128.1 168.6L135.1 165M128.1 168.6L128.2 164.9M128.1 168.6L128.6 171.8M128.1 168.6L135.4 168.7M128.1 168.6L121.5 166.8M128.1 168.6L121.6 170.5M174.4 160.5L179.8 155.8M174.4 160.5L173.3 158.3M174.4 160.5L167.5 163.1M174.4 160.5L168.6 164.8M174.4 160.5L182.4 156.2M174.4 160.5L176.6 160.9M160.3 165.1L161.5 167.2M160.3 165.1L167.5 163.1M160.3 165.1L166.1 160.5M160.3 165.1L158.9 162.3M160.3 165.1L151.6 167M160.3 165.1L153 169.5M132.7 177.1L134.8 177.4M132.7 177.1L141.1 176.1M132.7 177.1L139 175.5M132.7 177.1L130.9 176.1M132.7 177.1L127.4 178M132.7 177.1L125.2 177.4M145.7 173.2L137.4 174.2M145.7 173.2L139 175.5M145.7 173.2L147.7 174M145.7 173.2L154.1 171.3M145.7 173.2L153 169.5M145.7 173.2L144.2 171.1M149.8 174.1L141.1 176.1M149.8 174.1L143.5 175.9M149.8 174.1L156.2 171.7M149.8 174.1L147.7 174M149.8 174.1L156.8 171.9M115.7 171.8L122.2 173.5M115.7 171.8L121.6 170.5M115.7 171.8L115.3 168.4M115.7 171.8L110 169.3M115.7 171.8L116.5 174.8M115.7 171.8L110.1 172.6M115.6 164.3L121.5 166.8M115.6 164.3L121.8 162.7M115.6 164.3L110.1 165.4M115.6 164.3L115.3 168.4M115.6 164.3L118.5 159.2M115.6 164.3L112.3 160.7M118.4 176.9L114 176.7M118.4 176.9L120.3 177.8M118.4 176.9L125.2 177.4M118.4 176.9L123.6 176.1M118.4 176.9L116.5 174.8M118.4 176.9L111.5 175.2M98.9 165.4L97.1 164.4M98.9 165.4L99.5 168.4M98.9 165.4L101.8 169.3M98.9 165.4L101.7 166M98.9 165.4L96.6 160.8M98.9 165.4L98.8 161.6M105.7 172.5L105 169.6M105.7 172.5L101.8 169.3M105.7 172.5L103.1 171.8M105.7 172.5L107.6 174.5M105.7 172.5L111.5 175.2M105.7 172.5L110.1 172.6M109.8 156.6L107.1 161.6M109.8 156.6L112.3 160.7M109.8 156.6L115.7 155.3M109.8 156.6L113.6 151.2M109.8 156.6L104.2 157.2M109.8 156.6L107.6 151.8M95.7 155.5L95.5 159.3M95.7 155.5L96.6 160.8M95.7 155.5L97.2 156.6M95.7 155.5L97 151.2M95.7 155.5L95.3 155.1M95.7 155.5L96 150.9M99.8 157.3L99 152.2M99.8 157.3L97.2 156.6M99.8 157.3L98.8 161.6M99.8 157.3L102 161.9M99.8 157.3L104.2 157.2M99.8 157.3L102.6 152.1M106.6 146.5L112 146.1M106.6 146.5L111.4 141.6M106.6 146.5L106.4 141.9M106.6 146.5L102.4 146.7M106.6 146.5L102.6 152.1M106.6 146.5L107.6 151.8M107.1 137.3L111.5 136.9M107.1 137.3L112.4 132.5M107.1 137.3L102.8 142M107.1 137.3L106.4 141.9M107.1 137.3L110.3 131.3M107.1 137.3L105.2 136.2M196.1 132.6L190.2 133.9M196.1 132.6L191.1 137.9M196.1 132.6L196.7 136.6M196.1 132.6L201 131.4M196.1 132.6L194.9 127.7M196.1 132.6L200.5 126.4M196.3 140.7L191.3 142M196.3 140.7L190.8 145.8M196.3 140.7L200.9 135.5M196.3 140.7L196.7 136.6M196.3 140.7L193.5 146.1M196.3 140.7L198.9 140.8M186.6 115.6L180 117.8M186.6 115.6L183.3 121.3M186.6 115.6L189.9 119.2M186.6 115.6L192.5 113.8M186.6 115.6L180.7 113.1M186.6 115.6L187.3 111M192.5 123.2L195.6 117.6M192.5 123.2L189.9 119.2M192.5 123.2L186.2 125.2M192.5 123.2L188.4 129.1M192.5 123.2L194.9 127.7M192.5 123.2L198.7 121.7M209 120.5L209.5 116.1M209 120.5L207.9 115.6M209 120.5L206.9 120.4M209 120.5L207.3 125.3M209 120.5L210.1 119.7M209 120.5L209.1 124.5M203.6 120.6L204.8 125.3M203.6 120.6L206.9 120.4M203.6 120.6L205 115.7M203.6 120.6L201.3 116.3M203.6 120.6L198.7 121.7M203.6 120.6L200.5 126.4M205.4 111.2L207.9 115.6M205.4 111.2L207.7 111.4M205.4 111.2L202 111.6M205.4 111.2L205 115.7M205.4 111.2L205.3 107.4M205.4 111.2L202.4 107.4M159.3 111.7L151.9 116.5M159.3 111.7L159.2 115.9M159.3 111.7L166.9 111.2M159.3 111.7L166.6 107.6M159.3 111.7L150.9 112.5M159.3 111.7L158.7 107.8M174.1 111.3L166.7 115.6M174.1 111.3L173.7 115.6M174.1 111.3L174.1 107.4M174.1 111.3L166.9 111.2M174.1 111.3L180.7 113.1M174.1 111.3L181 108.8M129 117.4L123.4 122.5M129 117.4L129.5 120.7M129 117.4L135.6 115.5M129 117.4L135.1 112.7M129 117.4L121.4 121.2M129 117.4L127.4 116.1M142.5 114L141.9 111M142.5 114L135.6 115.5M142.5 114L136.3 119M142.5 114L143.3 117.7M142.5 114L150.9 112.5M142.5 114L150.1 109M171.5 99.6L170 98.3M171.5 99.6L163.3 100.2M171.5 99.6L164.8 101.8M171.5 99.6L172.8 101.5M171.5 99.6L177.4 97.8M171.5 99.6L179 99.3M157.8 104.7L165.9 104M157.8 104.7L164.8 101.8M157.8 104.7L156.4 102.9M157.8 104.7L149.6 106.3M157.8 104.7L150.1 109M157.8 104.7L158.7 107.8M154.9 101.8L163.3 100.2M154.9 101.8L161.5 99.5M154.9 101.8L148.2 104.9M154.9 101.8L156.4 102.9M154.9 101.8L155.3 100.8M154.9 101.8L148.2 103.5M104.2 135.2L101.2 141M104.2 135.2L105.2 136.2M104.2 135.2L108.9 130.3M104.2 135.2L108.4 129.5M104.2 135.2L100.1 140.7M104.2 135.2L103.9 134.6M114.6 125.4L110.3 131.3M114.6 125.4L116.1 126.5M114.6 125.4L113.8 124.6M114.6 125.4L108.9 130.3M114.6 125.4L121.4 121.2M114.6 125.4L120.1 120.1M97.4 146L96 150.9M97.4 146L97.7 146.5M97.4 146L100.1 140.7M163.7 168.9L163.2 169.1M189.6 151.4L187.5 151.2M189.6 151.4L182.4 156.2M189.6 151.4L184.3 156.3M189.6 151.4L191 151.2M189.6 151.4L193.5 146.1M189.6 151.4L195.5 146.1M178.3 160.8L185.4 156.1M178.3 160.8L184.3 156.3M178.3 160.8L176.6 160.9M178.3 160.8L170.6 165M178.3 160.8L171.3 165.3M178.3 160.8L179 160.6M203.9 104.3L207 107.9M203.9 104.3L205.9 106.4M203.9 104.3L202.3 103M203.9 104.3L199.8 101.4M203.9 104.3L205.3 107.4M203.9 104.3L201.7 103.9M182.6 97L178 96.8M182.6 97L175.5 97M182.6 97L189.1 97.7M182.6 97L185.1 97M182.6 97L177.4 97.8M182.6 97L184.5 98M155.6 100.7L155.3 100.8M185.8 99.8L190.8 99.1M185.8 99.8L184.5 98M185.8 99.8L179 99.3M185.8 99.8L180.1 101.6M185.8 99.8L192.7 101.6M185.8 99.8L187.1 102.9M198.5 104.2L198.7 108M198.5 104.2L202.4 107.4M198.5 104.2L201.7 103.9M198.5 104.2L197.2 101.3M198.5 104.2L192.7 101.6M198.5 104.2L193.5 105.1M187.4 106.8L180.8 105.1M187.4 106.8L181 108.8M187.4 106.8L187.3 111M187.4 106.8L193 109.3M187.4 106.8L193.5 105.1M187.4 106.8L187.1 102.9M141.7 105.9L141.5 106.8M141.7 105.9L148.2 103.5M141.7 105.9L148.6 102.9M141.7 105.9L134.1 109.5M141.7 105.9L133.8 110.1M126.3 115.1L119.6 119.3M126.3 115.1L120.1 120.1M126.3 115.1L127.4 116.1M126.3 115.1L133.7 111.5M126.3 115.1L133.8 110.1M126.3 115.1L126.4 114.2M208 128.8L209.1 124.5M208 128.8L207 129.5M208 128.8L204.9 134.7M200.5 140.8L203.2 135.5M200.5 140.8L198.9 140.8M200.5 140.8L195.5 146.1M200.5 140.8L196.6 145.9M200.5 140.8L201.5 140.2M200.5 140.8L204.9 134.7M125.2 157.3L130.4 152.7M125.2 157.3L133.6 156.1M125.2 157.3L121.8 162.7M125.2 157.3L118.5 159.2M130.4 152.7L133.6 156.1M130.4 152.7L127.6 148.7M130.4 152.7L136.1 147.5M133.6 156.1L140.7 156.2M133.6 156.1L135.5 160.8M125.6 144.6L127.6 148.7M125.6 144.6L120 149.6M125.6 144.6L124 139.4M125.6 144.6L131.6 138.5M127.6 148.7L120 149.6M127.6 148.7L136.1 147.5M120 149.6L115.7 155.3M120 149.6L113.6 151.2M144.7 146.3L136.1 147.5M144.7 146.3L141.8 142.3M144.7 146.3L152.2 145.9M144.7 146.3L146.4 151.1M136.1 147.5L141.8 142.3M141.8 142.3L148.7 136.1M141.8 142.3L140.1 137.3M124.2 126L123.4 130.4M124.2 126L117.3 132.2M124.2 126L123.4 122.5M124.2 126L129.5 120.7M123.4 130.4L117.3 132.2M123.4 130.4L130.2 128.8M123.4 130.4L123.3 135M117.3 132.2L111.5 136.9M117.3 132.2L112.4 132.5M137.2 127.5L130.2 128.8M137.2 127.5L137.3 122.9M137.2 127.5L145.7 126.3M137.2 127.5L138.5 132.2M130.2 128.8L137.3 122.9M130.2 128.8L123.3 135M137.3 122.9L136.3 119M137.3 122.9L143.3 117.7M117.3 141L123.3 135M117.3 141L124 139.4M117.3 141L112 146.1M117.3 141L111.4 141.6M123.3 135L124 139.4M124 139.4L131.6 138.5M167.6 125.3L160.6 125.3M167.6 125.3L166 120.3M167.6 125.3L176.3 123.8M167.6 125.3L170.8 128.9M160.6 125.3L166 120.3M160.6 125.3L154.6 130.7M160.6 125.3L153 125.7M166 120.3L166.7 115.6M166 120.3L173.7 115.6M148.7 136.1L154.6 130.7M148.7 136.1L156.3 135.7M148.7 136.1L140.1 137.3M154.6 130.7L156.3 135.7M154.6 130.7L153 125.7M156.3 135.7L165 134.3M156.3 135.7L159.1 139.6M151.6 121L153 125.7M151.6 121L145.7 126.3M151.6 121L151.9 116.5M151.6 121L159.2 115.9M153 125.7L145.7 126.3M145.7 126.3L138.5 132.2M131.6 138.5L138.5 132.2M131.6 138.5L140.1 137.3M138.5 132.2L140.1 137.3M140.7 156.2L135.5 160.8M140.7 156.2L146.4 151.1M140.7 156.2L148.2 155.8M135.5 160.8L135.1 165M135.5 160.8L128.2 164.9M152.2 145.9L146.4 151.1M152.2 145.9L159.1 139.6M152.2 145.9L160.9 144.5M146.4 151.1L148.2 155.8M149.9 160L148.2 155.8M149.9 160L155.7 155M149.9 160L150.1 163.8M149.9 160L142.7 164.6M148.2 155.8L155.7 155M155.7 155L164.5 153.4M155.7 155L162.7 149.2M176.3 123.8L170.8 128.9M176.3 123.8L180 117.8M176.3 123.8L183.3 121.3M170.8 128.9L173.6 132.8M170.8 128.9L165 134.3M175.8 136.7L173.6 132.8M175.8 136.7L181.5 131.3M175.8 136.7L177.6 141.5M175.8 136.7L169.7 143M173.6 132.8L181.5 131.3M173.6 132.8L165 134.3M181.5 131.3L186.2 125.2M181.5 131.3L188.4 129.1M165 134.3L159.1 139.6M159.1 139.6L160.9 144.5M178.4 153.3L178.8 149.5M178.4 153.3L185.3 147.1M178.4 153.3L179.8 155.8M178.4 153.3L173.3 158.3M178.8 149.5L185.3 147.1M178.8 149.5L171.7 151.7M178.8 149.5L178.5 145.5M185.3 147.1L191.3 142M185.3 147.1L190.8 145.8M164.5 153.4L171.7 151.7M164.5 153.4L164.7 157.4M164.5 153.4L162.7 149.2M171.7 151.7L164.7 157.4M171.7 151.7L178.5 145.5M164.7 157.4L166.1 160.5M164.7 157.4L158.9 162.3M184.6 139.3L178.5 145.5M184.6 139.3L177.6 141.5M184.6 139.3L190.2 133.9M184.6 139.3L191.1 137.9M178.5 145.5L177.6 141.5M177.6 141.5L169.7 143M160.9 144.5L169.7 143M160.9 144.5L162.7 149.2M169.7 143L162.7 149.2M135.1 165L128.2 164.9M135.1 165L142.7 164.6M135.1 165L135.4 168.7M128.2 164.9L121.5 166.8M128.2 164.9L121.8 162.7M150.1 163.8L142.7 164.6M150.1 163.8L158.9 162.3M150.1 163.8L151.6 167M142.7 164.6L135.4 168.7M128.6 171.8L135.4 168.7M128.6 171.8L136 171.6M128.6 171.8L122.2 173.5M128.6 171.8L121.6 170.5M135.4 168.7L136 171.6M136 171.6L137.4 174.2M136 171.6L144.2 171.1M179.8 155.8L173.3 158.3M179.8 155.8L187.5 151.2M179.8 155.8L182.4 156.2M173.3 158.3L167.5 163.1M173.3 158.3L166.1 160.5M161.5 167.2L167.5 163.1M161.5 167.2L168.6 164.8M161.5 167.2L154.1 171.3M161.5 167.2L153 169.5M167.5 163.1L168.6 164.8M167.5 163.1L166.1 160.5M168.6 164.8L176.6 160.9M168.6 164.8L170.6 165M166.1 160.5L158.9 162.3M158.9 162.3L151.6 167M134.8 177.4L141.1 176.1M134.8 177.4L143.5 175.9M134.8 177.4L127.4 178M141.1 176.1L143.5 175.9M141.1 176.1L139 175.5M141.1 176.1L147.7 174M137.4 174.2L139 175.5M137.4 174.2L130.9 176.1M137.4 174.2L144.2 171.1M139 175.5L130.9 176.1M139 175.5L147.7 174M130.9 176.1L125.2 177.4M130.9 176.1L123.6 176.1M156.2 171.7L147.7 174M156.2 171.7L154.1 171.3M156.2 171.7L163.2 169.1M156.2 171.7L156.8 171.9M147.7 174L154.1 171.3M154.1 171.3L153 169.5M151.6 167L153 169.5M151.6 167L144.2 171.1M153 169.5L144.2 171.1M121.5 166.8L121.8 162.7M121.5 166.8L121.6 170.5M121.5 166.8L115.3 168.4M121.8 162.7L118.5 159.2M122.2 173.5L121.6 170.5M122.2 173.5L123.6 176.1M122.2 173.5L116.5 174.8M121.6 170.5L115.3 168.4M110.1 165.4L115.3 168.4M110.1 165.4L110 169.3M110.1 165.4L107.1 161.6M110.1 165.4L112.3 160.7M115.3 168.4L110 169.3M110 169.3L105 169.6M110 169.3L110.1 172.6M127.4 178L120.3 177.8M127.4 178L125.2 177.4M114 176.7L120.3 177.8M114 176.7L107.6 174.5M114 176.7L111.5 175.2M120.3 177.8L125.2 177.4M125.2 177.4L123.6 176.1M123.6 176.1L116.5 174.8M97.1 164.4L99.5 168.4M97.1 164.4L98.4 166.9M97.1 164.4L95.5 159.3M97.1 164.4L96.6 160.8M99.5 168.4L98.4 166.9M99.5 168.4L101.8 169.3M99.5 168.4L103.1 171.8M105 169.6L101.8 169.3M105 169.6L101.7 166M105 169.6L110.1 172.6M101.8 169.3L101.7 166M101.8 169.3L103.1 171.8M101.7 166L98.8 161.6M101.7 166L102 161.9M103.1 171.8L107.6 174.5M107.6 174.5L111.5 175.2M116.5 174.8L111.5 175.2M116.5 174.8L110.1 172.6M111.5 175.2L110.1 172.6M118.5 159.2L112.3 160.7M118.5 159.2L115.7 155.3M107.1 161.6L112.3 160.7M107.1 161.6L102 161.9M107.1 161.6L104.2 157.2M112.3 160.7L115.7 155.3M115.7 155.3L113.6 151.2M113.6 151.2L112 146.1M113.6 151.2L107.6 151.8M95.5 159.3L96.6 160.8M96.6 160.8L97.2 156.6M96.6 160.8L98.8 161.6M99 152.2L97.2 156.6M99 152.2L97 151.2M99 152.2L102.4 146.7M99 152.2L102.6 152.1M97.2 156.6L97 151.2M97.2 156.6L98.8 161.6M97 151.2L96 150.9M97 151.2L97.7 146.5M98.8 161.6L102 161.9M102 161.9L104.2 157.2M111.5 136.9L112.4 132.5M111.5 136.9L111.4 141.6M111.5 136.9L106.4 141.9M112.4 132.5L110.3 131.3M112.4 132.5L116.1 126.5M112 146.1L111.4 141.6M112 146.1L107.6 151.8M111.4 141.6L106.4 141.9M102.8 142L106.4 141.9M102.8 142L102.4 146.7M102.8 142L101.2 141M102.8 142L105.2 136.2M106.4 141.9L102.4 146.7M102.4 146.7L102.6 152.1M104.2 157.2L102.6 152.1M104.2 157.2L107.6 151.8M102.6 152.1L107.6 151.8M191.3 142L190.8 145.8M191.3 142L191.1 137.9M191.3 142L196.7 136.6M190.8 145.8L187.5 151.2M190.8 145.8L193.5 146.1M190.2 133.9L191.1 137.9M190.2 133.9L188.4 129.1M190.2 133.9L194.9 127.7M191.1 137.9L196.7 136.6M200.9 135.5L196.7 136.6M200.9 135.5L201 131.4M200.9 135.5L203.2 135.5M200.9 135.5L198.9 140.8M196.7 136.6L201 131.4M201 131.4L204.8 125.3M201 131.4L200.5 126.4M180 117.8L183.3 121.3M180 117.8L173.7 115.6M180 117.8L180.7 113.1M183.3 121.3L189.9 119.2M183.3 121.3L186.2 125.2M195.6 117.6L189.9 119.2M195.6 117.6L192.5 113.8M195.6 117.6L201.3 116.3M195.6 117.6L198.7 121.7M189.9 119.2L192.5 113.8M189.9 119.2L186.2 125.2M192.5 113.8L187.3 111M192.5 113.8L193 109.3M186.2 125.2L188.4 129.1M188.4 129.1L194.9 127.7M209.5 116.1L207.9 115.6M209.5 116.1L207.7 111.4M209.5 116.1L209.9 115.5M209.5 116.1L210.1 119.7M207.9 115.6L207.7 111.4M207.9 115.6L206.9 120.4M207.9 115.6L205 115.7M207.7 111.4L207 107.9M207.7 111.4L205.3 107.4M204.8 125.3L206.9 120.4M204.8 125.3L207.3 125.3M204.8 125.3L200.5 126.4M206.9 120.4L207.3 125.3M206.9 120.4L205 115.7M207.3 125.3L209.1 124.5M207.3 125.3L207 129.5M202 111.6L205 115.7M202 111.6L201.3 116.3M202 111.6L198.7 108M202 111.6L202.4 107.4M205 115.7L201.3 116.3M201.3 116.3L198.7 121.7M194.9 127.7L198.7 121.7M194.9 127.7L200.5 126.4M198.7 121.7L200.5 126.4M166.7 115.6L173.7 115.6M166.7 115.6L159.2 115.9M166.7 115.6L166.9 111.2M173.7 115.6L180.7 113.1M151.9 116.5L159.2 115.9M151.9 116.5L143.3 117.7M151.9 116.5L150.9 112.5M159.2 115.9L166.9 111.2M174.1 107.4L166.9 111.2M174.1 107.4L166.6 107.6M174.1 107.4L180.8 105.1M174.1 107.4L181 108.8M166.9 111.2L166.6 107.6M166.6 107.6L165.9 104M166.6 107.6L158.7 107.8M123.4 122.5L129.5 120.7M123.4 122.5L116.1 126.5M123.4 122.5L121.4 121.2M129.5 120.7L135.6 115.5M129.5 120.7L136.3 119M141.9 111L135.6 115.5M141.9 111L135.1 112.7M141.9 111L149.6 106.3M141.9 111L150.1 109M135.6 115.5L135.1 112.7M135.6 115.5L136.3 119M135.1 112.7L127.4 116.1M135.1 112.7L133.7 111.5M136.3 119L143.3 117.7M143.3 117.7L150.9 112.5M170 98.3L163.3 100.2M170 98.3L161.5 99.5M170 98.3L175.5 97M170 98.3L177.4 97.8M163.3 100.2L161.5 99.5M163.3 100.2L164.8 101.8M163.3 100.2L156.4 102.9M161.5 99.5L161.9 98.9M161.5 99.5L155.3 100.8M165.9 104L164.8 101.8M165.9 104L172.8 101.5M165.9 104L158.7 107.8M164.8 101.8L172.8 101.5M164.8 101.8L156.4 102.9M172.8 101.5L179 99.3M172.8 101.5L180.1 101.6M148.2 104.9L156.4 102.9M148.2 104.9L149.6 106.3M148.2 104.9L141.5 106.8M148.2 104.9L148.2 103.5M156.4 102.9L149.6 106.3M149.6 106.3L150.1 109M150.9 112.5L150.1 109M150.9 112.5L158.7 107.8M150.1 109L158.7 107.8M110.3 131.3L116.1 126.5M110.3 131.3L105.2 136.2M110.3 131.3L108.9 130.3M116.1 126.5L121.4 121.2M101.2 141L105.2 136.2M101.2 141L97.7 146.5M101.2 141L100.1 140.7M105.2 136.2L108.9 130.3M113.8 124.6L108.9 130.3M113.8 124.6L108.4 129.5M113.8 124.6L119.6 119.3M113.8 124.6L120.1 120.1M108.9 130.3L108.4 129.5M108.4 129.5L108.8 128.9M108.4 129.5L103.9 134.6M95.3 155.1L96 150.9M96 150.9L97.7 146.5M97.7 146.5L100.1 140.7M100.1 140.7L103.9 134.6M163.2 169.1L156.8 171.9M163.2 169.1L170.6 165M163.2 169.1L171.3 165.3M187.5 151.2L182.4 156.2M187.5 151.2L193.5 146.1M182.4 156.2L184.3 156.3M182.4 156.2L176.6 160.9M185.4 156.1L184.3 156.3M185.4 156.1L191 151.2M184.3 156.3L191 151.2M184.3 156.3L176.6 160.9M191 151.2L195.5 146.1M191 151.2L196.6 145.9M176.6 160.9L170.6 165M170.6 165L171.3 165.3M207 107.9L205.3 107.4M197.8 100.3L199.8 101.4M202.3 103L199.8 101.4M199.8 101.4L201.7 103.9M199.8 101.4L197.2 101.3M170.6 97.4L175.5 97M178 96.8L175.5 97M175.5 97L177.4 97.8M189.1 97.7L185.1 97M189.1 97.7L191.4 98.1M189.1 97.7L190.8 99.1M189.1 97.7L184.5 98M161.9 98.9L155.3 100.8M209.9 115.5L210.1 119.7M177.4 97.8L184.5 98M177.4 97.8L179 99.3M190.8 99.1L184.5 98M190.8 99.1L197.2 101.3M190.8 99.1L192.7 101.6M184.5 98L179 99.3M179 99.3L180.1 101.6M180.1 101.6L180.8 105.1M180.1 101.6L187.1 102.9M205.3 107.4L202.4 107.4M205.3 107.4L201.7 103.9M198.7 108L202.4 107.4M198.7 108L193 109.3M198.7 108L193.5 105.1M202.4 107.4L201.7 103.9M201.7 103.9L197.2 101.3M197.2 101.3L192.7 101.6M180.7 113.1L181 108.8M180.7 113.1L187.3 111M180.8 105.1L181 108.8M180.8 105.1L187.1 102.9M181 108.8L187.3 111M187.3 111L193 109.3M193 109.3L193.5 105.1M192.7 101.6L193.5 105.1M192.7 101.6L187.1 102.9M193.5 105.1L187.1 102.9M120 118.7L119.6 119.3M120 118.7L126.4 114.2M155.3 100.8L148.2 103.5M155.3 100.8L148.6 102.9M141.5 106.8L148.2 103.5M141.5 106.8L133.7 111.5M141.5 106.8L133.8 110.1M148.2 103.5L148.6 102.9M121.4 121.2L120.1 120.1M121.4 121.2L127.4 116.1M119.6 119.3L120.1 120.1M119.6 119.3L126.4 114.2M120.1 120.1L127.4 116.1M127.4 116.1L133.7 111.5M133.7 111.5L133.8 110.1M134.1 109.5L133.8 110.1M134.1 109.5L126.4 114.2M133.8 110.1L126.4 114.2M210.1 119.7L209.1 124.5M209.4 123.9L209.1 124.5M209.1 124.5L207 129.5M207 129.5L203.2 135.5M207 129.5L204.9 134.7M193.5 146.1L198.9 140.8M193.5 146.1L195.5 146.1M203.2 135.5L198.9 140.8M203.2 135.5L204.9 134.7M198.9 140.8L195.5 146.1M195.5 146.1L196.6 145.9M196.6 145.9L201.5 140.2M205.3 134.1L204.9 134.7M201.5 140.2L204.9 134.7" stroke="#9236a6" stroke-width="0.65" stroke-opacity="0.6" fill="none"/><circle cx="353.8" cy="117.1" r="9.5" fill="url(#sB)"/><circle cx="387.5" cy="120" r="9" fill="url(#sB)"/><circle cx="414.9" cy="68.6" r="8.3" fill="url(#sB)"/><circle cx="420.9" cy="143" r="9" fill="url(#sB)"/><circle cx="314.9" cy="197.5" r="9.5" fill="url(#sB)"/><circle cx="333.3" cy="261.5" r="9" fill="url(#sB)"/><circle cx="224.5" cy="302" r="10" fill="url(#sB)"/><circle cx="330.3" cy="340" r="9.5" fill="url(#sB)"/><circle cx="337" cy="357.7" r="9" fill="url(#sB)"/><circle cx="227" cy="367" r="10" fill="url(#sB)"/><circle cx="238" cy="365.5" r="10" fill="url(#sB)"/><circle cx="289.8" cy="154.2" r="9.8" fill="url(#sb)"/><circle cx="324.5" cy="150.9" r="9.8" fill="url(#sb)"/><circle cx="336.6" cy="172.7" r="9.8" fill="url(#sb)"/><circle cx="318.6" cy="177.9" r="9.8" fill="url(#sb)"/><circle cx="339" cy="203.3" r="9.8" fill="url(#sb)"/><circle cx="385.5" cy="107.4" r="10" fill="url(#sb)"/><circle cx="408" cy="113.4" r="10" fill="url(#sb)"/><circle cx="378.2" cy="141.8" r="10" fill="url(#sb)"/><circle cx="410.1" cy="155" r="10" fill="url(#sb)"/><circle cx="450.7" cy="161" r="10" fill="url(#sb)"/><circle cx="376.4" cy="165" r="10" fill="url(#sb)"/><circle cx="414.9" cy="174.2" r="10" fill="url(#sb)"/><circle cx="429.2" cy="171.8" r="10" fill="url(#sb)"/><circle cx="413.7" cy="190.9" r="10" fill="url(#sb)"/><circle cx="381.2" cy="190.2" r="10" fill="url(#sb)"/><circle cx="368" cy="204" r="10" fill="url(#sb)"/><circle cx="381.6" cy="209" r="10" fill="url(#sb)"/><circle cx="353.5" cy="215.8" r="10" fill="url(#sb)"/><circle cx="355.7" cy="229.5" r="10" fill="url(#sb)"/><circle cx="341.3" cy="246" r="10" fill="url(#sb)"/><circle cx="352.8" cy="258.3" r="10" fill="url(#sb)"/><circle cx="279.6" cy="228.5" r="10" fill="url(#sb)"/><circle cx="270" cy="237.5" r="10" fill="url(#sb)"/><circle cx="290.3" cy="257.3" r="10" fill="url(#sb)"/><circle cx="317.2" cy="267.4" r="10" fill="url(#sb)"/><circle cx="309.4" cy="272.5" r="10" fill="url(#sb)"/><circle cx="345.5" cy="288" r="10" fill="url(#sb)"/><circle cx="232.2" cy="325.8" r="10" fill="url(#sb)"/><circle cx="305.2" cy="338.8" r="10" fill="url(#sb)"/><circle cx="334" cy="353" r="10" fill="url(#sB)"/><circle cx="318.3" cy="364.3" r="10" fill="url(#sB)"/><circle cx="146" cy="298.2" r="10.6" fill="url(#sb)"/><circle cx="193.2" cy="392.5" r="10.5" fill="url(#sb)"/><path d="M250.7 356.5L251.6 339.8M250.7 356.5L264.3 343.7M250.7 356.5L259.3 363.8M250.7 356.5L243.4 372.1M250.7 356.5L238.7 357.3M347.4 344L333.5 354.2M347.4 344L353.4 332.2M347.4 344L332.5 360.6M347.4 344L364.8 325.1M347.4 344L351.9 342.7M422.9 72L423 81.6M422.9 72L410.3 77.6M422.9 72L428.7 66.1M422.9 72L434.4 74.5M422.9 72L413.8 68.1M380 214.2L363.5 234.6M380 214.2L370.7 208.7M380 214.2L378.5 232.7M380 214.2L394.9 205.5M380 214.2L390.1 190.7M453.8 168.2L446.5 190.2M453.8 168.2L451.5 170.2M453.8 168.2L458.1 148.3M213.6 302.2L210.2 315.7M213.6 302.2L217.4 289.7M297.3 188.4L307.3 188.9M297.3 188.4L287.4 210.8M297.3 188.4L281.7 202.4M297.3 188.4L313.9 166.9M297.3 188.4L298.1 175.3M263.5 279L273.7 284.7M263.5 279L258.1 300.6M263.5 279L270.3 256.5M263.5 279L281 258.4M263.5 279L247.7 298.5M263.5 279L255 272.2M339.5 195.4L319.5 216.1M339.5 195.4L328.6 192.4M339.5 195.4L350.3 199.1M339.5 195.4L332.4 220.1M339.5 195.4L359.4 175.6M339.5 195.4L346.5 171.6M312.1 294.2L295.3 312.3M312.1 294.2L298.3 292.4M312.1 294.2L318.6 270.2M312.1 294.2L329.3 274.9M312.1 294.2L306.2 316.7M312.1 294.2L326.4 294.5M368.9 286.8L355.2 290.8M368.9 286.8L372.9 269.3M368.9 286.8L364.3 303.4M368.9 286.8L350.1 311.1M368.9 286.8L381.8 281.6M368.9 286.8L386.9 261.3M292.9 370.4L280.6 370.8M292.9 370.4L296.4 355.4M292.9 370.4L311.6 353.4M292.9 370.4L306 367.5M292.9 370.4L275.3 384.2M292.9 370.4L290.4 382.2M289.3 395.1L288.6 394.7M232.5 402.4L234.2 395.3M232.5 402.4L244.7 400.3M232.5 402.4L243.7 406.9M232.5 402.4L232.6 406.3M232.5 402.4L223.7 393.8M232.5 402.4L222.8 400.4M214.3 345.9L220.3 352M214.3 345.9L214.5 365.2M214.3 345.9L208.7 356.7M214.3 345.9L210.6 337.7M214.3 345.9L222.8 332.4M214.3 345.9L217 323.9M241.7 247.1L230.9 273.8M241.7 247.1L231.6 261.9M241.7 247.1L253.6 232M241.7 247.1L244 256M241.7 247.1L254.8 220M241.7 247.1L241.7 237.8M431.5 183.5L418.6 209M431.5 183.5L420.9 190M431.5 183.5L440.2 177.9M431.5 183.5L430.2 201.8M431.5 183.5L442 159.2M431.5 183.5L430.4 166.4M412.3 259.8L397.6 282.6M412.3 259.8L403.8 267.9M412.3 259.8L420.4 240.4M412.3 259.8L425.5 236.5M412.3 259.8L418.9 251M412.3 259.8L402.2 278.5M364.7 111.8L359.2 129.3M364.7 111.8L348 128.2M364.7 111.8L380.9 97.7M364.7 111.8L378.9 111.1M364.7 111.8L369.5 97.3M364.7 111.8L349.8 115.5M413.3 127L406.9 146.7M413.3 127L396.7 141M413.3 127L403.5 118.8M413.3 127L418.2 109.3M413.3 127L427.9 115.6M413.3 127L421.2 137.8M304.3 143.7L301.6 152.8M304.3 143.7L286.5 167.7M304.3 143.7L290.1 158M304.3 143.7L307.6 136.5M304.3 143.7L322.8 122M304.3 143.7L319.2 131.7M456.7 99.9L460.5 101.2M456.7 99.9L459.6 113.8M456.7 99.9L451.5 88.6M456.7 99.9L455.6 86.2M456.7 99.9L449.9 101.9M456.7 99.9L454.7 116.9M378.1 75.3L394.9 67.2M378.1 75.3L391.2 69.7M378.1 75.3L364.2 84M378.1 75.3L360.2 87.4M378.1 75.3L376.2 78.9M254 321L251.6 339.8M254 321L265.8 326.1M254 321L269.1 305.8M254 321L258.1 300.6M254 321L240 339.8M254 321L243.1 319.6M285.4 289.2L273.7 284.7M285.4 289.2L269.1 305.8M285.4 289.2L281.8 309.8M285.4 289.2L298.3 292.4M285.4 289.2L292.1 263.6M285.4 289.2L305 267.7M279.3 328.9L265.8 326.1M279.3 328.9L264.3 343.7M279.3 328.9L295.3 312.3M279.3 328.9L281.8 309.8M279.3 328.9L273.5 350.2M279.3 328.9L289.6 334.1M317.8 190.2L307.3 188.9M317.8 190.2L297.6 211.6M317.8 190.2L308.6 213.5M317.8 190.2L328.6 192.4M317.8 190.2L324.2 167.6M317.8 190.2L335.5 169.1M299.9 237.3L319.5 216.1M299.9 237.3L308.6 213.5M299.9 237.3L288.6 235.5M299.9 237.3L281 258.4M299.9 237.3L292.1 263.6M299.9 237.3L312.3 241.4M278.3 233.6L297.6 211.6M278.3 233.6L287.4 210.8M278.3 233.6L270.3 256.5M278.3 233.6L288.6 235.5M278.3 233.6L271.8 225.2M278.3 233.6L262.6 249.2M346.5 255L363.5 234.6M346.5 255L353.9 229.2M346.5 255L336 250.3M346.5 255L329.3 274.9M346.5 255L361.7 253.3M346.5 255L343.8 274.6M325.4 245.3L318.6 270.2M325.4 245.3L336 250.3M325.4 245.3L343.2 224.3M325.4 245.3L332.4 220.1M325.4 245.3L312.3 241.4M325.4 245.3L305 267.7M360.8 203.6L353.9 229.2M360.8 203.6L370.7 208.7M360.8 203.6L350.3 199.1M360.8 203.6L343.2 224.3M360.8 203.6L380.6 185.2M360.8 203.6L370.1 179.9M300.9 337.3L306.2 316.7M300.9 337.3L289.6 334.1M300.9 337.3L284.6 354.1M300.9 337.3L296.4 355.4M300.9 337.3L320.7 316.4M300.9 337.3L315.6 336.7M269.3 368.5L273.5 350.2M269.3 368.5L259.3 363.8M269.3 368.5L280.6 370.8M269.3 368.5L284.6 354.1M269.3 368.5L252.6 378.7M269.3 368.5L263.5 382.9M376.1 251.1L378.5 232.7M376.1 251.1L361.7 253.3M376.1 251.1L358.7 272.6M376.1 251.1L372.9 269.3M376.1 251.1L393.1 224.1M376.1 251.1L390.4 243.2M340.9 293.3L355.2 290.8M340.9 293.3L358.7 272.6M340.9 293.3L343.8 274.6M340.9 293.3L326.4 294.5M340.9 293.3L320.7 316.4M340.9 293.3L335.8 314.4M319.6 362.1L333.5 354.2M319.6 362.1L339.4 341.7M319.6 362.1L325.1 348.9M319.6 362.1L306 367.5M319.6 362.1L318.5 370.2M319.6 362.1L304 377.7M330.8 333.4L311.6 353.4M330.8 333.4L325.1 348.9M330.8 333.4L345.1 327M330.8 333.4L350.1 311.1M330.8 333.4L335.8 314.4M330.8 333.4L315.6 336.7M359.1 318.6L339.4 341.7M359.1 318.6L353.4 332.2M359.1 318.6L364.3 303.4M359.1 318.6L345.1 327M359.1 318.6L370.9 312.6M359.1 318.6L376.8 297.6M259 394.2L275.3 384.2M259 394.2L263.5 382.9M259 394.2L247.6 391.3M259 394.2L244.7 400.3M259 394.2L273.2 394.4M259 394.2L257.1 402.9M237.9 385.2L252.6 378.7M237.9 385.2L243.4 372.1M237.9 385.2L234.2 395.3M237.9 385.2L247.6 391.3M237.9 385.2L231.9 372.3M237.9 385.2L226.7 384.8M317.7 374.8L332.5 360.6M317.7 374.8L318.5 370.2M317.7 374.8L303 384.1M317.7 374.8L303.2 386.4M317.7 374.8L336.9 358.7M317.7 374.8L321.6 372.5M288.9 390.3L288.6 394.7M288.9 390.3L303 384.1M288.9 390.3L304 377.7M288.9 390.3L290.4 382.2M288.9 390.3L273.2 394.4M288.9 390.3L272.2 401M257.1 407.2L243.7 406.9M257.1 407.2L245 408.8M257.1 407.2L260 406.9M257.1 407.2L272.5 403.2M257.1 407.2L272.2 401M257.1 407.2L257.1 402.9M217.7 381.3L223.7 393.8M217.7 381.3L226.7 384.8M217.7 381.3L221.9 369.9M217.7 381.3L214.5 365.2M217.7 381.3L215.2 389.8M217.7 381.3L210.3 374.8M228.5 355.8L231.9 372.3M228.5 355.8L238.7 357.3M228.5 355.8L220.3 352M228.5 355.8L221.9 369.9M228.5 355.8L240 339.8M228.5 355.8L230.2 337.1M215.8 394.2L222.8 400.4M215.8 394.2L215.2 389.8M215.8 394.2L209.4 381.3M209.2 327.6L210.2 315.7M209.2 327.6L206.6 335.3M209.2 327.6L206.4 347.2M209.2 327.6L210.6 337.7M209.2 327.6L214.8 302.8M209.2 327.6L214.7 314.4M206.3 364.5L208.7 356.7M206.3 364.5L206.4 347.2M206.3 364.5L205.5 353.7M206.3 364.5L209.4 381.3M206.3 364.5L210.3 374.8M234 316.4L222.8 332.4M234 316.4L230.2 337.1M234 316.4L243.1 319.6M234 316.4L247.7 298.5M234 316.4L226.9 309M234 316.4L240 291.2M223.5 276.2L217.4 289.7M223.5 276.2L214.8 302.8M223.5 276.2L221.9 288.5M223.5 276.2L231.6 261.9M223.5 276.2L225.5 267.2M223.5 276.2L232.7 252.6M222.6 299.6L230.9 273.8M222.6 299.6L221.9 288.5M222.6 299.6L214.7 314.4M222.6 299.6L217 323.9M222.6 299.6L226.9 309M222.6 299.6L234.2 282.7M248.4 264.5L255 272.2M248.4 264.5L262.6 249.2M248.4 264.5L256.9 240.8M248.4 264.5L244 256M248.4 264.5L234.2 282.7M248.4 264.5L240 291.2M267 217.1L271.8 225.2M267 217.1L281.7 202.4M267 217.1L253.6 232M267 217.1L256.9 240.8M267 217.1L282.6 189.6M267 217.1L267.8 204.9M393.5 275.3L381.8 281.6M393.5 275.3L376.8 297.6M393.5 275.3L388.2 290.5M393.5 275.3L403.8 267.9M393.5 275.3L399.5 255.5M393.5 275.3L411 248.3M381.7 304.5L370.9 312.6M381.7 304.5L364.8 325.1M381.7 304.5L397.6 282.6M381.7 304.5L388.2 290.5M381.7 304.5L369.3 323M381.7 304.5L386.6 301M408.6 197.4L394.9 205.5M408.6 197.4L393.1 224.1M408.6 197.4L406.9 216.1M408.6 197.4L420.9 190M408.6 197.4L404.8 182M408.6 197.4L418.6 173.6M403.6 235.2L418.6 209M403.6 235.2L406.9 216.1M403.6 235.2L390.4 243.2M403.6 235.2L386.9 261.3M403.6 235.2L399.5 255.5M403.6 235.2L416.1 227.9M437 213.1L446.5 190.2M437 213.1L443.4 192.8M437 213.1L432.7 216.8M437 213.1L425.5 236.5M437 213.1L441.9 203.2M437 213.1L431.2 227.4M426.4 220.9L420.4 240.4M426.4 220.9L432.7 216.8M426.4 220.9L437.8 196.8M426.4 220.9L430.2 201.8M426.4 220.9L416.1 227.9M426.4 220.9L411 248.3M447 173.5L443.4 192.8M447 173.5L451.5 170.2M447 173.5L440.2 177.9M447 173.5L437.8 196.8M447 173.5L455.1 150.7M447 173.5L449.6 154.4M378.6 157.4L359.4 175.6M378.6 157.4L370.1 179.9M378.6 157.4L389.5 162M378.6 157.4L396.7 141M378.6 157.4L366.3 152.3M378.6 157.4L385.9 134M399.1 168L380.6 185.2M399.1 168L390.1 190.7M399.1 168L406.9 146.7M399.1 168L389.5 162M399.1 168L404.8 182M399.1 168L413.9 158.8M330.9 146.7L313.9 166.9M330.9 146.7L324.2 167.6M330.9 146.7L342.1 147.2M330.9 146.7L348 128.2M330.9 146.7L315 154M330.9 146.7L332.7 133.4M353.1 149.4L359.2 129.3M353.1 149.4L342.1 147.2M353.1 149.4L335.5 169.1M353.1 149.4L346.5 171.6M353.1 149.4L366.3 152.3M353.1 149.4L373 130M421.4 94.1L423 81.6M421.4 94.1L409.8 88.3M421.4 94.1L407.4 102.4M421.4 94.1L418.2 109.3M421.4 94.1L434 85.1M421.4 94.1L431.8 99.3M391.9 113.4L403.5 118.8M391.9 113.4L407.4 102.4M391.9 113.4L394.7 98.4M391.9 113.4L378.9 111.1M391.9 113.4L373 130M391.9 113.4L385.9 134M396.2 86.2L409.8 88.3M396.2 86.2L410.3 77.6M396.2 86.2L380.9 97.7M396.2 86.2L394.7 98.4M396.2 86.2L400.5 74.7M396.2 86.2L385.3 84.7M269.9 193.4L254.8 220M269.9 193.4L267.8 204.9M269.9 193.4L284.2 177.8M269.9 193.4L286.5 167.7M269.9 193.4L255.9 210.6M269.9 193.4L272.6 183.1M299.5 163.3L282.6 189.6M299.5 163.3L298.1 175.3M299.5 163.3L301.6 152.8M299.5 163.3L284.2 177.8M299.5 163.3L315 154M299.5 163.3L316.9 141.8M244 228.5L248.5 219.4M244 228.5L236.2 243M244 228.5L232.7 252.6M244 228.5L241.7 237.8M244 228.5L255.9 210.6M244 228.5L259.5 200.9M311.3 131.1L293.7 151.8M311.3 131.1L307.6 136.5M311.3 131.1L326.4 115.9M276.9 174.2L290.1 158M276.9 174.2L293.7 151.8M276.9 174.2L259.5 200.9M276.9 174.2L272.6 183.1M356.1 339.3L351.9 342.7M356.1 339.3L336.9 358.7M356.1 339.3L369.3 323M460.1 130L458.1 148.3M460.1 130L460.8 135.1M460.1 130L461.9 116.7M460.1 130L459.6 113.8M460.1 130L455.1 150.7M460.1 130L456.2 132.4M461.1 105.9L460.5 101.2M432.7 63.5L428.7 66.1M432.7 63.5L439.7 69.6M432.7 63.5L443.2 68.1M432.7 63.5L434.8 64.1M432.7 63.5L419 63.1M432.7 63.5L422.4 61.6M451.6 76.2L443.2 68.1M451.6 76.2L449 76.5M451.6 76.2L455.6 86.2M444 80.1L439.7 69.6M444 80.1L434.4 74.5M444 80.1L451.5 88.6M444 80.1L449 76.5M444 80.1L434 85.1M444 80.1L443.2 92.1M403.1 67.3L413.8 68.1M403.1 67.3L419 63.1M403.1 67.3L407.4 63.5M403.1 67.3L391.2 69.7M403.1 67.3L400.5 74.7M403.1 67.3L388.8 75.1M440.2 107.2L449.9 101.9M440.2 107.2L443.2 92.1M440.2 107.2L431.8 99.3M440.2 107.2L427.9 115.6M440.2 107.2L446.5 120.5M440.2 107.2L434.9 127.7M449.8 136.9L442 159.2M449.8 136.9L449.6 154.4M449.8 136.9L456.2 132.4M449.8 136.9L454.7 116.9M449.8 136.9L446.5 120.5M449.8 136.9L439.8 142.8M427 151.1L421.2 137.8M427 151.1L413.9 158.8M427 151.1L418.6 173.6M427 151.1L430.4 166.4M427 151.1L439.8 142.8M427 151.1L434.9 127.7M341.6 103.1L360.2 87.4M341.6 103.1L345.8 97.9M341.6 103.1L326.4 115.9M341.6 103.1L322.8 122M341.6 103.1L357.8 92.8M341.6 103.1L338.1 111M373.4 86.3L369.5 97.3M373.4 86.3L385.3 84.7M373.4 86.3L388.8 75.1M373.4 86.3L376.2 78.9M373.4 86.3L357.8 92.8M373.4 86.3L354.2 102.5M334.6 122.2L319.2 131.7M334.6 122.2L316.9 141.8M334.6 122.2L332.7 133.4M334.6 122.2L349.8 115.5M334.6 122.2L354.2 102.5M334.6 122.2L338.1 111M390.5 296.2L402.2 278.5M390.5 296.2L386.6 301M251.6 339.8L265.8 326.1M251.6 339.8L264.3 343.7M251.6 339.8L238.7 357.3M251.6 339.8L240 339.8M265.8 326.1L264.3 343.7M265.8 326.1L269.1 305.8M265.8 326.1L281.8 309.8M264.3 343.7L273.5 350.2M264.3 343.7L259.3 363.8M273.7 284.7L269.1 305.8M273.7 284.7L258.1 300.6M273.7 284.7L281 258.4M273.7 284.7L292.1 263.6M269.1 305.8L258.1 300.6M269.1 305.8L281.8 309.8M258.1 300.6L243.1 319.6M258.1 300.6L247.7 298.5M295.3 312.3L281.8 309.8M295.3 312.3L298.3 292.4M295.3 312.3L306.2 316.7M295.3 312.3L289.6 334.1M281.8 309.8L298.3 292.4M298.3 292.4L318.6 270.2M298.3 292.4L305 267.7M307.3 188.9L297.6 211.6M307.3 188.9L287.4 210.8M307.3 188.9L313.9 166.9M307.3 188.9L324.2 167.6M297.6 211.6L287.4 210.8M297.6 211.6L308.6 213.5M297.6 211.6L288.6 235.5M287.4 210.8L271.8 225.2M287.4 210.8L281.7 202.4M319.5 216.1L308.6 213.5M319.5 216.1L328.6 192.4M319.5 216.1L332.4 220.1M319.5 216.1L312.3 241.4M308.6 213.5L328.6 192.4M308.6 213.5L288.6 235.5M328.6 192.4L335.5 169.1M328.6 192.4L346.5 171.6M270.3 256.5L288.6 235.5M270.3 256.5L281 258.4M270.3 256.5L255 272.2M270.3 256.5L262.6 249.2M288.6 235.5L281 258.4M281 258.4L292.1 263.6M363.5 234.6L353.9 229.2M363.5 234.6L370.7 208.7M363.5 234.6L378.5 232.7M363.5 234.6L361.7 253.3M353.9 229.2L370.7 208.7M353.9 229.2L336 250.3M353.9 229.2L343.2 224.3M370.7 208.7L380.6 185.2M370.7 208.7L390.1 190.7M318.6 270.2L336 250.3M318.6 270.2L329.3 274.9M318.6 270.2L305 267.7M336 250.3L329.3 274.9M336 250.3L343.2 224.3M329.3 274.9L343.8 274.6M329.3 274.9L326.4 294.5M350.3 199.1L343.2 224.3M350.3 199.1L332.4 220.1M350.3 199.1L359.4 175.6M350.3 199.1L370.1 179.9M343.2 224.3L332.4 220.1M332.4 220.1L312.3 241.4M292.1 263.6L312.3 241.4M292.1 263.6L305 267.7M312.3 241.4L305 267.7M273.5 350.2L259.3 363.8M273.5 350.2L289.6 334.1M273.5 350.2L284.6 354.1M259.3 363.8L252.6 378.7M259.3 363.8L243.4 372.1M306.2 316.7L289.6 334.1M306.2 316.7L326.4 294.5M306.2 316.7L320.7 316.4M289.6 334.1L284.6 354.1M280.6 370.8L284.6 354.1M280.6 370.8L296.4 355.4M280.6 370.8L275.3 384.2M280.6 370.8L263.5 382.9M284.6 354.1L296.4 355.4M296.4 355.4L311.6 353.4M296.4 355.4L315.6 336.7M378.5 232.7L361.7 253.3M378.5 232.7L394.9 205.5M378.5 232.7L393.1 224.1M361.7 253.3L358.7 272.6M361.7 253.3L343.8 274.6M355.2 290.8L358.7 272.6M355.2 290.8L372.9 269.3M355.2 290.8L350.1 311.1M355.2 290.8L335.8 314.4M358.7 272.6L372.9 269.3M358.7 272.6L343.8 274.6M372.9 269.3L390.4 243.2M372.9 269.3L386.9 261.3M343.8 274.6L326.4 294.5M326.4 294.5L320.7 316.4M333.5 354.2L339.4 341.7M333.5 354.2L353.4 332.2M333.5 354.2L332.5 360.6M333.5 354.2L318.5 370.2M339.4 341.7L353.4 332.2M339.4 341.7L325.1 348.9M339.4 341.7L345.1 327M353.4 332.2L370.9 312.6M353.4 332.2L364.8 325.1M311.6 353.4L325.1 348.9M311.6 353.4L306 367.5M311.6 353.4L315.6 336.7M325.1 348.9L306 367.5M325.1 348.9L345.1 327M306 367.5L304 377.7M306 367.5L290.4 382.2M364.3 303.4L345.1 327M364.3 303.4L350.1 311.1M364.3 303.4L381.8 281.6M364.3 303.4L376.8 297.6M345.1 327L350.1 311.1M350.1 311.1L335.8 314.4M320.7 316.4L335.8 314.4M320.7 316.4L315.6 336.7M335.8 314.4L315.6 336.7M252.6 378.7L243.4 372.1M252.6 378.7L263.5 382.9M252.6 378.7L247.6 391.3M243.4 372.1L231.9 372.3M243.4 372.1L238.7 357.3M275.3 384.2L263.5 382.9M275.3 384.2L290.4 382.2M275.3 384.2L273.2 394.4M263.5 382.9L247.6 391.3M234.2 395.3L247.6 391.3M234.2 395.3L244.7 400.3M234.2 395.3L223.7 393.8M234.2 395.3L226.7 384.8M247.6 391.3L244.7 400.3M244.7 400.3L243.7 406.9M244.7 400.3L257.1 402.9M332.5 360.6L318.5 370.2M332.5 360.6L351.9 342.7M332.5 360.6L336.9 358.7M318.5 370.2L303 384.1M318.5 370.2L304 377.7M288.6 394.7L303 384.1M288.6 394.7L303.2 386.4M288.6 394.7L272.5 403.2M288.6 394.7L272.2 401M303 384.1L303.2 386.4M303 384.1L304 377.7M303.2 386.4L321.6 372.5M304 377.7L290.4 382.2M290.4 382.2L273.2 394.4M243.7 406.9L245 408.8M243.7 406.9L232.6 406.3M243.7 406.9L257.1 402.9M245 408.8L232.6 406.3M232.6 406.3L224.2 402.3M232.6 406.3L222.8 400.4M272.5 403.2L272.2 401M273.2 394.4L272.2 401M273.2 394.4L257.1 402.9M272.2 401L257.1 402.9M231.9 372.3L238.7 357.3M231.9 372.3L226.7 384.8M231.9 372.3L221.9 369.9M238.7 357.3L240 339.8M223.7 393.8L226.7 384.8M223.7 393.8L222.8 400.4M223.7 393.8L215.2 389.8M226.7 384.8L221.9 369.9M220.3 352L221.9 369.9M220.3 352L214.5 365.2M220.3 352L222.8 332.4M220.3 352L230.2 337.1M221.9 369.9L214.5 365.2M214.5 365.2L208.7 356.7M214.5 365.2L210.3 374.8M224.2 402.3L222.8 400.4M222.8 400.4L215.2 389.8M210.2 315.7L206.6 335.3M210.2 315.7L217.4 289.7M210.2 315.7L214.8 302.8M206.6 335.3L206.4 347.2M208.7 356.7L206.4 347.2M208.7 356.7L210.6 337.7M208.7 356.7L210.3 374.8M206.4 347.2L210.6 337.7M206.4 347.2L205.5 353.7M210.6 337.7L214.7 314.4M210.6 337.7L217 323.9M215.2 389.8L209.4 381.3M215.2 389.8L210.3 374.8M209.4 381.3L210.3 374.8M240 339.8L230.2 337.1M240 339.8L243.1 319.6M222.8 332.4L230.2 337.1M222.8 332.4L217 323.9M222.8 332.4L226.9 309M230.2 337.1L243.1 319.6M243.1 319.6L247.7 298.5M247.7 298.5L255 272.2M247.7 298.5L240 291.2M217.4 289.7L214.8 302.8M217.4 289.7L225.5 267.2M214.8 302.8L221.9 288.5M214.8 302.8L214.7 314.4M230.9 273.8L221.9 288.5M230.9 273.8L231.6 261.9M230.9 273.8L244 256M230.9 273.8L234.2 282.7M221.9 288.5L231.6 261.9M221.9 288.5L214.7 314.4M231.6 261.9L232.7 252.6M231.6 261.9L241.7 237.8M214.7 314.4L217 323.9M217 323.9L226.9 309M271.8 225.2L281.7 202.4M271.8 225.2L262.6 249.2M271.8 225.2L256.9 240.8M281.7 202.4L282.6 189.6M281.7 202.4L298.1 175.3M255 272.2L262.6 249.2M255 272.2L240 291.2M262.6 249.2L256.9 240.8M253.6 232L256.9 240.8M253.6 232L244 256M253.6 232L254.8 220M253.6 232L267.8 204.9M256.9 240.8L244 256M244 256L234.2 282.7M226.9 309L234.2 282.7M226.9 309L240 291.2M234.2 282.7L240 291.2M370.9 312.6L364.8 325.1M370.9 312.6L376.8 297.6M370.9 312.6L388.2 290.5M364.8 325.1L351.9 342.7M364.8 325.1L369.3 323M381.8 281.6L376.8 297.6M381.8 281.6L386.9 261.3M381.8 281.6L399.5 255.5M376.8 297.6L388.2 290.5M397.6 282.6L388.2 290.5M397.6 282.6L403.8 267.9M397.6 282.6L402.2 278.5M397.6 282.6L386.6 301M388.2 290.5L403.8 267.9M403.8 267.9L420.4 240.4M403.8 267.9L411 248.3M394.9 205.5L393.1 224.1M394.9 205.5L390.1 190.7M394.9 205.5L404.8 182M393.1 224.1L406.9 216.1M393.1 224.1L390.4 243.2M418.6 209L406.9 216.1M418.6 209L420.9 190M418.6 209L430.2 201.8M418.6 209L416.1 227.9M406.9 216.1L420.9 190M406.9 216.1L390.4 243.2M420.9 190L418.6 173.6M420.9 190L430.4 166.4M390.4 243.2L386.9 261.3M386.9 261.3L399.5 255.5M446.5 190.2L443.4 192.8M446.5 190.2L451.5 170.2M446.5 190.2L450 180.7M446.5 190.2L441.9 203.2M443.4 192.8L451.5 170.2M443.4 192.8L432.7 216.8M443.4 192.8L437.8 196.8M451.5 170.2L458.1 148.3M451.5 170.2L455.1 150.7M420.4 240.4L432.7 216.8M420.4 240.4L425.5 236.5M420.4 240.4L411 248.3M432.7 216.8L425.5 236.5M432.7 216.8L437.8 196.8M425.5 236.5L431.2 227.4M425.5 236.5L418.9 251M440.2 177.9L437.8 196.8M440.2 177.9L430.2 201.8M440.2 177.9L442 159.2M440.2 177.9L449.6 154.4M437.8 196.8L430.2 201.8M430.2 201.8L416.1 227.9M399.5 255.5L416.1 227.9M399.5 255.5L411 248.3M416.1 227.9L411 248.3M380.6 185.2L390.1 190.7M380.6 185.2L370.1 179.9M380.6 185.2L389.5 162M390.1 190.7L404.8 182M359.4 175.6L370.1 179.9M359.4 175.6L346.5 171.6M359.4 175.6L366.3 152.3M370.1 179.9L389.5 162M406.9 146.7L389.5 162M406.9 146.7L396.7 141M406.9 146.7L421.2 137.8M406.9 146.7L413.9 158.8M389.5 162L396.7 141M396.7 141L403.5 118.8M396.7 141L385.9 134M313.9 166.9L324.2 167.6M313.9 166.9L298.1 175.3M313.9 166.9L315 154M324.2 167.6L342.1 147.2M324.2 167.6L335.5 169.1M359.2 129.3L342.1 147.2M359.2 129.3L348 128.2M359.2 129.3L378.9 111.1M359.2 129.3L373 130M342.1 147.2L348 128.2M342.1 147.2L335.5 169.1M348 128.2L332.7 133.4M348 128.2L349.8 115.5M335.5 169.1L346.5 171.6M346.5 171.6L366.3 152.3M423 81.6L409.8 88.3M423 81.6L410.3 77.6M423 81.6L434.4 74.5M423 81.6L434 85.1M409.8 88.3L410.3 77.6M409.8 88.3L407.4 102.4M409.8 88.3L394.7 98.4M410.3 77.6L413.8 68.1M410.3 77.6L400.5 74.7M403.5 118.8L407.4 102.4M403.5 118.8L418.2 109.3M403.5 118.8L385.9 134M407.4 102.4L418.2 109.3M407.4 102.4L394.7 98.4M418.2 109.3L431.8 99.3M418.2 109.3L427.9 115.6M380.9 97.7L394.7 98.4M380.9 97.7L378.9 111.1M380.9 97.7L369.5 97.3M380.9 97.7L385.3 84.7M394.7 98.4L378.9 111.1M378.9 111.1L373 130M366.3 152.3L373 130M366.3 152.3L385.9 134M373 130L385.9 134M282.6 189.6L298.1 175.3M282.6 189.6L267.8 204.9M282.6 189.6L284.2 177.8M298.1 175.3L315 154M254.8 220L267.8 204.9M254.8 220L241.7 237.8M254.8 220L255.9 210.6M267.8 204.9L284.2 177.8M301.6 152.8L284.2 177.8M301.6 152.8L286.5 167.7M301.6 152.8L319.2 131.7M301.6 152.8L316.9 141.8M284.2 177.8L286.5 167.7M286.5 167.7L290.1 158M286.5 167.7L272.6 183.1M225.5 267.2L236.2 243M225.5 267.2L232.7 252.6M248.5 219.4L259.5 200.9M236.2 243L232.7 252.6M232.7 252.6L241.7 237.8M241.7 237.8L255.9 210.6M290.1 158L293.7 151.8M290.1 158L307.6 136.5M290.1 158L272.6 183.1M293.7 151.8L307.6 136.5M307.6 136.5L326.4 115.9M307.6 136.5L322.8 122M265.2 191.9L259.5 200.9M255.9 210.6L259.5 200.9M255.9 210.6L272.6 183.1M259.5 200.9L272.6 183.1M351.9 342.7L336.9 358.7M351.9 342.7L369.3 323M336.9 358.7L321.6 372.5M458.1 148.3L460.8 135.1M458.1 148.3L457.2 154.7M458.1 148.3L455.1 150.7M460.8 135.1L461.9 116.7M460.5 101.2L461.9 116.7M460.5 101.2L459.6 113.8M460.5 101.2L455.6 86.2M460.5 101.2L458 89.1M461.9 116.7L459.6 113.8M459.6 113.8L456.2 132.4M459.6 113.8L454.7 116.9M428.7 66.1L439.7 69.6M428.7 66.1L434.4 74.5M428.7 66.1L413.8 68.1M428.7 66.1L419 63.1M439.7 69.6L434.4 74.5M439.7 69.6L443.2 68.1M439.7 69.6L449 76.5M434.4 74.5L434 85.1M443.2 68.1L449 76.5M451.5 88.6L449 76.5M451.5 88.6L455.6 86.2M451.5 88.6L449.9 101.9M451.5 88.6L443.2 92.1M449 76.5L455.6 86.2M455.6 86.2L458 89.1M413.8 68.1L419 63.1M413.8 68.1L400.5 74.7M419 63.1L407.4 63.5M419 63.1L422.4 61.6M394.9 67.2L407.4 63.5M394.9 67.2L391.2 69.7M407.4 63.5L391.2 69.7M407.4 63.5L422.4 61.6M391.2 69.7L388.8 75.1M391.2 69.7L376.2 78.9M364.2 84L360.2 87.4M434 85.1L443.2 92.1M434 85.1L431.8 99.3M449.9 101.9L443.2 92.1M449.9 101.9L454.7 116.9M449.9 101.9L446.5 120.5M443.2 92.1L431.8 99.3M431.8 99.3L427.9 115.6M427.9 115.6L421.2 137.8M427.9 115.6L434.9 127.7M455.1 150.7L449.6 154.4M455.1 150.7L456.2 132.4M442 159.2L449.6 154.4M442 159.2L430.4 166.4M442 159.2L439.8 142.8M449.6 154.4L456.2 132.4M456.2 132.4L454.7 116.9M454.7 116.9L446.5 120.5M404.8 182L413.9 158.8M404.8 182L418.6 173.6M421.2 137.8L413.9 158.8M421.2 137.8L434.9 127.7M413.9 158.8L418.6 173.6M418.6 173.6L430.4 166.4M430.4 166.4L439.8 142.8M446.5 120.5L439.8 142.8M446.5 120.5L434.9 127.7M439.8 142.8L434.9 127.7M330.5 111.7L326.4 115.9M360.2 87.4L345.8 97.9M360.2 87.4L376.2 78.9M360.2 87.4L357.8 92.8M345.8 97.9L326.4 115.9M326.4 115.9L322.8 122M322.8 122L319.2 131.7M322.8 122L338.1 111M400.5 74.7L385.3 84.7M400.5 74.7L388.8 75.1M369.5 97.3L385.3 84.7M369.5 97.3L349.8 115.5M369.5 97.3L354.2 102.5M385.3 84.7L388.8 75.1M388.8 75.1L376.2 78.9M376.2 78.9L357.8 92.8M315 154L316.9 141.8M315 154L332.7 133.4M319.2 131.7L316.9 141.8M319.2 131.7L338.1 111M316.9 141.8L332.7 133.4M332.7 133.4L349.8 115.5M349.8 115.5L354.2 102.5M357.8 92.8L354.2 102.5M357.8 92.8L338.1 111M354.2 102.5L338.1 111M431.2 227.4L418.9 251M418.9 251L402.2 278.5M369.3 323L386.6 301M369.3 323L373.7 318.6M402.2 278.5L386.6 301M386.6 301L373.7 318.6" stroke="#1a1ad8" stroke-width="0.95" stroke-opacity="0.5" fill="none"/><circle cx="238.5" cy="169.5" r="10" fill="url(#sg)"/><circle cx="300.5" cy="163.2" r="9.5" fill="url(#sg)"/><circle cx="322.8" cy="234.5" r="9.5" fill="url(#sg)"/><circle cx="288.7" cy="121.5" r="8" fill="url(#sG)"/><path d="M232.7 152.2L238.6 154.4M232.7 152.2L235.5 162.9M232.7 152.2L229.3 156.8M232.7 152.2L228.6 144.6M232.7 152.2L234.3 143.1M345.9 152L342.9 154.3M345.9 152L338.6 143M345.9 152L351.1 156.7M345.9 152L350.6 162.7M345.9 152L343.7 144.5M350.8 231.1L344.3 235.6M350.8 231.1L347.4 227.2M350.8 231.1L355.6 229.6M350.8 231.1L349.4 237.1M350.8 231.1L354.4 223.4M280.8 231.2L272.4 223.5M280.8 231.2L283 227.3M280.8 231.2L273.6 229.7M280.8 231.2L284.9 237.2M280.8 231.2L290.6 235.7M272.9 103.2L265.2 105.5M272.9 103.2L265.7 99.5M272.9 103.2L275.7 109.3M272.9 103.2L282.7 105.5M272.9 103.2L276.5 99.5M300.9 176.4L298.3 185.2M300.9 176.4L290.9 173M300.9 176.4L297.1 165.4M300.9 176.4L309.1 185.1M300.9 176.4L308.4 172.9M262.1 162.9L257.8 171.1M262.1 162.9L253.5 159.8M262.1 162.9L271.4 166.2M262.1 162.9L268.5 174.9M262.1 162.9L256.6 151.1M262.1 162.9L267.2 154.9M290.4 209.4L282.8 198.5M290.4 209.4L293.1 201.8M290.4 209.4L287.8 216.2M290.4 209.4L279.6 207M290.4 209.4L298.1 219.4M290.4 209.4L301.2 210.8M250.4 195.2L244.5 184.6M250.4 195.2L251.8 187.5M250.4 195.2L259.4 199.8M250.4 195.2L257.1 205.3M250.4 195.2L242.4 189.9M250.4 195.2L249.9 202.3M254.9 218.6L252.2 214.1M254.9 218.6L260.6 223.3M254.9 218.6L245.9 208M254.9 218.6L264.9 228M226.7 172.1L226.3 166.9M226.7 172.1L230.4 178.2M226.7 172.1L231.6 184.5M226.7 172.1L228.3 177.3M226.7 172.1L223.3 159.7M226.7 172.1L224.6 165.9M223.8 125.6L224.1 131.2M223.8 125.6L221.9 136.2M223.8 125.6L222.4 130M223.8 125.6L224.9 120.9M223.8 125.6L227 122.3M223.8 125.6L227.4 116.1M247.5 96.8L239.4 101.6M247.5 96.8L243 98.8M247.5 96.8L252.8 96.3M247.5 96.8L245.2 100.1M247.5 96.8L256.7 93.9M247.5 96.8L250.8 95.4M245.7 119.9L240.9 126.8M245.7 119.9L238.1 119.4M245.7 119.9L244.4 111.7M245.7 119.9L251.5 114M245.7 119.9L248.3 129.3M245.7 119.9L254.6 121.7M285.8 134.1L274.9 128.9M285.8 134.1L282.2 124.9M285.8 134.1L289.5 144.1M285.8 134.1L279.2 140.3M285.8 134.1L296.9 140.3M285.8 134.1L292.6 128.9M297.8 247.3L293.5 245.3M297.8 247.3L303.8 248.6M331.5 209.3L322.1 210.8M331.5 209.3L324.6 201.8M331.5 209.3L337.7 216.2M331.5 209.3L329.9 219.4M331.5 209.3L340.1 207M331.5 209.3L332.2 198.4M319.7 241.6L310.3 240.9M319.7 241.6L313 235.7M319.7 241.6L323.9 235.7M319.7 241.6L328.7 240.9M319.7 241.6L325.9 245.8M319.7 241.6L314.9 245.8M312.3 119.8L306 121.6M312.3 119.8L302.5 113.9M312.3 119.8L321.7 126.7M312.3 119.8L317.4 129.3M312.3 119.8L318.1 119.3M312.3 119.8L306.7 111.7M328.7 162.8L322.4 166.1M328.7 162.8L318.6 154.8M328.7 162.8L325.7 151M328.7 162.8L334.2 159.7M328.7 162.8L337.9 171M328.7 162.8L330.8 174.8M288.6 96.7L284.3 96.2M288.6 96.7L277.5 93.9M288.6 96.7L299.8 101.5M288.6 96.7L294.7 100M358 195L361.7 202.1M358 195L358 205.2M358 195L356.8 184.4M358 195L361 189.8M358 195L352.7 187.3M358 195L353.5 199.7M331.5 125.4L336.4 131M331.5 125.4L327.8 122.2M245.6 157L238.6 154.4M245.6 157L241.9 165.3M245.6 157L249.5 168.1M245.6 157L253.5 159.8M245.6 157L240.7 145.4M245.6 157L248.3 148.2M254.3 179.4L257.8 171.1M254.3 179.4L249.5 168.1M254.3 179.4L246.4 176.6M254.3 179.4L251.8 187.5M254.3 179.4L264.5 183.3M254.3 179.4L261.4 191.9M239.5 173.7L241.9 165.3M239.5 173.7L235.5 162.9M239.5 173.7L244.5 184.6M239.5 173.7L246.4 176.6M239.5 173.7L232.5 167.7M239.5 173.7L237 179M295.7 193.7L298.3 185.2M295.7 193.7L288.3 181.7M295.7 193.7L285.5 190.5M295.7 193.7L293.1 201.8M295.7 193.7L306.6 194M295.7 193.7L303.9 202.8M275.4 186.9L282.8 198.5M275.4 186.9L285.5 190.5M275.4 186.9L278.1 178.3M275.4 186.9L268.5 174.9M275.4 186.9L264.5 183.3M275.4 186.9L272 195.7M281 169.5L288.3 181.7M281 169.5L290.9 173M281 169.5L271.4 166.2M281 169.5L278.1 178.3M281 169.5L287.1 161.9M281 169.5L276.8 158.3M264.5 214.8L272.4 223.5M264.5 214.8L274.7 219.1M264.5 214.8L266.6 209.7M264.5 214.8L257.1 205.3M264.5 214.8L265.3 221.5M264.5 214.8L257.1 212.1M269.2 203.8L259.4 199.8M269.2 203.8L266.6 209.7M269.2 203.8L277.1 213.4M269.2 203.8L279.6 207M269.2 203.8L272 195.7M269.2 203.8L261.4 191.9M285.3 222.2L274.7 219.1M285.3 222.2L283 227.3M285.3 222.2L287.8 216.2M285.3 222.2L277.1 213.4M285.3 222.2L292.9 231.4M285.3 222.2L295.5 225.8M235.7 184.2L242.4 189.9M235.7 184.2L237 179M235.7 184.2L230.8 173M235.7 184.2L230.4 178.2M235.7 184.2L242.5 196.8M235.7 184.2L236.1 190.6M227.2 161.7L232.5 167.7M227.2 161.7L229.3 156.8M227.2 161.7L226.3 166.9M227.2 161.7L230.8 173M227.2 161.7L225.6 149.3M227.2 161.7L223.7 154.5M266.9 227L273.6 229.7M266.9 227L265.3 221.5M266.9 227L258.4 218.3M266.9 227L260.6 223.3M266.9 227L277.8 235.3M266.9 227L271 232.1M250.6 208.6L252.2 214.1M250.6 208.6L258.4 218.3M250.6 208.6L257.1 212.1M250.6 208.6L249.9 202.3M250.6 208.6L242.5 196.8M250.6 208.6L243.7 203M238.1 196.5L231.6 184.5M238.1 196.5L234.1 189.7M238.1 196.5L241.5 201.9M238.1 196.5L245.9 208M238.1 196.5L243.7 203M238.1 196.5L236.1 190.6M221.7 147.6L223.3 159.7M221.7 147.6L223.7 154.5M221.7 147.6L223 142.3M221.7 147.6L221.9 136.2M221.7 147.6L222 153.5M221.7 147.6L221.2 141.2M225.7 137.6L225.6 149.3M225.7 137.6L228.6 144.6M225.7 137.6L224.1 131.2M225.7 137.6L223 142.3M225.7 137.6L230.6 135.6M225.7 137.6L228.1 128.4M231.8 120.2L227 122.3M231.8 120.2L228.1 128.4M231.8 120.2L233.8 126.9M231.8 120.2L238.1 119.4M231.8 120.2L231.4 113.4M231.8 120.2L237.2 111.8M237.1 134.6L230.6 135.6M237.1 134.6L234.3 143.1M237.1 134.6L240.9 126.8M237.1 134.6L233.8 126.9M237.1 134.6L240.7 145.4M237.1 134.6L244 136.9M232.7 108.1L239.4 101.6M232.7 108.1L235.5 104.4M232.7 108.1L229.3 112M232.7 108.1L227.4 116.1M232.7 108.1L231.4 113.4M232.7 108.1L237.7 105.7M258 109.2L265.2 105.5M258 109.2L258 102.3M258 109.2L250.7 106.4M258 109.2L251.5 114M258 109.2L268.1 112.1M258 109.2L260.9 116.4M244.2 105.1L244.4 111.7M244.2 105.1L250.7 106.4M244.2 105.1L251.1 100.4M244.2 105.1L245.2 100.1M244.2 105.1L237.7 105.7M244.2 105.1L237.2 111.8M258.9 97.2L258 102.3M258.9 97.2L265.7 99.5M258.9 97.2L252.8 96.3M258.9 97.2L251.1 100.4M258.9 97.2L269.3 96.2M258.9 97.2L262.5 94.2M251.9 139.8L248.3 129.3M251.9 139.8L244 136.9M251.9 139.8L248.3 148.2M251.9 139.8L256.6 151.1M251.9 139.8L257.7 131.7M251.9 139.8L262 143.2M278.8 116.6L275.7 109.3M278.8 116.6L268.1 112.1M278.8 116.6L271.4 120.1M278.8 116.6L282.2 124.9M278.8 116.6L285.6 112.1M278.8 116.6L289 120.1M264.4 124.7L274.9 128.9M264.4 124.7L271.4 120.1M264.4 124.7L260.9 116.4M264.4 124.7L254.6 121.7M264.4 124.7L257.7 131.7M264.4 124.7L268.3 135.5M273 147.3L267.2 154.9M273 147.3L276.8 158.3M273 147.3L283.1 150.7M273 147.3L279.2 140.3M273 147.3L268.3 135.5M273 147.3L262 143.2M293.3 154.6L287.1 161.9M293.3 154.6L297.1 165.4M293.3 154.6L289.5 144.1M293.3 154.6L283.1 150.7M293.3 154.6L304.6 161.9M293.3 154.6L300.7 150.7M289.2 241.9L284.9 237.2M289.2 241.9L277.8 235.3M289.2 241.9L282.2 239.7M289.2 241.9L293.5 245.3M289.2 241.9L294.9 241.3M289.2 241.9L299.4 245.8M275.5 236L286.6 242.5M275.5 236L282.2 239.7M275.5 236L271 232.1M275.5 236L264.9 228M305.7 228.2L298.1 219.4M305.7 228.2L295.5 225.8M305.7 228.2L303.2 234.2M305.7 228.2L313 235.7M305.7 228.2L309 220.4M305.7 228.2L316.8 229M300.5 239L292.9 231.4M300.5 239L290.6 235.7M300.5 239L310.3 240.9M300.5 239L303.2 234.2M300.5 239L294.9 241.3M300.5 239L305.2 244.3M317.1 193.7L309.1 185.1M317.1 193.7L306.6 194M317.1 193.7L314.7 202.8M317.1 193.7L324.6 201.8M317.1 193.7L316.7 181.7M317.1 193.7L324.9 190.4M311.9 211.3L322.1 210.8M311.9 211.3L314.7 202.8M311.9 211.3L303.9 202.8M311.9 211.3L301.2 210.8M311.9 211.3L309 220.4M311.9 211.3L319.9 220.4M336.9 238.9L344.3 235.6M336.9 238.9L340.6 231.3M336.9 238.9L332.5 234.2M336.9 238.9L328.7 240.9M336.9 238.9L342.5 241.3M336.9 238.9L334.5 244.3M327.3 228.2L323.9 235.7M327.3 228.2L332.5 234.2M327.3 228.2L335.6 225.7M327.3 228.2L329.9 219.4M327.3 228.2L319.9 220.4M327.3 228.2L316.8 229M343 222.1L340.6 231.3M343 222.1L347.4 227.2M343 222.1L337.7 216.2M343 222.1L335.6 225.7M343 222.1L350.7 219M343 222.1L345.8 213.4M308 147.3L296.9 140.3M308 147.3L300.7 150.7M308 147.3L312 158.2M308 147.3L318.6 154.8M308 147.3L303.8 135.5M308 147.3L315.2 143.1M315.6 169.5L304.6 161.9M315.6 169.5L308.4 172.9M315.6 169.5L322.4 166.1M315.6 169.5L312 158.2M315.6 169.5L316.7 181.7M315.6 169.5L324.1 178.2M292.6 109.1L282.7 105.5M292.6 109.1L285.6 112.1M292.6 109.1L296 116.3M292.6 109.1L302.5 113.9M292.6 109.1L286.3 102.2M292.6 109.1L296.7 106.4M299.3 124.7L306 121.6M299.3 124.7L296 116.3M299.3 124.7L289 120.1M299.3 124.7L292.6 128.9M299.3 124.7L303.8 135.5M299.3 124.7L310.8 131.7M339 156.8L342.9 154.3M339 156.8L335.3 145.3M339 156.8L330.8 148.1M339 156.8L334.2 159.7M339 156.8L347.4 165.1M339 156.8L343 168M321.9 139.7L325.7 151M321.9 139.7L330.8 148.1M321.9 139.7L326.5 136.8M321.9 139.7L317.4 129.3M321.9 139.7L310.8 131.7M321.9 139.7L315.2 143.1M330.5 134.5L335.3 145.3M330.5 134.5L338.6 143M330.5 134.5L321.7 126.7M330.5 134.5L326.5 136.8M330.5 134.5L336.1 135.5M330.5 134.5L327.3 126.8M266.7 92.9L256.7 93.9M266.7 92.9L262.5 94.2M266.7 92.9L273.3 94.2M266.7 92.9L277.5 93.9M280.3 97.1L269.3 96.2M280.3 97.1L276.5 99.5M280.3 97.1L284.3 96.2M280.3 97.1L273.3 94.2M280.3 97.1L286.3 102.2M280.3 97.1L290.5 100.3M359.2 226.9L355.6 229.6M359.2 226.9L353.8 235.2M359.2 226.9L357.1 232M359.2 226.9L361.5 223.1M359.2 226.9L358.8 221.4M359.2 226.9L362.2 218.2M346.9 241.8L353.8 235.2M346.9 241.8L349.4 237.1M346.9 241.8L343.4 245.2M346.9 241.8L350.9 239.6M346.9 241.8L342.5 241.3M346.9 241.8L339.5 245.7M356.8 214.7L354.4 223.4M356.8 214.7L358.8 221.4M356.8 214.7L361 212M356.8 214.7L358 205.2M356.8 214.7L350.7 219M356.8 214.7L352.7 209.6M363.7 208.5L361.7 202.1M363.7 208.5L361 212M363.7 208.5L362.2 218.2M363.7 208.5L364 214M363.7 208.5L365.2 202.8M363.7 208.5L363.9 196.6M355.2 161.6L351.1 156.7M355.2 161.6L355.5 167.5M355.2 161.6L359.4 172.8M355.2 161.6L358.1 166.7M355.2 161.6L348.6 149.2M355.2 161.6L352.3 154.3M362.3 184.1L361.8 178.1M362.3 184.1L359.4 172.8M362.3 184.1L358.9 178.9M362.3 184.1L361 189.8M362.3 184.1L363.9 196.6M362.3 184.1L364.4 190.5M354.3 173.6L355.5 167.5M354.3 173.6L350.6 162.7M354.3 173.6L356.8 184.4M354.3 173.6L358.9 178.9M354.3 173.6L347.4 165.1M354.3 173.6L350.7 176.5M340.5 137.4L343.7 144.5M340.5 137.4L348.6 149.2M340.5 137.4L344.9 142.1M340.5 137.4L336.4 131M340.5 137.4L336.1 135.5M340.5 137.4L332.3 128.3M331.2 248.1L335.6 248.6M331.2 248.1L339.5 245.7M331.2 248.1L334.5 244.3M331.2 248.1L325.9 245.8M331.2 248.1L325.9 250.7M331.2 248.1L320.8 249.2M319.7 251.1L325.9 250.7M319.7 251.1L314.9 250.7M309.6 248.1L314.9 245.8M309.6 248.1L305.2 244.3M309.6 248.1L299.4 245.8M309.6 248.1L303.8 248.6M309.6 248.1L314.9 250.7M309.6 248.1L320.8 249.2M345.9 179.3L352.7 187.3M345.9 179.3L350.7 176.5M345.9 179.3L343 168M345.9 179.3L337.9 171M345.9 179.3L347.4 191.8M345.9 179.3L339.6 183.2M347.4 203.7L340.1 207M347.4 203.7L345.8 213.4M347.4 203.7L352.7 209.6M347.4 203.7L353.5 199.7M347.4 203.7L347.4 191.8M347.4 203.7L340.3 195.6M332 186.8L330.8 174.8M332 186.8L324.1 178.2M332 186.8L324.9 190.4M332 186.8L332.2 198.4M332 186.8L340.3 195.6M332 186.8L339.6 183.2M310.9 108L317.4 113.2M310.9 108L306 105.6M323.3 120.1L318.1 119.3M323.3 120.1L327.3 126.8M323.3 120.1L332.3 128.3M323.3 120.1L327.8 122.2M323.3 120.1L317.4 113.2M323.3 120.1L312.3 111.7M300.8 105L294.7 100M300.8 105L290.5 100.3M300.8 105L296.7 106.4M300.8 105L306.7 111.7M300.8 105L312.3 111.7M300.8 105L306 105.6M238.6 154.4L241.9 165.3M238.6 154.4L235.5 162.9M238.6 154.4L234.3 143.1M238.6 154.4L240.7 145.4M241.9 165.3L235.5 162.9M241.9 165.3L249.5 168.1M241.9 165.3L246.4 176.6M235.5 162.9L232.5 167.7M235.5 162.9L229.3 156.8M257.8 171.1L249.5 168.1M257.8 171.1L253.5 159.8M257.8 171.1L268.5 174.9M257.8 171.1L264.5 183.3M249.5 168.1L253.5 159.8M249.5 168.1L246.4 176.6M253.5 159.8L248.3 148.2M253.5 159.8L256.6 151.1M244.5 184.6L246.4 176.6M244.5 184.6L251.8 187.5M244.5 184.6L242.4 189.9M244.5 184.6L237 179M246.4 176.6L251.8 187.5M251.8 187.5L259.4 199.8M251.8 187.5L261.4 191.9M298.3 185.2L288.3 181.7M298.3 185.2L290.9 173M298.3 185.2L309.1 185.1M298.3 185.2L306.6 194M288.3 181.7L290.9 173M288.3 181.7L285.5 190.5M288.3 181.7L278.1 178.3M290.9 173L287.1 161.9M290.9 173L297.1 165.4M282.8 198.5L285.5 190.5M282.8 198.5L293.1 201.8M282.8 198.5L279.6 207M282.8 198.5L272 195.7M285.5 190.5L293.1 201.8M285.5 190.5L278.1 178.3M293.1 201.8L303.9 202.8M293.1 201.8L301.2 210.8M271.4 166.2L278.1 178.3M271.4 166.2L268.5 174.9M271.4 166.2L267.2 154.9M271.4 166.2L276.8 158.3M278.1 178.3L268.5 174.9M268.5 174.9L264.5 183.3M272.4 223.5L274.7 219.1M272.4 223.5L283 227.3M272.4 223.5L273.6 229.7M272.4 223.5L265.3 221.5M274.7 219.1L283 227.3M274.7 219.1L266.6 209.7M274.7 219.1L277.1 213.4M283 227.3L292.9 231.4M283 227.3L290.6 235.7M259.4 199.8L266.6 209.7M259.4 199.8L257.1 205.3M259.4 199.8L261.4 191.9M266.6 209.7L257.1 205.3M266.6 209.7L277.1 213.4M257.1 205.3L257.1 212.1M257.1 205.3L249.9 202.3M287.8 216.2L277.1 213.4M287.8 216.2L279.6 207M287.8 216.2L298.1 219.4M287.8 216.2L295.5 225.8M277.1 213.4L279.6 207M279.6 207L272 195.7M264.5 183.3L272 195.7M264.5 183.3L261.4 191.9M272 195.7L261.4 191.9M232.5 167.7L229.3 156.8M232.5 167.7L237 179M232.5 167.7L230.8 173M229.3 156.8L225.6 149.3M229.3 156.8L228.6 144.6M242.4 189.9L237 179M242.4 189.9L249.9 202.3M242.4 189.9L242.5 196.8M237 179L230.8 173M226.3 166.9L230.8 173M226.3 166.9L230.4 178.2M226.3 166.9L223.3 159.7M226.3 166.9L223.7 154.5M230.8 173L230.4 178.2M230.4 178.2L231.6 184.5M230.4 178.2L236.1 190.6M273.6 229.7L265.3 221.5M273.6 229.7L284.9 237.2M273.6 229.7L277.8 235.3M265.3 221.5L258.4 218.3M265.3 221.5L257.1 212.1M252.2 214.1L258.4 218.3M252.2 214.1L260.6 223.3M252.2 214.1L245.9 208M252.2 214.1L243.7 203M258.4 218.3L260.6 223.3M258.4 218.3L257.1 212.1M260.6 223.3L271 232.1M260.6 223.3L264.9 228M257.1 212.1L249.9 202.3M249.9 202.3L242.5 196.8M231.6 184.5L234.1 189.7M231.6 184.5L228.3 177.3M231.6 184.5L236.1 190.6M241.5 201.9L245.9 208M245.9 208L243.7 203M242.5 196.8L243.7 203M242.5 196.8L236.1 190.6M243.7 203L236.1 190.6M225.6 149.3L228.6 144.6M225.6 149.3L223.7 154.5M225.6 149.3L223 142.3M228.6 144.6L230.6 135.6M228.6 144.6L234.3 143.1M223.3 159.7L223.7 154.5M223.3 159.7L224.6 165.9M223.3 159.7L222 153.5M223.7 154.5L223 142.3M224.1 131.2L223 142.3M224.1 131.2L221.9 136.2M224.1 131.2L227 122.3M224.1 131.2L228.1 128.4M223 142.3L221.9 136.2M221.9 136.2L222.4 130M221.9 136.2L221.2 141.2M224.9 120.9L227.4 116.1M230.6 135.6L234.3 143.1M230.6 135.6L228.1 128.4M230.6 135.6L233.8 126.9M234.3 143.1L240.7 145.4M227 122.3L228.1 128.4M227 122.3L227.4 116.1M227 122.3L231.4 113.4M228.1 128.4L233.8 126.9M240.9 126.8L233.8 126.9M240.9 126.8L238.1 119.4M240.9 126.8L248.3 129.3M240.9 126.8L244 136.9M233.8 126.9L238.1 119.4M238.1 119.4L244.4 111.7M238.1 119.4L237.2 111.8M239.4 101.6L235.5 104.4M239.4 101.6L243 98.8M239.4 101.6L245.2 100.1M239.4 101.6L237.7 105.7M229.3 112L227.4 116.1M227.4 116.1L231.4 113.4M265.2 105.5L258 102.3M265.2 105.5L265.7 99.5M265.2 105.5L275.7 109.3M265.2 105.5L268.1 112.1M258 102.3L265.7 99.5M258 102.3L250.7 106.4M258 102.3L251.1 100.4M265.7 99.5L269.3 96.2M265.7 99.5L276.5 99.5M244.4 111.7L250.7 106.4M244.4 111.7L251.5 114M244.4 111.7L237.2 111.8M250.7 106.4L251.5 114M250.7 106.4L251.1 100.4M251.5 114L260.9 116.4M251.5 114L254.6 121.7M252.8 96.3L251.1 100.4M252.8 96.3L245.2 100.1M252.8 96.3L256.7 93.9M252.8 96.3L262.5 94.2M251.1 100.4L245.2 100.1M245.2 100.1L237.7 105.7M231.4 113.4L237.7 105.7M231.4 113.4L237.2 111.8M237.7 105.7L237.2 111.8M240.7 145.4L244 136.9M240.7 145.4L248.3 148.2M248.3 129.3L244 136.9M248.3 129.3L254.6 121.7M248.3 129.3L257.7 131.7M244 136.9L248.3 148.2M248.3 148.2L256.6 151.1M256.6 151.1L267.2 154.9M256.6 151.1L262 143.2M275.7 109.3L268.1 112.1M275.7 109.3L282.7 105.5M275.7 109.3L285.6 112.1M268.1 112.1L271.4 120.1M268.1 112.1L260.9 116.4M274.9 128.9L271.4 120.1M274.9 128.9L282.2 124.9M274.9 128.9L279.2 140.3M274.9 128.9L268.3 135.5M271.4 120.1L282.2 124.9M271.4 120.1L260.9 116.4M282.2 124.9L289 120.1M282.2 124.9L292.6 128.9M260.9 116.4L254.6 121.7M254.6 121.7L257.7 131.7M287.1 161.9L297.1 165.4M287.1 161.9L276.8 158.3M287.1 161.9L283.1 150.7M297.1 165.4L304.6 161.9M297.1 165.4L308.4 172.9M267.2 154.9L276.8 158.3M267.2 154.9L262 143.2M276.8 158.3L283.1 150.7M289.5 144.1L283.1 150.7M289.5 144.1L279.2 140.3M289.5 144.1L296.9 140.3M289.5 144.1L300.7 150.7M283.1 150.7L279.2 140.3M279.2 140.3L268.3 135.5M257.7 131.7L268.3 135.5M257.7 131.7L262 143.2M268.3 135.5L262 143.2M284.9 237.2L277.8 235.3M284.9 237.2L290.6 235.7M284.9 237.2L294.9 241.3M277.8 235.3L282.2 239.7M277.8 235.3L271 232.1M286.6 242.5L282.2 239.7M286.6 242.5L293.5 245.3M282.2 239.7L293.5 245.3M282.2 239.7L271 232.1M293.5 245.3L299.4 245.8M293.5 245.3L303.8 248.6M271 232.1L264.9 228M292.9 231.4L290.6 235.7M292.9 231.4L295.5 225.8M292.9 231.4L303.2 234.2M290.6 235.7L294.9 241.3M298.1 219.4L295.5 225.8M298.1 219.4L301.2 210.8M298.1 219.4L309 220.4M295.5 225.8L303.2 234.2M310.3 240.9L303.2 234.2M310.3 240.9L313 235.7M310.3 240.9L314.9 245.8M310.3 240.9L305.2 244.3M303.2 234.2L313 235.7M313 235.7L323.9 235.7M313 235.7L316.8 229M309.1 185.1L306.6 194M309.1 185.1L308.4 172.9M309.1 185.1L316.7 181.7M306.6 194L314.7 202.8M306.6 194L303.9 202.8M322.1 210.8L314.7 202.8M322.1 210.8L324.6 201.8M322.1 210.8L329.9 219.4M322.1 210.8L319.9 220.4M314.7 202.8L324.6 201.8M314.7 202.8L303.9 202.8M324.6 201.8L324.9 190.4M324.6 201.8L332.2 198.4M303.9 202.8L301.2 210.8M301.2 210.8L309 220.4M344.3 235.6L340.6 231.3M344.3 235.6L347.4 227.2M344.3 235.6L349.4 237.1M344.3 235.6L342.5 241.3M340.6 231.3L347.4 227.2M340.6 231.3L332.5 234.2M340.6 231.3L335.6 225.7M347.4 227.2L354.4 223.4M347.4 227.2L350.7 219M323.9 235.7L332.5 234.2M323.9 235.7L328.7 240.9M323.9 235.7L316.8 229M332.5 234.2L328.7 240.9M332.5 234.2L335.6 225.7M328.7 240.9L334.5 244.3M328.7 240.9L325.9 245.8M337.7 216.2L335.6 225.7M337.7 216.2L329.9 219.4M337.7 216.2L340.1 207M337.7 216.2L345.8 213.4M335.6 225.7L329.9 219.4M329.9 219.4L319.9 220.4M309 220.4L319.9 220.4M309 220.4L316.8 229M319.9 220.4L316.8 229M304.6 161.9L308.4 172.9M304.6 161.9L300.7 150.7M304.6 161.9L312 158.2M308.4 172.9L316.7 181.7M296.9 140.3L300.7 150.7M296.9 140.3L292.6 128.9M296.9 140.3L303.8 135.5M300.7 150.7L312 158.2M322.4 166.1L312 158.2M322.4 166.1L318.6 154.8M322.4 166.1L330.8 174.8M322.4 166.1L324.1 178.2M312 158.2L318.6 154.8M318.6 154.8L325.7 151M318.6 154.8L315.2 143.1M282.7 105.5L285.6 112.1M282.7 105.5L276.5 99.5M282.7 105.5L286.3 102.2M285.6 112.1L296 116.3M285.6 112.1L289 120.1M306 121.6L296 116.3M306 121.6L302.5 113.9M306 121.6L317.4 129.3M306 121.6L310.8 131.7M296 116.3L302.5 113.9M296 116.3L289 120.1M302.5 113.9L296.7 106.4M302.5 113.9L306.7 111.7M289 120.1L292.6 128.9M292.6 128.9L303.8 135.5M342.9 154.3L335.3 145.3M342.9 154.3L338.6 143M342.9 154.3L350.6 162.7M342.9 154.3L347.4 165.1M335.3 145.3L338.6 143M335.3 145.3L330.8 148.1M335.3 145.3L326.5 136.8M338.6 143L343.7 144.5M338.6 143L336.1 135.5M325.7 151L330.8 148.1M325.7 151L334.2 159.7M325.7 151L315.2 143.1M330.8 148.1L334.2 159.7M330.8 148.1L326.5 136.8M334.2 159.7L343 168M334.2 159.7L337.9 171M321.7 126.7L326.5 136.8M321.7 126.7L317.4 129.3M321.7 126.7L318.1 119.3M321.7 126.7L327.3 126.8M326.5 136.8L317.4 129.3M317.4 129.3L310.8 131.7M303.8 135.5L310.8 131.7M303.8 135.5L315.2 143.1M310.8 131.7L315.2 143.1M269.3 96.2L276.5 99.5M269.3 96.2L262.5 94.2M269.3 96.2L273.3 94.2M276.5 99.5L286.3 102.2M256.7 93.9L262.5 94.2M256.7 93.9L250.8 95.4M262.5 94.2L273.3 94.2M284.3 96.2L273.3 94.2M284.3 96.2L277.5 93.9M284.3 96.2L294.7 100M284.3 96.2L290.5 100.3M273.3 94.2L277.5 93.9M355.6 229.6L353.8 235.2M355.6 229.6L349.4 237.1M355.6 229.6L354.4 223.4M355.6 229.6L358.8 221.4M353.8 235.2L349.4 237.1M353.8 235.2L357.1 232M353.8 235.2L350.9 239.6M349.4 237.1L342.5 241.3M357.1 232L361.5 223.1M357.1 232L350.9 239.6M361.5 223.1L362.2 218.2M361.5 223.1L364 214M343.4 245.2L350.9 239.6M343.4 245.2L335.6 248.6M343.4 245.2L339.5 245.7M354.4 223.4L358.8 221.4M354.4 223.4L350.7 219M358.8 221.4L361 212M358.8 221.4L362.2 218.2M361.7 202.1L361 212M361.7 202.1L358 205.2M361.7 202.1L361 189.8M361.7 202.1L363.9 196.6M361 212L358 205.2M361 212L362.2 218.2M358 205.2L352.7 209.6M358 205.2L353.5 199.7M362.2 218.2L364 214M364 214L365.2 202.8M351.1 156.7L355.5 167.5M351.1 156.7L350.6 162.7M351.1 156.7L343.7 144.5M351.1 156.7L348.6 149.2M355.5 167.5L350.6 162.7M355.5 167.5L359.4 172.8M355.5 167.5L358.9 178.9M350.6 162.7L347.4 165.1M361.8 178.1L359.4 172.8M361.8 178.1L358.1 166.7M361.8 178.1L364.4 190.5M359.4 172.8L358.1 166.7M359.4 172.8L358.9 178.9M358.1 166.7L352.3 154.3M356.8 184.4L358.9 178.9M356.8 184.4L361 189.8M356.8 184.4L352.7 187.3M356.8 184.4L350.7 176.5M358.9 178.9L361 189.8M361 189.8L363.9 196.6M365.2 202.8L363.9 196.6M365.2 202.8L364.4 190.5M363.9 196.6L364.4 190.5M343.7 144.5L348.6 149.2M343.7 144.5L336.1 135.5M348.6 149.2L344.9 142.1M348.6 149.2L352.3 154.3M340.5 136L336.4 131M344.9 142.1L336.4 131M344.9 142.1L352.3 154.3M336.4 131L332.3 128.3M336.4 131L327.8 122.2M342.5 241.3L339.5 245.7M342.5 241.3L334.5 244.3M335.6 248.6L339.5 245.7M335.6 248.6L325.9 250.7M339.5 245.7L334.5 244.3M334.5 244.3L325.9 245.8M325.9 245.8L314.9 245.8M325.9 245.8L320.8 249.2M308.9 250.1L303.8 248.6M308.9 250.1L314.9 250.7M329.7 250.1L325.9 250.7M294.9 241.3L305.2 244.3M294.9 241.3L299.4 245.8M314.9 245.8L305.2 244.3M314.9 245.8L320.8 249.2M305.2 244.3L299.4 245.8M299.4 245.8L303.8 248.6M303.8 248.6L314.9 250.7M325.9 250.7L314.9 250.7M325.9 250.7L320.8 249.2M314.9 250.7L320.8 249.2M347.4 165.1L350.7 176.5M347.4 165.1L343 168M352.7 187.3L350.7 176.5M352.7 187.3L353.5 199.7M352.7 187.3L347.4 191.8M350.7 176.5L343 168M343 168L337.9 171M337.9 171L330.8 174.8M337.9 171L339.6 183.2M350.7 219L345.8 213.4M350.7 219L352.7 209.6M340.1 207L345.8 213.4M340.1 207L332.2 198.4M340.1 207L340.3 195.6M345.8 213.4L352.7 209.6M352.7 209.6L353.5 199.7M353.5 199.7L347.4 191.8M316.7 181.7L324.1 178.2M316.7 181.7L324.9 190.4M330.8 174.8L324.1 178.2M330.8 174.8L339.6 183.2M324.1 178.2L324.9 190.4M324.9 190.4L332.2 198.4M332.2 198.4L340.3 195.6M347.4 191.8L340.3 195.6M347.4 191.8L339.6 183.2M340.3 195.6L339.6 183.2M321.5 116L327.8 122.2M321.5 116L317.4 113.2M299.8 101.5L294.7 100M299.8 101.5L306 105.6M336.1 135.5L327.3 126.8M336.1 135.5L332.3 128.3M318.1 119.3L327.3 126.8M318.1 119.3L306.7 111.7M318.1 119.3L312.3 111.7M327.3 126.8L332.3 128.3M332.3 128.3L327.8 122.2M327.8 122.2L317.4 113.2M286.3 102.2L290.5 100.3M286.3 102.2L296.7 106.4M294.7 100L290.5 100.3M294.7 100L306 105.6M290.5 100.3L296.7 106.4M296.7 106.4L306.7 111.7M306.7 111.7L312.3 111.7M317.4 113.2L312.3 111.7M317.4 113.2L306 105.6M312.3 111.7L306 105.6" stroke="#28883a" stroke-width="0.6" stroke-opacity="0.6" fill="none"/><circle cx="121.6" cy="177.8" r="9.8" fill="url(#sr)"/><circle cx="289.8" cy="154.2" r="9.8" fill="url(#sb)"/><clipPath id="cf"><rect x="0" y="0" width="520" height="422"/></clipPath><circle cx="242.5" cy="416" r="10" fill="url(#sb)" clip-path="url(#cf)"/><path d="M71.6 38V442.5M67 38H72M67 78.4H72M67 118.8H72M67 159.2H72M67 199.6H72M67 240H72M67 280.4H72M67 320.8H72M67 361.2H72M67 401.6H72M67 442H72" stroke="#000" stroke-width="1.6" fill="none"/><path d="M77.5 448.2H485.6M116.6 448V452M157.5 448V452M198.4 448V452M239.3 448V452M280.2 448V452M321.2 448V452M362.1 448V452M403 448V452M443.9 448V452M484.8 448V452" stroke="#000" stroke-width="1.6" fill="none"/><text x="66" y="41.8" font-size="10.5" text-anchor="end" fill="#222">36</text><text x="66" y="82.2" font-size="10.5" text-anchor="end" fill="#222">27</text><text x="66" y="122.6" font-size="10.5" text-anchor="end" fill="#222">18</text><text x="66" y="163" font-size="10.5" text-anchor="end" fill="#222">9</text><text x="66" y="203.4" font-size="10.5" text-anchor="end" fill="#222">0</text><text x="66" y="243.8" font-size="10.5" text-anchor="end" fill="#222">-8</text><text x="66" y="284.2" font-size="10.5" text-anchor="end" fill="#222">-17</text><text x="66" y="324.6" font-size="10.5" text-anchor="end" fill="#222">-26</text><text x="66" y="365" font-size="10.5" text-anchor="end" fill="#222">-35</text><text x="66" y="405.4" font-size="10.5" text-anchor="end" fill="#222">-44</text><text x="66" y="445.8" font-size="10.5" text-anchor="end" fill="#222">-53</text><text x="113.6" y="462.8" font-size="10.9" text-anchor="middle" fill="#222">-56</text><text x="154.5" y="462.8" font-size="10.9" text-anchor="middle" fill="#222">-43</text><text x="195.4" y="462.8" font-size="10.9" text-anchor="middle" fill="#222">-30</text><text x="236.3" y="462.8" font-size="10.9" text-anchor="middle" fill="#222">-17</text><text x="277.2" y="462.8" font-size="10.9" text-anchor="middle" fill="#222">-5</text><text x="320.7" y="462.8" font-size="10.9" text-anchor="middle" fill="#222">8</text><text x="361.6" y="462.8" font-size="10.9" text-anchor="middle" fill="#222">21</text><text x="402.5" y="462.8" font-size="10.9" text-anchor="middle" fill="#222">34</text><text x="443.4" y="462.8" font-size="10.9" text-anchor="middle" fill="#222">47</text><text x="484.3" y="462.8" font-size="10.9" text-anchor="middle" fill="#222">60</text><text x="256" y="475.5" font-size="12.5" letter-spacing="0.7" fill="#333">PC #1</text><text x="306" y="475.5" font-size="12.5" letter-spacing="0.9" fill="#333">20%</text><text transform="translate(48.3 264) rotate(-90)" font-size="12.5" fill="#333">PC #2 10.3%</text><polygon points="74.6,454.5 106.6,420 102.4,416 70.4,450.5" fill="#1c1c1c"/><g fill="#f4f4f4"><ellipse cx="72.6" cy="450.7" rx="0.8" ry="1.3" transform="rotate(-30 72.6 450.7)"/><ellipse cx="75.1" cy="451.4" rx="0.8" ry="1.3" transform="rotate(-30 75.1 451.4)"/><ellipse cx="75" cy="448" rx="0.8" ry="1.3" transform="rotate(-30 75 448)"/><ellipse cx="77.6" cy="448.8" rx="0.8" ry="1.3" transform="rotate(-30 77.6 448.8)"/><ellipse cx="77.5" cy="445.4" rx="0.8" ry="1.3" transform="rotate(-30 77.5 445.4)"/><ellipse cx="80" cy="446.1" rx="0.8" ry="1.3" transform="rotate(-30 80 446.1)"/><ellipse cx="79.9" cy="442.7" rx="0.8" ry="1.3" transform="rotate(-30 79.9 442.7)"/><ellipse cx="82.5" cy="443.5" rx="0.8" ry="1.3" transform="rotate(-30 82.5 443.5)"/><ellipse cx="82.4" cy="440.1" rx="0.8" ry="1.3" transform="rotate(-30 82.4 440.1)"/><ellipse cx="84.9" cy="440.9" rx="0.8" ry="1.3" transform="rotate(-30 84.9 440.9)"/><ellipse cx="84.8" cy="437.5" rx="0.8" ry="1.3" transform="rotate(-30 84.8 437.5)"/><ellipse cx="87.4" cy="438.2" rx="0.8" ry="1.3" transform="rotate(-30 87.4 438.2)"/><ellipse cx="87.3" cy="434.8" rx="0.8" ry="1.3" transform="rotate(-30 87.3 434.8)"/><ellipse cx="89.8" cy="435.6" rx="0.8" ry="1.3" transform="rotate(-30 89.8 435.6)"/><ellipse cx="89.7" cy="432.2" rx="0.8" ry="1.3" transform="rotate(-30 89.7 432.2)"/><ellipse cx="92.3" cy="432.9" rx="0.8" ry="1.3" transform="rotate(-30 92.3 432.9)"/><ellipse cx="92.2" cy="429.5" rx="0.8" ry="1.3" transform="rotate(-30 92.2 429.5)"/><ellipse cx="94.7" cy="430.3" rx="0.8" ry="1.3" transform="rotate(-30 94.7 430.3)"/><ellipse cx="94.6" cy="426.9" rx="0.8" ry="1.3" transform="rotate(-30 94.6 426.9)"/><ellipse cx="97.2" cy="427.7" rx="0.8" ry="1.3" transform="rotate(-30 97.2 427.7)"/><ellipse cx="97.1" cy="424.3" rx="0.8" ry="1.3" transform="rotate(-30 97.1 424.3)"/><ellipse cx="99.6" cy="425" rx="0.8" ry="1.3" transform="rotate(-30 99.6 425)"/><ellipse cx="99.5" cy="421.6" rx="0.8" ry="1.3" transform="rotate(-30 99.5 421.6)"/><ellipse cx="102.1" cy="422.4" rx="0.8" ry="1.3" transform="rotate(-30 102.1 422.4)"/><ellipse cx="102" cy="419" rx="0.8" ry="1.3" transform="rotate(-30 102 419)"/><ellipse cx="104.5" cy="419.7" rx="0.8" ry="1.3" transform="rotate(-30 104.5 419.7)"/></g><polygon points="72.8,467.8 75.2,468.6 71.6,478.6 69,477.8" fill="#111"/><text x="53.5" y="466" font-size="10" fill="#111">44</text><text x="68.5" y="463" font-size="10.5" fill="#111">70</text><text x="62" y="455" font-size="9" fill="#111" transform="rotate(-35 68 451)">-48</text><text x="57.5" y="459.5" font-size="8" fill="#111">3</text><rect x="7.5" y="6.5" width="505" height="489" fill="none" stroke="#000" stroke-width="3"/></svg></body></html>
